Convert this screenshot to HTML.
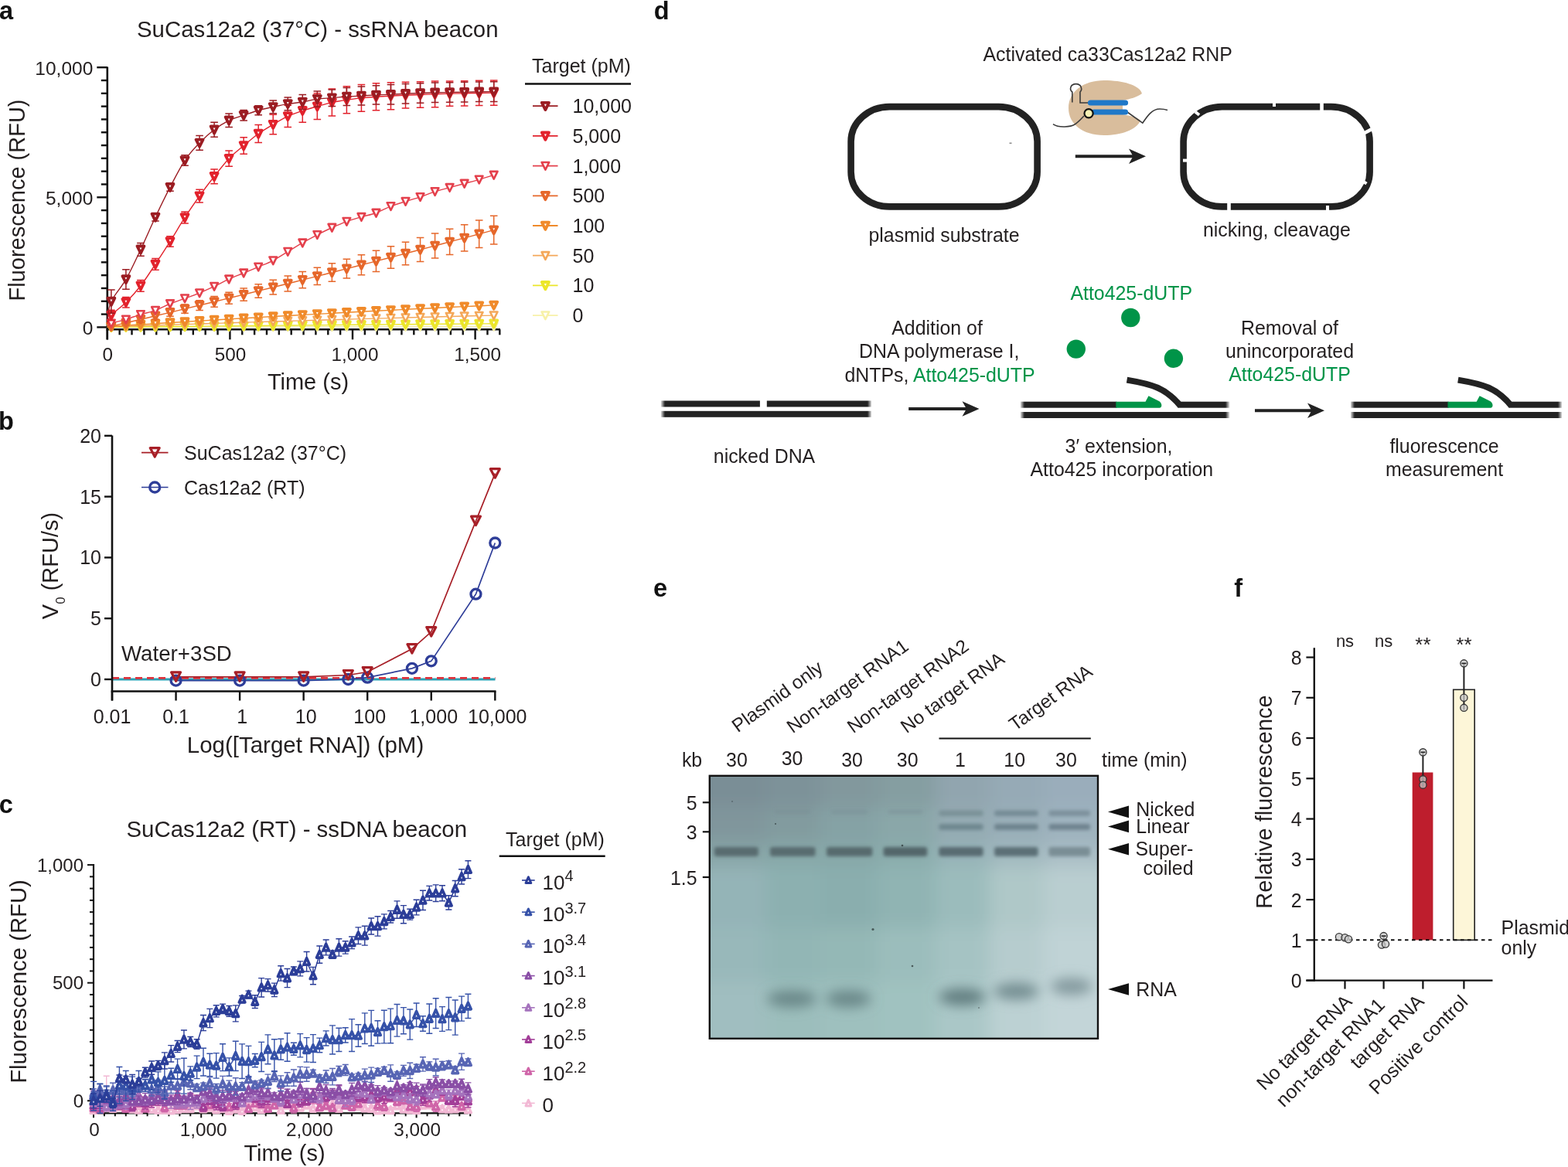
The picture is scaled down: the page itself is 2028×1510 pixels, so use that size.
<!DOCTYPE html><html><head><meta charset="utf-8"><style>html,body{margin:0;padding:0;background:#fff;}svg{display:block;}</style></head><body>
<svg width="2028" height="1510" viewBox="0 0 2028 1510" font-family='"Liberation Sans", Arial, Helvetica, sans-serif'>
<rect width="2028" height="1510" fill="#fff"/>
<text x="-1" y="24.8" font-size="32.5" font-weight="bold" fill="#111">a</text>
<text x="177" y="48.3" font-size="29.4" fill="#231f20">SuCas12a2 (37°C) - ssRNA beacon</text>
<line x1="138.8" y1="86.5" x2="138.8" y2="439.5" stroke="#111" stroke-width="2.6"/>
<line x1="137.5" y1="426.3" x2="647" y2="426.3" stroke="#111" stroke-width="2.6"/>
<line x1="125.3" y1="423.4" x2="138.8" y2="423.4" stroke="#111" stroke-width="2.4"/>
<line x1="130.8" y1="406.59" x2="138.8" y2="406.59" stroke="#111" stroke-width="2.4"/>
<line x1="130.8" y1="389.78" x2="138.8" y2="389.78" stroke="#111" stroke-width="2.4"/>
<line x1="130.8" y1="372.97" x2="138.8" y2="372.97" stroke="#111" stroke-width="2.4"/>
<line x1="130.8" y1="356.16" x2="138.8" y2="356.16" stroke="#111" stroke-width="2.4"/>
<line x1="130.8" y1="339.35" x2="138.8" y2="339.35" stroke="#111" stroke-width="2.4"/>
<line x1="130.8" y1="322.54" x2="138.8" y2="322.54" stroke="#111" stroke-width="2.4"/>
<line x1="130.8" y1="305.73" x2="138.8" y2="305.73" stroke="#111" stroke-width="2.4"/>
<line x1="130.8" y1="288.92" x2="138.8" y2="288.92" stroke="#111" stroke-width="2.4"/>
<line x1="130.8" y1="272.11" x2="138.8" y2="272.11" stroke="#111" stroke-width="2.4"/>
<line x1="125.3" y1="255.3" x2="138.8" y2="255.3" stroke="#111" stroke-width="2.4"/>
<line x1="130.8" y1="238.49" x2="138.8" y2="238.49" stroke="#111" stroke-width="2.4"/>
<line x1="130.8" y1="221.68" x2="138.8" y2="221.68" stroke="#111" stroke-width="2.4"/>
<line x1="130.8" y1="204.87" x2="138.8" y2="204.87" stroke="#111" stroke-width="2.4"/>
<line x1="130.8" y1="188.06" x2="138.8" y2="188.06" stroke="#111" stroke-width="2.4"/>
<line x1="130.8" y1="171.25" x2="138.8" y2="171.25" stroke="#111" stroke-width="2.4"/>
<line x1="130.8" y1="154.44" x2="138.8" y2="154.44" stroke="#111" stroke-width="2.4"/>
<line x1="130.8" y1="137.63" x2="138.8" y2="137.63" stroke="#111" stroke-width="2.4"/>
<line x1="130.8" y1="120.82" x2="138.8" y2="120.82" stroke="#111" stroke-width="2.4"/>
<line x1="130.8" y1="104.01" x2="138.8" y2="104.01" stroke="#111" stroke-width="2.4"/>
<line x1="125.3" y1="87.2" x2="138.8" y2="87.2" stroke="#111" stroke-width="2.4"/>
<text x="120.3" y="96.5" font-size="24.5" text-anchor="end" fill="#231f20">10,000</text>
<text x="120.3" y="264.6" font-size="24.5" text-anchor="end" fill="#231f20">5,000</text>
<text x="120.3" y="432.7" font-size="24.5" text-anchor="end" fill="#231f20">0</text>
<line x1="138.8" y1="426.3" x2="138.8" y2="439.3" stroke="#111" stroke-width="2.4"/>
<line x1="154.66" y1="426.3" x2="154.66" y2="433.3" stroke="#111" stroke-width="2.4"/>
<line x1="170.52" y1="426.3" x2="170.52" y2="433.3" stroke="#111" stroke-width="2.4"/>
<line x1="186.38" y1="426.3" x2="186.38" y2="433.3" stroke="#111" stroke-width="2.4"/>
<line x1="202.24" y1="426.3" x2="202.24" y2="433.3" stroke="#111" stroke-width="2.4"/>
<line x1="218.1" y1="426.3" x2="218.1" y2="433.3" stroke="#111" stroke-width="2.4"/>
<line x1="233.96" y1="426.3" x2="233.96" y2="433.3" stroke="#111" stroke-width="2.4"/>
<line x1="249.82" y1="426.3" x2="249.82" y2="433.3" stroke="#111" stroke-width="2.4"/>
<line x1="265.68" y1="426.3" x2="265.68" y2="433.3" stroke="#111" stroke-width="2.4"/>
<line x1="281.54" y1="426.3" x2="281.54" y2="433.3" stroke="#111" stroke-width="2.4"/>
<line x1="297.4" y1="426.3" x2="297.4" y2="439.3" stroke="#111" stroke-width="2.4"/>
<line x1="313.26" y1="426.3" x2="313.26" y2="433.3" stroke="#111" stroke-width="2.4"/>
<line x1="329.12" y1="426.3" x2="329.12" y2="433.3" stroke="#111" stroke-width="2.4"/>
<line x1="344.98" y1="426.3" x2="344.98" y2="433.3" stroke="#111" stroke-width="2.4"/>
<line x1="360.84" y1="426.3" x2="360.84" y2="433.3" stroke="#111" stroke-width="2.4"/>
<line x1="376.7" y1="426.3" x2="376.7" y2="433.3" stroke="#111" stroke-width="2.4"/>
<line x1="392.56" y1="426.3" x2="392.56" y2="433.3" stroke="#111" stroke-width="2.4"/>
<line x1="408.42" y1="426.3" x2="408.42" y2="433.3" stroke="#111" stroke-width="2.4"/>
<line x1="424.28" y1="426.3" x2="424.28" y2="433.3" stroke="#111" stroke-width="2.4"/>
<line x1="440.14" y1="426.3" x2="440.14" y2="433.3" stroke="#111" stroke-width="2.4"/>
<line x1="456" y1="426.3" x2="456" y2="439.3" stroke="#111" stroke-width="2.4"/>
<line x1="471.86" y1="426.3" x2="471.86" y2="433.3" stroke="#111" stroke-width="2.4"/>
<line x1="487.72" y1="426.3" x2="487.72" y2="433.3" stroke="#111" stroke-width="2.4"/>
<line x1="503.58" y1="426.3" x2="503.58" y2="433.3" stroke="#111" stroke-width="2.4"/>
<line x1="519.44" y1="426.3" x2="519.44" y2="433.3" stroke="#111" stroke-width="2.4"/>
<line x1="535.3" y1="426.3" x2="535.3" y2="433.3" stroke="#111" stroke-width="2.4"/>
<line x1="551.16" y1="426.3" x2="551.16" y2="433.3" stroke="#111" stroke-width="2.4"/>
<line x1="567.02" y1="426.3" x2="567.02" y2="433.3" stroke="#111" stroke-width="2.4"/>
<line x1="582.88" y1="426.3" x2="582.88" y2="433.3" stroke="#111" stroke-width="2.4"/>
<line x1="598.74" y1="426.3" x2="598.74" y2="433.3" stroke="#111" stroke-width="2.4"/>
<line x1="614.6" y1="426.3" x2="614.6" y2="439.3" stroke="#111" stroke-width="2.4"/>
<line x1="630.46" y1="426.3" x2="630.46" y2="433.3" stroke="#111" stroke-width="2.4"/>
<line x1="646.32" y1="426.3" x2="646.32" y2="433.3" stroke="#111" stroke-width="2.4"/>
<path d="M138.8 423.4 C139.65 423.4 139.86 423.4 143.88 423.39 C147.89 423.38 156.56 423.36 162.91 423.35 C169.25 423.34 175.6 423.32 181.94 423.31 C188.28 423.3 194.63 423.28 200.97 423.27 C207.32 423.25 213.66 423.24 220 423.23 C226.35 423.21 232.69 423.2 239.04 423.19 C245.38 423.17 251.72 423.16 258.07 423.15 C264.41 423.13 270.76 423.12 277.1 423.11 C283.44 423.09 289.79 423.08 296.13 423.07 C302.48 423.05 308.82 423.04 315.16 423.03 C321.51 423.01 327.85 423 334.2 422.99 C340.54 422.97 346.88 422.96 353.23 422.95 C359.57 422.93 365.92 422.92 372.26 422.91 C378.6 422.89 384.95 422.88 391.29 422.86 C397.64 422.85 403.98 422.84 410.32 422.82 C416.67 422.81 423.01 422.8 429.36 422.78 C435.7 422.77 442.04 422.76 448.39 422.74 C454.73 422.73 461.08 422.72 467.42 422.7 C473.76 422.69 480.11 422.68 486.45 422.66 C492.8 422.65 499.14 422.64 505.48 422.62 C511.83 422.61 518.17 422.6 524.52 422.58 C530.86 422.57 537.2 422.56 543.55 422.54 C549.89 422.53 556.24 422.52 562.58 422.5 C568.92 422.49 575.27 422.47 581.61 422.46 C587.96 422.45 594.3 422.43 600.64 422.42 C606.99 422.41 613.33 422.39 619.68 422.38 C626.02 422.37 635.54 422.35 638.71 422.34" fill="none" stroke="#f7f1a8" stroke-width="1.4"/>
<polygon points="139.08,418.79 148.68,418.79 143.88,428.49" fill="#fff" stroke="#f7f1a8" stroke-width="2.6" stroke-linejoin="round"/>
<polygon points="158.11,418.75 167.71,418.75 162.91,428.45" fill="#fff" stroke="#f7f1a8" stroke-width="2.6" stroke-linejoin="round"/>
<polygon points="177.14,418.71 186.74,418.71 181.94,428.41" fill="#fff" stroke="#f7f1a8" stroke-width="2.6" stroke-linejoin="round"/>
<polygon points="196.17,418.67 205.77,418.67 200.97,428.37" fill="#fff" stroke="#f7f1a8" stroke-width="2.6" stroke-linejoin="round"/>
<polygon points="215.2,418.63 224.8,418.63 220,428.33" fill="#fff" stroke="#f7f1a8" stroke-width="2.6" stroke-linejoin="round"/>
<polygon points="234.24,418.59 243.84,418.59 239.04,428.29" fill="#fff" stroke="#f7f1a8" stroke-width="2.6" stroke-linejoin="round"/>
<polygon points="253.27,418.55 262.87,418.55 258.07,428.25" fill="#fff" stroke="#f7f1a8" stroke-width="2.6" stroke-linejoin="round"/>
<polygon points="272.3,418.51 281.9,418.51 277.1,428.21" fill="#fff" stroke="#f7f1a8" stroke-width="2.6" stroke-linejoin="round"/>
<polygon points="291.33,418.47 300.93,418.47 296.13,428.17" fill="#fff" stroke="#f7f1a8" stroke-width="2.6" stroke-linejoin="round"/>
<polygon points="310.36,418.43 319.96,418.43 315.16,428.13" fill="#fff" stroke="#f7f1a8" stroke-width="2.6" stroke-linejoin="round"/>
<polygon points="329.4,418.39 339,418.39 334.2,428.09" fill="#fff" stroke="#f7f1a8" stroke-width="2.6" stroke-linejoin="round"/>
<polygon points="348.43,418.35 358.03,418.35 353.23,428.05" fill="#fff" stroke="#f7f1a8" stroke-width="2.6" stroke-linejoin="round"/>
<polygon points="367.46,418.31 377.06,418.31 372.26,428.01" fill="#fff" stroke="#f7f1a8" stroke-width="2.6" stroke-linejoin="round"/>
<polygon points="386.49,418.26 396.09,418.26 391.29,427.96" fill="#fff" stroke="#f7f1a8" stroke-width="2.6" stroke-linejoin="round"/>
<polygon points="405.52,418.22 415.12,418.22 410.32,427.92" fill="#fff" stroke="#f7f1a8" stroke-width="2.6" stroke-linejoin="round"/>
<polygon points="424.56,418.18 434.16,418.18 429.36,427.88" fill="#fff" stroke="#f7f1a8" stroke-width="2.6" stroke-linejoin="round"/>
<polygon points="443.59,418.14 453.19,418.14 448.39,427.84" fill="#fff" stroke="#f7f1a8" stroke-width="2.6" stroke-linejoin="round"/>
<polygon points="462.62,418.1 472.22,418.1 467.42,427.8" fill="#fff" stroke="#f7f1a8" stroke-width="2.6" stroke-linejoin="round"/>
<polygon points="481.65,418.06 491.25,418.06 486.45,427.76" fill="#fff" stroke="#f7f1a8" stroke-width="2.6" stroke-linejoin="round"/>
<polygon points="500.68,418.02 510.28,418.02 505.48,427.72" fill="#fff" stroke="#f7f1a8" stroke-width="2.6" stroke-linejoin="round"/>
<polygon points="519.72,417.98 529.32,417.98 524.52,427.68" fill="#fff" stroke="#f7f1a8" stroke-width="2.6" stroke-linejoin="round"/>
<polygon points="538.75,417.94 548.35,417.94 543.55,427.64" fill="#fff" stroke="#f7f1a8" stroke-width="2.6" stroke-linejoin="round"/>
<polygon points="557.78,417.9 567.38,417.9 562.58,427.6" fill="#fff" stroke="#f7f1a8" stroke-width="2.6" stroke-linejoin="round"/>
<polygon points="576.81,417.86 586.41,417.86 581.61,427.56" fill="#fff" stroke="#f7f1a8" stroke-width="2.6" stroke-linejoin="round"/>
<polygon points="595.84,417.82 605.44,417.82 600.64,427.52" fill="#fff" stroke="#f7f1a8" stroke-width="2.6" stroke-linejoin="round"/>
<polygon points="614.88,417.78 624.48,417.78 619.68,427.48" fill="#fff" stroke="#f7f1a8" stroke-width="2.6" stroke-linejoin="round"/>
<polygon points="633.91,417.74 643.51,417.74 638.71,427.44" fill="#fff" stroke="#f7f1a8" stroke-width="2.6" stroke-linejoin="round"/>
<path d="M138.8 423.38 C139.65 423.38 139.86 423.39 143.88 423.35 C147.89 423.31 156.56 423.21 162.91 423.15 C169.25 423.08 175.6 423.01 181.94 422.95 C188.28 422.88 194.63 422.82 200.97 422.75 C207.32 422.69 213.66 422.62 220 422.56 C226.35 422.49 232.69 422.43 239.04 422.36 C245.38 422.3 251.72 422.24 258.07 422.17 C264.41 422.11 270.76 422.05 277.1 421.99 C283.44 421.92 289.79 421.86 296.13 421.8 C302.48 421.74 308.82 421.68 315.16 421.61 C321.51 421.55 327.85 421.49 334.2 421.43 C340.54 421.37 346.88 421.31 353.23 421.25 C359.57 421.19 365.92 421.13 372.26 421.07 C378.6 421.01 384.95 420.95 391.29 420.89 C397.64 420.84 403.98 420.78 410.32 420.72 C416.67 420.66 423.01 420.6 429.36 420.55 C435.7 420.49 442.04 420.43 448.39 420.37 C454.73 420.32 461.08 420.26 467.42 420.21 C473.76 420.15 480.11 420.09 486.45 420.04 C492.8 419.98 499.14 419.93 505.48 419.87 C511.83 419.82 518.17 419.76 524.52 419.71 C530.86 419.66 537.2 419.6 543.55 419.55 C549.89 419.49 556.24 419.44 562.58 419.39 C568.92 419.34 575.27 419.28 581.61 419.23 C587.96 419.18 594.3 419.13 600.64 419.08 C606.99 419.02 613.33 418.97 619.68 418.92 C626.02 418.87 635.54 418.79 638.71 418.77" fill="none" stroke="#ece62a" stroke-width="1.4"/>
<polygon points="139.38,419.05 148.38,419.05 143.88,428.15" fill="#fff" stroke="#ece62a" stroke-width="3.8" stroke-linejoin="round"/>
<polygon points="158.41,418.85 167.41,418.85 162.91,427.95" fill="#fff" stroke="#ece62a" stroke-width="3.8" stroke-linejoin="round"/>
<polygon points="177.44,418.65 186.44,418.65 181.94,427.75" fill="#fff" stroke="#ece62a" stroke-width="3.8" stroke-linejoin="round"/>
<polygon points="196.47,418.45 205.47,418.45 200.97,427.55" fill="#fff" stroke="#ece62a" stroke-width="3.8" stroke-linejoin="round"/>
<polygon points="215.5,418.26 224.5,418.26 220,427.36" fill="#fff" stroke="#ece62a" stroke-width="3.8" stroke-linejoin="round"/>
<polygon points="234.54,418.06 243.54,418.06 239.04,427.16" fill="#fff" stroke="#ece62a" stroke-width="3.8" stroke-linejoin="round"/>
<polygon points="253.57,417.87 262.57,417.87 258.07,426.97" fill="#fff" stroke="#ece62a" stroke-width="3.8" stroke-linejoin="round"/>
<polygon points="272.6,417.69 281.6,417.69 277.1,426.79" fill="#fff" stroke="#ece62a" stroke-width="3.8" stroke-linejoin="round"/>
<polygon points="291.63,417.5 300.63,417.5 296.13,426.6" fill="#fff" stroke="#ece62a" stroke-width="3.8" stroke-linejoin="round"/>
<polygon points="310.66,417.31 319.66,417.31 315.16,426.41" fill="#fff" stroke="#ece62a" stroke-width="3.8" stroke-linejoin="round"/>
<polygon points="329.7,417.13 338.7,417.13 334.2,426.23" fill="#fff" stroke="#ece62a" stroke-width="3.8" stroke-linejoin="round"/>
<polygon points="348.73,416.95 357.73,416.95 353.23,426.05" fill="#fff" stroke="#ece62a" stroke-width="3.8" stroke-linejoin="round"/>
<polygon points="367.76,416.77 376.76,416.77 372.26,425.87" fill="#fff" stroke="#ece62a" stroke-width="3.8" stroke-linejoin="round"/>
<polygon points="386.79,416.59 395.79,416.59 391.29,425.69" fill="#fff" stroke="#ece62a" stroke-width="3.8" stroke-linejoin="round"/>
<polygon points="405.82,416.42 414.82,416.42 410.32,425.52" fill="#fff" stroke="#ece62a" stroke-width="3.8" stroke-linejoin="round"/>
<polygon points="424.86,416.25 433.86,416.25 429.36,425.35" fill="#fff" stroke="#ece62a" stroke-width="3.8" stroke-linejoin="round"/>
<polygon points="443.89,416.07 452.89,416.07 448.39,425.17" fill="#fff" stroke="#ece62a" stroke-width="3.8" stroke-linejoin="round"/>
<polygon points="462.92,415.91 471.92,415.91 467.42,425.01" fill="#fff" stroke="#ece62a" stroke-width="3.8" stroke-linejoin="round"/>
<polygon points="481.95,415.74 490.95,415.74 486.45,424.84" fill="#fff" stroke="#ece62a" stroke-width="3.8" stroke-linejoin="round"/>
<polygon points="500.98,415.57 509.98,415.57 505.48,424.67" fill="#fff" stroke="#ece62a" stroke-width="3.8" stroke-linejoin="round"/>
<polygon points="520.02,415.41 529.02,415.41 524.52,424.51" fill="#fff" stroke="#ece62a" stroke-width="3.8" stroke-linejoin="round"/>
<polygon points="539.05,415.25 548.05,415.25 543.55,424.35" fill="#fff" stroke="#ece62a" stroke-width="3.8" stroke-linejoin="round"/>
<polygon points="558.08,415.09 567.08,415.09 562.58,424.19" fill="#fff" stroke="#ece62a" stroke-width="3.8" stroke-linejoin="round"/>
<polygon points="577.11,414.93 586.11,414.93 581.61,424.03" fill="#fff" stroke="#ece62a" stroke-width="3.8" stroke-linejoin="round"/>
<polygon points="596.14,414.78 605.14,414.78 600.64,423.88" fill="#fff" stroke="#ece62a" stroke-width="3.8" stroke-linejoin="round"/>
<polygon points="615.18,414.62 624.18,414.62 619.68,423.72" fill="#fff" stroke="#ece62a" stroke-width="3.8" stroke-linejoin="round"/>
<polygon points="634.21,414.47 643.21,414.47 638.71,423.57" fill="#fff" stroke="#ece62a" stroke-width="3.8" stroke-linejoin="round"/>
<path d="M138.8 423.25 C139.65 423.19 139.86 423.06 143.88 422.89 C147.89 422.72 156.56 422.45 162.91 422.23 C169.25 422.01 175.6 421.79 181.94 421.57 C188.28 421.36 194.63 421.14 200.97 420.93 C207.32 420.71 213.66 420.5 220 420.29 C226.35 420.08 232.69 419.87 239.04 419.66 C245.38 419.45 251.72 419.24 258.07 419.03 C264.41 418.83 270.76 418.62 277.1 418.42 C283.44 418.21 289.79 418.01 296.13 417.81 C302.48 417.61 308.82 417.41 315.16 417.21 C321.51 417.01 327.85 416.81 334.2 416.61 C340.54 416.42 346.88 416.22 353.23 416.02 C359.57 415.83 365.92 415.64 372.26 415.44 C378.6 415.25 384.95 415.06 391.29 414.87 C397.64 414.68 403.98 414.49 410.32 414.31 C416.67 414.12 423.01 413.93 429.36 413.75 C435.7 413.56 442.04 413.38 448.39 413.2 C454.73 413.01 461.08 412.83 467.42 412.65 C473.76 412.47 480.11 412.29 486.45 412.12 C492.8 411.94 499.14 411.76 505.48 411.59 C511.83 411.41 518.17 411.24 524.52 411.06 C530.86 410.89 537.2 410.72 543.55 410.55 C549.89 410.38 556.24 410.21 562.58 410.04 C568.92 409.87 575.27 409.71 581.61 409.54 C587.96 409.38 594.3 409.21 600.64 409.05 C606.99 408.89 613.33 408.72 619.68 408.56 C626.02 408.4 635.54 408.16 638.71 408.08" fill="none" stroke="#f4a85a" stroke-width="1.4"/>
<polygon points="139.08,418.29 148.68,418.29 143.88,427.99" fill="#fff" stroke="#f4a85a" stroke-width="2.6" stroke-linejoin="round"/>
<polygon points="158.11,417.63 167.71,417.63 162.91,427.33" fill="#fff" stroke="#f4a85a" stroke-width="2.6" stroke-linejoin="round"/>
<polygon points="177.14,416.97 186.74,416.97 181.94,426.67" fill="#fff" stroke="#f4a85a" stroke-width="2.6" stroke-linejoin="round"/>
<polygon points="196.17,416.33 205.77,416.33 200.97,426.03" fill="#fff" stroke="#f4a85a" stroke-width="2.6" stroke-linejoin="round"/>
<polygon points="215.2,415.69 224.8,415.69 220,425.39" fill="#fff" stroke="#f4a85a" stroke-width="2.6" stroke-linejoin="round"/>
<polygon points="234.24,415.06 243.84,415.06 239.04,424.76" fill="#fff" stroke="#f4a85a" stroke-width="2.6" stroke-linejoin="round"/>
<polygon points="253.27,414.43 262.87,414.43 258.07,424.13" fill="#fff" stroke="#f4a85a" stroke-width="2.6" stroke-linejoin="round"/>
<polygon points="272.3,413.82 281.9,413.82 277.1,423.52" fill="#fff" stroke="#f4a85a" stroke-width="2.6" stroke-linejoin="round"/>
<polygon points="291.33,413.21 300.93,413.21 296.13,422.91" fill="#fff" stroke="#f4a85a" stroke-width="2.6" stroke-linejoin="round"/>
<polygon points="310.36,412.61 319.96,412.61 315.16,422.31" fill="#fff" stroke="#f4a85a" stroke-width="2.6" stroke-linejoin="round"/>
<polygon points="329.4,412.01 339,412.01 334.2,421.71" fill="#fff" stroke="#f4a85a" stroke-width="2.6" stroke-linejoin="round"/>
<polygon points="348.43,411.42 358.03,411.42 353.23,421.12" fill="#fff" stroke="#f4a85a" stroke-width="2.6" stroke-linejoin="round"/>
<polygon points="367.46,410.84 377.06,410.84 372.26,420.54" fill="#fff" stroke="#f4a85a" stroke-width="2.6" stroke-linejoin="round"/>
<polygon points="386.49,410.27 396.09,410.27 391.29,419.97" fill="#fff" stroke="#f4a85a" stroke-width="2.6" stroke-linejoin="round"/>
<polygon points="405.52,409.71 415.12,409.71 410.32,419.41" fill="#fff" stroke="#f4a85a" stroke-width="2.6" stroke-linejoin="round"/>
<polygon points="424.56,409.15 434.16,409.15 429.36,418.85" fill="#fff" stroke="#f4a85a" stroke-width="2.6" stroke-linejoin="round"/>
<polygon points="443.59,408.6 453.19,408.6 448.39,418.3" fill="#fff" stroke="#f4a85a" stroke-width="2.6" stroke-linejoin="round"/>
<polygon points="462.62,408.05 472.22,408.05 467.42,417.75" fill="#fff" stroke="#f4a85a" stroke-width="2.6" stroke-linejoin="round"/>
<polygon points="481.65,407.52 491.25,407.52 486.45,417.22" fill="#fff" stroke="#f4a85a" stroke-width="2.6" stroke-linejoin="round"/>
<polygon points="500.68,406.99 510.28,406.99 505.48,416.69" fill="#fff" stroke="#f4a85a" stroke-width="2.6" stroke-linejoin="round"/>
<polygon points="519.72,406.46 529.32,406.46 524.52,416.16" fill="#fff" stroke="#f4a85a" stroke-width="2.6" stroke-linejoin="round"/>
<polygon points="538.75,405.95 548.35,405.95 543.55,415.65" fill="#fff" stroke="#f4a85a" stroke-width="2.6" stroke-linejoin="round"/>
<polygon points="557.78,405.44 567.38,405.44 562.58,415.14" fill="#fff" stroke="#f4a85a" stroke-width="2.6" stroke-linejoin="round"/>
<polygon points="576.81,404.94 586.41,404.94 581.61,414.64" fill="#fff" stroke="#f4a85a" stroke-width="2.6" stroke-linejoin="round"/>
<polygon points="595.84,404.45 605.44,404.45 600.64,414.15" fill="#fff" stroke="#f4a85a" stroke-width="2.6" stroke-linejoin="round"/>
<polygon points="614.88,403.96 624.48,403.96 619.68,413.66" fill="#fff" stroke="#f4a85a" stroke-width="2.6" stroke-linejoin="round"/>
<polygon points="633.91,403.48 643.51,403.48 638.71,413.18" fill="#fff" stroke="#f4a85a" stroke-width="2.6" stroke-linejoin="round"/>
<path d="M138.8 423.1 C139.65 422.98 139.86 422.72 143.88 422.39 C147.89 422.07 156.56 421.57 162.91 421.16 C169.25 420.74 175.6 420.34 181.94 419.93 C188.28 419.52 194.63 419.12 200.97 418.72 C207.32 418.32 213.66 417.92 220 417.52 C226.35 417.13 232.69 416.73 239.04 416.34 C245.38 415.95 251.72 415.56 258.07 415.18 C264.41 414.79 270.76 414.4 277.1 414.02 C283.44 413.64 289.79 413.26 296.13 412.89 C302.48 412.51 308.82 412.13 315.16 411.76 C321.51 411.39 327.85 411.02 334.2 410.65 C340.54 410.29 346.88 409.92 353.23 409.56 C359.57 409.2 365.92 408.84 372.26 408.48 C378.6 408.12 384.95 407.77 391.29 407.41 C397.64 407.06 403.98 406.71 410.32 406.36 C416.67 406.02 423.01 405.67 429.36 405.33 C435.7 404.98 442.04 404.64 448.39 404.31 C454.73 403.97 461.08 403.63 467.42 403.3 C473.76 402.96 480.11 402.63 486.45 402.31 C492.8 401.98 499.14 401.65 505.48 401.33 C511.83 401 518.17 400.68 524.52 400.36 C530.86 400.04 537.2 399.73 543.55 399.41 C549.89 399.1 556.24 398.79 562.58 398.48 C568.92 398.17 575.27 397.86 581.61 397.56 C587.96 397.26 594.3 396.95 600.64 396.65 C606.99 396.36 613.33 396.06 619.68 395.76 C626.02 395.47 635.54 395.03 638.71 394.89" fill="none" stroke="#f08a2a" stroke-width="1.4"/>
<polygon points="139.38,418.09 148.38,418.09 143.88,427.19" fill="#fff" stroke="#f08a2a" stroke-width="3.8" stroke-linejoin="round"/>
<polygon points="158.41,416.86 167.41,416.86 162.91,425.96" fill="#fff" stroke="#f08a2a" stroke-width="3.8" stroke-linejoin="round"/>
<polygon points="177.44,415.63 186.44,415.63 181.94,424.73" fill="#fff" stroke="#f08a2a" stroke-width="3.8" stroke-linejoin="round"/>
<polygon points="196.47,414.42 205.47,414.42 200.97,423.52" fill="#fff" stroke="#f08a2a" stroke-width="3.8" stroke-linejoin="round"/>
<polygon points="215.5,413.22 224.5,413.22 220,422.32" fill="#fff" stroke="#f08a2a" stroke-width="3.8" stroke-linejoin="round"/>
<polygon points="234.54,412.04 243.54,412.04 239.04,421.14" fill="#fff" stroke="#f08a2a" stroke-width="3.8" stroke-linejoin="round"/>
<polygon points="253.57,410.88 262.57,410.88 258.07,419.98" fill="#fff" stroke="#f08a2a" stroke-width="3.8" stroke-linejoin="round"/>
<polygon points="272.6,409.72 281.6,409.72 277.1,418.82" fill="#fff" stroke="#f08a2a" stroke-width="3.8" stroke-linejoin="round"/>
<polygon points="291.63,408.59 300.63,408.59 296.13,417.69" fill="#fff" stroke="#f08a2a" stroke-width="3.8" stroke-linejoin="round"/>
<polygon points="310.66,407.46 319.66,407.46 315.16,416.56" fill="#fff" stroke="#f08a2a" stroke-width="3.8" stroke-linejoin="round"/>
<polygon points="329.7,406.35 338.7,406.35 334.2,415.45" fill="#fff" stroke="#f08a2a" stroke-width="3.8" stroke-linejoin="round"/>
<polygon points="348.73,405.26 357.73,405.26 353.23,414.36" fill="#fff" stroke="#f08a2a" stroke-width="3.8" stroke-linejoin="round"/>
<polygon points="367.76,404.18 376.76,404.18 372.26,413.28" fill="#fff" stroke="#f08a2a" stroke-width="3.8" stroke-linejoin="round"/>
<polygon points="386.79,403.11 395.79,403.11 391.29,412.21" fill="#fff" stroke="#f08a2a" stroke-width="3.8" stroke-linejoin="round"/>
<polygon points="405.82,402.06 414.82,402.06 410.32,411.16" fill="#fff" stroke="#f08a2a" stroke-width="3.8" stroke-linejoin="round"/>
<polygon points="424.86,401.03 433.86,401.03 429.36,410.13" fill="#fff" stroke="#f08a2a" stroke-width="3.8" stroke-linejoin="round"/>
<polygon points="443.89,400.01 452.89,400.01 448.39,409.11" fill="#fff" stroke="#f08a2a" stroke-width="3.8" stroke-linejoin="round"/>
<polygon points="462.92,399 471.92,399 467.42,408.1" fill="#fff" stroke="#f08a2a" stroke-width="3.8" stroke-linejoin="round"/>
<polygon points="481.95,398.01 490.95,398.01 486.45,407.11" fill="#fff" stroke="#f08a2a" stroke-width="3.8" stroke-linejoin="round"/>
<polygon points="500.98,397.03 509.98,397.03 505.48,406.13" fill="#fff" stroke="#f08a2a" stroke-width="3.8" stroke-linejoin="round"/>
<polygon points="520.02,396.06 529.02,396.06 524.52,405.16" fill="#fff" stroke="#f08a2a" stroke-width="3.8" stroke-linejoin="round"/>
<polygon points="539.05,395.11 548.05,395.11 543.55,404.21" fill="#fff" stroke="#f08a2a" stroke-width="3.8" stroke-linejoin="round"/>
<polygon points="558.08,394.18 567.08,394.18 562.58,403.28" fill="#fff" stroke="#f08a2a" stroke-width="3.8" stroke-linejoin="round"/>
<polygon points="577.11,393.26 586.11,393.26 581.61,402.36" fill="#fff" stroke="#f08a2a" stroke-width="3.8" stroke-linejoin="round"/>
<polygon points="596.14,392.35 605.14,392.35 600.64,401.45" fill="#fff" stroke="#f08a2a" stroke-width="3.8" stroke-linejoin="round"/>
<polygon points="615.18,391.46 624.18,391.46 619.68,400.56" fill="#fff" stroke="#f08a2a" stroke-width="3.8" stroke-linejoin="round"/>
<polygon points="634.21,390.59 643.21,390.59 638.71,399.69" fill="#fff" stroke="#f08a2a" stroke-width="3.8" stroke-linejoin="round"/>
<path d="M138.8 423.04 C139.65 422.91 139.86 423.1 143.88 422.22 C147.89 421.33 156.56 419.25 162.91 417.76 C169.25 416.27 175.6 414.77 181.94 413.27 C188.28 411.77 194.63 410.27 200.97 408.76 C207.32 407.25 213.66 405.74 220 404.22 C226.35 402.71 232.69 401.18 239.04 399.66 C245.38 398.13 251.72 396.6 258.07 395.07 C264.41 393.53 270.76 391.99 277.1 390.45 C283.44 388.9 289.79 387.36 296.13 385.8 C302.48 384.25 308.82 382.69 315.16 381.13 C321.51 379.57 327.85 378.01 334.2 376.43 C340.54 374.86 346.88 373.29 353.23 371.71 C359.57 370.13 365.92 368.55 372.26 366.96 C378.6 365.37 384.95 363.78 391.29 362.18 C397.64 360.58 403.98 358.98 410.32 357.38 C416.67 355.77 423.01 354.16 429.36 352.55 C435.7 350.93 442.04 349.31 448.39 347.69 C454.73 346.06 461.08 344.44 467.42 342.8 C473.76 341.17 480.11 339.53 486.45 337.89 C492.8 336.25 499.14 334.61 505.48 332.96 C511.83 331.31 518.17 329.65 524.52 327.99 C530.86 326.33 537.2 324.67 543.55 323 C549.89 321.33 556.24 319.66 562.58 317.98 C568.92 316.31 575.27 314.62 581.61 312.94 C587.96 311.25 594.3 309.56 600.64 307.87 C606.99 306.17 613.33 304.47 619.68 302.77 C626.02 301.07 635.54 298.5 638.71 297.65" fill="none" stroke="#e6672a" stroke-width="1.4"/>
<path d="M162.91 414.46V421.05M158.11 414.46H167.71M158.11 421.05H167.71" stroke="#e6672a" stroke-width="1.5" fill="none"/>
<path d="M181.94 409.37V417.17M177.14 409.37H186.74M177.14 417.17H186.74" stroke="#e6672a" stroke-width="1.5" fill="none"/>
<path d="M200.97 404.26V413.27M196.17 404.26H205.77M196.17 413.27H205.77" stroke="#e6672a" stroke-width="1.5" fill="none"/>
<path d="M220 399.11V409.33M215.2 399.11H224.8M215.2 409.33H224.8" stroke="#e6672a" stroke-width="1.5" fill="none"/>
<path d="M239.04 393.94V405.37M234.24 393.94H243.84M234.24 405.37H243.84" stroke="#e6672a" stroke-width="1.5" fill="none"/>
<path d="M258.07 388.75V401.39M253.27 388.75H262.87M253.27 401.39H262.87" stroke="#e6672a" stroke-width="1.5" fill="none"/>
<path d="M277.1 383.52V397.37M272.3 383.52H281.9M272.3 397.37H281.9" stroke="#e6672a" stroke-width="1.5" fill="none"/>
<path d="M296.13 378.27V393.33M291.33 378.27H300.93M291.33 393.33H300.93" stroke="#e6672a" stroke-width="1.5" fill="none"/>
<path d="M315.16 373V389.27M310.36 373H319.96M310.36 389.27H319.96" stroke="#e6672a" stroke-width="1.5" fill="none"/>
<path d="M334.2 367.69V385.18M329.4 367.69H339M329.4 385.18H339" stroke="#e6672a" stroke-width="1.5" fill="none"/>
<path d="M353.23 362.36V381.06M348.43 362.36H358.03M348.43 381.06H358.03" stroke="#e6672a" stroke-width="1.5" fill="none"/>
<path d="M372.26 357.01V376.91M367.46 357.01H377.06M367.46 376.91H377.06" stroke="#e6672a" stroke-width="1.5" fill="none"/>
<path d="M391.29 351.62V372.74M386.49 351.62H396.09M386.49 372.74H396.09" stroke="#e6672a" stroke-width="1.5" fill="none"/>
<path d="M410.32 346.22V368.54M405.52 346.22H415.12M405.52 368.54H415.12" stroke="#e6672a" stroke-width="1.5" fill="none"/>
<path d="M429.36 340.78V364.31M424.56 340.78H434.16M424.56 364.31H434.16" stroke="#e6672a" stroke-width="1.5" fill="none"/>
<path d="M448.39 335.32V360.06M443.59 335.32H453.19M443.59 360.06H453.19" stroke="#e6672a" stroke-width="1.5" fill="none"/>
<path d="M467.42 329.83V355.78M462.62 329.83H472.22M462.62 355.78H472.22" stroke="#e6672a" stroke-width="1.5" fill="none"/>
<path d="M486.45 324.31V351.48M481.65 324.31H491.25M481.65 351.48H491.25" stroke="#e6672a" stroke-width="1.5" fill="none"/>
<path d="M505.48 318.77V347.14M500.68 318.77H510.28M500.68 347.14H510.28" stroke="#e6672a" stroke-width="1.5" fill="none"/>
<path d="M524.52 313.2V342.78M519.72 313.2H529.32M519.72 342.78H529.32" stroke="#e6672a" stroke-width="1.5" fill="none"/>
<path d="M543.55 307.6V338.4M538.75 307.6H548.35M538.75 338.4H548.35" stroke="#e6672a" stroke-width="1.5" fill="none"/>
<path d="M562.58 301.98V333.99M557.78 301.98H567.38M557.78 333.99H567.38" stroke="#e6672a" stroke-width="1.5" fill="none"/>
<path d="M581.61 296.33V329.55M576.81 296.33H586.41M576.81 329.55H586.41" stroke="#e6672a" stroke-width="1.5" fill="none"/>
<path d="M600.64 290.66V325.08M595.84 290.66H605.44M595.84 325.08H605.44" stroke="#e6672a" stroke-width="1.5" fill="none"/>
<path d="M619.68 284.95V320.59M614.88 284.95H624.48M614.88 320.59H624.48" stroke="#e6672a" stroke-width="1.5" fill="none"/>
<path d="M638.71 279.22V316.07M633.91 279.22H643.51M633.91 316.07H643.51" stroke="#e6672a" stroke-width="1.5" fill="none"/>
<polygon points="139.38,417.92 148.38,417.92 143.88,427.02" fill="#fff" stroke="#e6672a" stroke-width="3.8" stroke-linejoin="round"/>
<polygon points="158.41,413.46 167.41,413.46 162.91,422.56" fill="#fff" stroke="#e6672a" stroke-width="3.8" stroke-linejoin="round"/>
<polygon points="177.44,408.97 186.44,408.97 181.94,418.07" fill="#fff" stroke="#e6672a" stroke-width="3.8" stroke-linejoin="round"/>
<polygon points="196.47,404.46 205.47,404.46 200.97,413.56" fill="#fff" stroke="#e6672a" stroke-width="3.8" stroke-linejoin="round"/>
<polygon points="215.5,399.92 224.5,399.92 220,409.02" fill="#fff" stroke="#e6672a" stroke-width="3.8" stroke-linejoin="round"/>
<polygon points="234.54,395.36 243.54,395.36 239.04,404.46" fill="#fff" stroke="#e6672a" stroke-width="3.8" stroke-linejoin="round"/>
<polygon points="253.57,390.77 262.57,390.77 258.07,399.87" fill="#fff" stroke="#e6672a" stroke-width="3.8" stroke-linejoin="round"/>
<polygon points="272.6,386.15 281.6,386.15 277.1,395.25" fill="#fff" stroke="#e6672a" stroke-width="3.8" stroke-linejoin="round"/>
<polygon points="291.63,381.5 300.63,381.5 296.13,390.6" fill="#fff" stroke="#e6672a" stroke-width="3.8" stroke-linejoin="round"/>
<polygon points="310.66,376.83 319.66,376.83 315.16,385.93" fill="#fff" stroke="#e6672a" stroke-width="3.8" stroke-linejoin="round"/>
<polygon points="329.7,372.13 338.7,372.13 334.2,381.23" fill="#fff" stroke="#e6672a" stroke-width="3.8" stroke-linejoin="round"/>
<polygon points="348.73,367.41 357.73,367.41 353.23,376.51" fill="#fff" stroke="#e6672a" stroke-width="3.8" stroke-linejoin="round"/>
<polygon points="367.76,362.66 376.76,362.66 372.26,371.76" fill="#fff" stroke="#e6672a" stroke-width="3.8" stroke-linejoin="round"/>
<polygon points="386.79,357.88 395.79,357.88 391.29,366.98" fill="#fff" stroke="#e6672a" stroke-width="3.8" stroke-linejoin="round"/>
<polygon points="405.82,353.08 414.82,353.08 410.32,362.18" fill="#fff" stroke="#e6672a" stroke-width="3.8" stroke-linejoin="round"/>
<polygon points="424.86,348.25 433.86,348.25 429.36,357.35" fill="#fff" stroke="#e6672a" stroke-width="3.8" stroke-linejoin="round"/>
<polygon points="443.89,343.39 452.89,343.39 448.39,352.49" fill="#fff" stroke="#e6672a" stroke-width="3.8" stroke-linejoin="round"/>
<polygon points="462.92,338.5 471.92,338.5 467.42,347.6" fill="#fff" stroke="#e6672a" stroke-width="3.8" stroke-linejoin="round"/>
<polygon points="481.95,333.59 490.95,333.59 486.45,342.69" fill="#fff" stroke="#e6672a" stroke-width="3.8" stroke-linejoin="round"/>
<polygon points="500.98,328.66 509.98,328.66 505.48,337.76" fill="#fff" stroke="#e6672a" stroke-width="3.8" stroke-linejoin="round"/>
<polygon points="520.02,323.69 529.02,323.69 524.52,332.79" fill="#fff" stroke="#e6672a" stroke-width="3.8" stroke-linejoin="round"/>
<polygon points="539.05,318.7 548.05,318.7 543.55,327.8" fill="#fff" stroke="#e6672a" stroke-width="3.8" stroke-linejoin="round"/>
<polygon points="558.08,313.68 567.08,313.68 562.58,322.78" fill="#fff" stroke="#e6672a" stroke-width="3.8" stroke-linejoin="round"/>
<polygon points="577.11,308.64 586.11,308.64 581.61,317.74" fill="#fff" stroke="#e6672a" stroke-width="3.8" stroke-linejoin="round"/>
<polygon points="596.14,303.57 605.14,303.57 600.64,312.67" fill="#fff" stroke="#e6672a" stroke-width="3.8" stroke-linejoin="round"/>
<polygon points="615.18,298.47 624.18,298.47 619.68,307.57" fill="#fff" stroke="#e6672a" stroke-width="3.8" stroke-linejoin="round"/>
<polygon points="634.21,293.35 643.21,293.35 638.71,302.45" fill="#fff" stroke="#e6672a" stroke-width="3.8" stroke-linejoin="round"/>
<path d="M138.8 421.89 C139.65 421.3 139.86 419.79 143.88 418.36 C147.89 416.93 156.56 415.24 162.91 413.31 C169.25 411.39 175.6 408.77 181.94 406.83 C188.28 404.88 194.63 403.95 200.97 401.65 C207.32 399.34 213.66 395.6 220 393.01 C226.35 390.41 232.69 388.39 239.04 386.08 C245.38 383.77 251.72 381.74 258.07 379.16 C264.41 376.57 270.76 373.54 277.1 370.55 C283.44 367.56 289.79 364.08 296.13 361.2 C302.48 358.32 308.82 355.92 315.16 353.27 C321.51 350.62 327.85 348.01 334.2 345.3 C340.54 342.59 346.88 340.31 353.23 337.03 C359.57 333.75 365.92 329.44 372.26 325.63 C378.6 321.83 384.95 317.83 391.29 314.2 C397.64 310.57 403.98 307.13 410.32 303.85 C416.67 300.56 423.01 297.38 429.36 294.5 C435.7 291.62 442.04 288.87 448.39 286.57 C454.73 284.26 461.08 282.53 467.42 280.68 C473.76 278.84 480.11 277.81 486.45 275.51 C492.8 273.2 499.14 269.34 505.48 266.87 C511.83 264.39 518.17 262.66 524.52 260.65 C530.86 258.63 537.2 256.92 543.55 254.8 C549.89 252.67 556.24 249.89 562.58 247.87 C568.92 245.85 575.27 244.42 581.61 242.69 C587.96 240.97 594.3 239.24 600.64 237.52 C606.99 235.79 613.33 234.18 619.68 232.34 C626.02 230.49 635.54 227.43 638.71 226.45" fill="none" stroke="#e4404c" stroke-width="1.4"/>
<polygon points="139.08,413.76 148.68,413.76 143.88,423.46" fill="#fff" stroke="#e4404c" stroke-width="2.6" stroke-linejoin="round"/>
<polygon points="158.11,408.71 167.71,408.71 162.91,418.41" fill="#fff" stroke="#e4404c" stroke-width="2.6" stroke-linejoin="round"/>
<polygon points="177.14,402.23 186.74,402.23 181.94,411.93" fill="#fff" stroke="#e4404c" stroke-width="2.6" stroke-linejoin="round"/>
<polygon points="196.17,397.05 205.77,397.05 200.97,406.75" fill="#fff" stroke="#e4404c" stroke-width="2.6" stroke-linejoin="round"/>
<polygon points="215.2,388.41 224.8,388.41 220,398.11" fill="#fff" stroke="#e4404c" stroke-width="2.6" stroke-linejoin="round"/>
<polygon points="234.24,381.48 243.84,381.48 239.04,391.18" fill="#fff" stroke="#e4404c" stroke-width="2.6" stroke-linejoin="round"/>
<polygon points="253.27,374.56 262.87,374.56 258.07,384.26" fill="#fff" stroke="#e4404c" stroke-width="2.6" stroke-linejoin="round"/>
<polygon points="272.3,365.95 281.9,365.95 277.1,375.65" fill="#fff" stroke="#e4404c" stroke-width="2.6" stroke-linejoin="round"/>
<polygon points="291.33,356.6 300.93,356.6 296.13,366.3" fill="#fff" stroke="#e4404c" stroke-width="2.6" stroke-linejoin="round"/>
<polygon points="310.36,348.67 319.96,348.67 315.16,358.37" fill="#fff" stroke="#e4404c" stroke-width="2.6" stroke-linejoin="round"/>
<polygon points="329.4,340.7 339,340.7 334.2,350.4" fill="#fff" stroke="#e4404c" stroke-width="2.6" stroke-linejoin="round"/>
<polygon points="348.43,332.43 358.03,332.43 353.23,342.13" fill="#fff" stroke="#e4404c" stroke-width="2.6" stroke-linejoin="round"/>
<polygon points="367.46,321.03 377.06,321.03 372.26,330.73" fill="#fff" stroke="#e4404c" stroke-width="2.6" stroke-linejoin="round"/>
<polygon points="386.49,309.6 396.09,309.6 391.29,319.3" fill="#fff" stroke="#e4404c" stroke-width="2.6" stroke-linejoin="round"/>
<polygon points="405.52,299.25 415.12,299.25 410.32,308.95" fill="#fff" stroke="#e4404c" stroke-width="2.6" stroke-linejoin="round"/>
<polygon points="424.56,289.9 434.16,289.9 429.36,299.6" fill="#fff" stroke="#e4404c" stroke-width="2.6" stroke-linejoin="round"/>
<polygon points="443.59,281.97 453.19,281.97 448.39,291.67" fill="#fff" stroke="#e4404c" stroke-width="2.6" stroke-linejoin="round"/>
<polygon points="462.62,276.08 472.22,276.08 467.42,285.78" fill="#fff" stroke="#e4404c" stroke-width="2.6" stroke-linejoin="round"/>
<polygon points="481.65,270.91 491.25,270.91 486.45,280.61" fill="#fff" stroke="#e4404c" stroke-width="2.6" stroke-linejoin="round"/>
<polygon points="500.68,262.27 510.28,262.27 505.48,271.97" fill="#fff" stroke="#e4404c" stroke-width="2.6" stroke-linejoin="round"/>
<polygon points="519.72,256.05 529.32,256.05 524.52,265.75" fill="#fff" stroke="#e4404c" stroke-width="2.6" stroke-linejoin="round"/>
<polygon points="538.75,250.2 548.35,250.2 543.55,259.9" fill="#fff" stroke="#e4404c" stroke-width="2.6" stroke-linejoin="round"/>
<polygon points="557.78,243.27 567.38,243.27 562.58,252.97" fill="#fff" stroke="#e4404c" stroke-width="2.6" stroke-linejoin="round"/>
<polygon points="576.81,238.09 586.41,238.09 581.61,247.79" fill="#fff" stroke="#e4404c" stroke-width="2.6" stroke-linejoin="round"/>
<polygon points="595.84,232.92 605.44,232.92 600.64,242.62" fill="#fff" stroke="#e4404c" stroke-width="2.6" stroke-linejoin="round"/>
<polygon points="614.88,227.74 624.48,227.74 619.68,237.44" fill="#fff" stroke="#e4404c" stroke-width="2.6" stroke-linejoin="round"/>
<polygon points="633.91,221.85 643.51,221.85 638.71,231.55" fill="#fff" stroke="#e4404c" stroke-width="2.6" stroke-linejoin="round"/>
<path d="M138.8 418.75 C139.65 416.94 139.86 412.49 143.88 407.9 C147.89 403.31 156.56 397.55 162.91 391.19 C169.25 384.84 175.6 377.99 181.94 369.78 C188.28 361.56 194.63 351.45 200.97 341.91 C207.32 332.36 213.66 322.56 220 312.49 C226.35 302.42 232.69 291.31 239.04 281.49 C245.38 271.67 251.72 262.45 258.07 253.59 C264.41 244.72 270.76 236.37 277.1 228.3 C283.44 220.24 289.79 211.84 296.13 205.21 C302.48 198.57 308.82 193.87 315.16 188.5 C321.51 183.13 327.85 177.56 334.2 173 C340.54 168.43 346.88 164.86 353.23 161.1 C359.57 157.33 365.92 153.39 372.26 150.41 C378.6 147.42 384.95 145.34 391.29 143.21 C397.64 141.08 403.98 139.4 410.32 137.63 C416.67 135.86 423.01 133.99 429.36 132.59 C435.7 131.19 442.04 130.18 448.39 129.23 C454.73 128.27 461.08 127.54 467.42 126.87 C473.76 126.2 480.11 125.64 486.45 125.19 C492.8 124.74 499.14 124.52 505.48 124.18 C511.83 123.85 518.17 123.45 524.52 123.17 C530.86 122.89 537.2 122.73 543.55 122.5 C549.89 122.28 556.24 122.05 562.58 121.83 C568.92 121.6 575.27 121.32 581.61 121.16 C587.96 120.99 594.3 120.93 600.64 120.82 C606.99 120.71 613.33 120.6 619.68 120.48 C626.02 120.37 635.54 120.2 638.71 120.15" fill="none" stroke="#e2222c" stroke-width="1.4"/>
<path d="M143.88 401.18V414.63M139.08 401.18H148.68M139.08 414.63H148.68" stroke="#e2222c" stroke-width="1.5" fill="none"/>
<path d="M162.91 384.47V397.92M158.11 384.47H167.71M158.11 397.92H167.71" stroke="#e2222c" stroke-width="1.5" fill="none"/>
<path d="M181.94 362.38V377.17M177.14 362.38H186.74M177.14 377.17H186.74" stroke="#e2222c" stroke-width="1.5" fill="none"/>
<path d="M200.97 334.51V349.3M196.17 334.51H205.77M196.17 349.3H205.77" stroke="#e2222c" stroke-width="1.5" fill="none"/>
<path d="M220 305.76V319.21M215.2 305.76H224.8M215.2 319.21H224.8" stroke="#e2222c" stroke-width="1.5" fill="none"/>
<path d="M239.04 274.09V288.89M234.24 274.09H243.84M234.24 288.89H243.84" stroke="#e2222c" stroke-width="1.5" fill="none"/>
<path d="M258.07 245.18V261.99M253.27 245.18H262.87M253.27 261.99H262.87" stroke="#e2222c" stroke-width="1.5" fill="none"/>
<path d="M277.1 218.89V237.72M272.3 218.89H281.9M272.3 237.72H281.9" stroke="#e2222c" stroke-width="1.5" fill="none"/>
<path d="M296.13 195.12V215.29M291.33 195.12H300.93M291.33 215.29H300.93" stroke="#e2222c" stroke-width="1.5" fill="none"/>
<path d="M315.16 177.74V199.26M310.36 177.74H319.96M310.36 199.26H319.96" stroke="#e2222c" stroke-width="1.5" fill="none"/>
<path d="M334.2 161.57V184.43M329.4 161.57H339M329.4 184.43H339" stroke="#e2222c" stroke-width="1.5" fill="none"/>
<path d="M353.23 148.32V173.87M348.43 148.32H358.03M348.43 173.87H358.03" stroke="#e2222c" stroke-width="1.5" fill="none"/>
<path d="M372.26 136.29V164.53M367.46 136.29H377.06M367.46 164.53H377.06" stroke="#e2222c" stroke-width="1.5" fill="none"/>
<path d="M391.29 128.08V158.34M386.49 128.08H396.09M386.49 158.34H396.09" stroke="#e2222c" stroke-width="1.5" fill="none"/>
<path d="M410.32 120.82V154.44M405.52 120.82H415.12M405.52 154.44H415.12" stroke="#e2222c" stroke-width="1.5" fill="none"/>
<path d="M429.36 115.1V150.07M424.56 115.1H434.16M424.56 150.07H434.16" stroke="#e2222c" stroke-width="1.5" fill="none"/>
<path d="M448.39 111.74V146.71M443.59 111.74H453.19M443.59 146.71H453.19" stroke="#e2222c" stroke-width="1.5" fill="none"/>
<path d="M467.42 109.39V144.35M462.62 109.39H472.22M462.62 144.35H472.22" stroke="#e2222c" stroke-width="1.5" fill="none"/>
<path d="M486.45 107.71V142.67M481.65 107.71H491.25M481.65 142.67H491.25" stroke="#e2222c" stroke-width="1.5" fill="none"/>
<path d="M505.48 106.7V141.66M500.68 106.7H510.28M500.68 141.66H510.28" stroke="#e2222c" stroke-width="1.5" fill="none"/>
<path d="M524.52 106.36V139.98M519.72 106.36H529.32M519.72 139.98H529.32" stroke="#e2222c" stroke-width="1.5" fill="none"/>
<path d="M543.55 105.69V139.31M538.75 105.69H548.35M538.75 139.31H548.35" stroke="#e2222c" stroke-width="1.5" fill="none"/>
<path d="M562.58 105.02V138.64M557.78 105.02H567.38M557.78 138.64H567.38" stroke="#e2222c" stroke-width="1.5" fill="none"/>
<path d="M581.61 105.02V137.29M576.81 105.02H586.41M576.81 137.29H586.41" stroke="#e2222c" stroke-width="1.5" fill="none"/>
<path d="M600.64 104.68V136.96M595.84 104.68H605.44M595.84 136.96H605.44" stroke="#e2222c" stroke-width="1.5" fill="none"/>
<path d="M619.68 104.35V136.62M614.88 104.35H624.48M614.88 136.62H624.48" stroke="#e2222c" stroke-width="1.5" fill="none"/>
<path d="M638.71 104.01V136.29M633.91 104.01H643.51M633.91 136.29H643.51" stroke="#e2222c" stroke-width="1.5" fill="none"/>
<polygon points="139.38,403.6 148.38,403.6 143.88,412.7" fill="#fff" stroke="#e2222c" stroke-width="3.8" stroke-linejoin="round"/>
<polygon points="158.41,386.89 167.41,386.89 162.91,395.99" fill="#fff" stroke="#e2222c" stroke-width="3.8" stroke-linejoin="round"/>
<polygon points="177.44,365.48 186.44,365.48 181.94,374.58" fill="#fff" stroke="#e2222c" stroke-width="3.8" stroke-linejoin="round"/>
<polygon points="196.47,337.61 205.47,337.61 200.97,346.71" fill="#fff" stroke="#e2222c" stroke-width="3.8" stroke-linejoin="round"/>
<polygon points="215.5,308.19 224.5,308.19 220,317.29" fill="#fff" stroke="#e2222c" stroke-width="3.8" stroke-linejoin="round"/>
<polygon points="234.54,277.19 243.54,277.19 239.04,286.29" fill="#fff" stroke="#e2222c" stroke-width="3.8" stroke-linejoin="round"/>
<polygon points="253.57,249.29 262.57,249.29 258.07,258.39" fill="#fff" stroke="#e2222c" stroke-width="3.8" stroke-linejoin="round"/>
<polygon points="272.6,224 281.6,224 277.1,233.1" fill="#fff" stroke="#e2222c" stroke-width="3.8" stroke-linejoin="round"/>
<polygon points="291.63,200.91 300.63,200.91 296.13,210.01" fill="#fff" stroke="#e2222c" stroke-width="3.8" stroke-linejoin="round"/>
<polygon points="310.66,184.2 319.66,184.2 315.16,193.3" fill="#fff" stroke="#e2222c" stroke-width="3.8" stroke-linejoin="round"/>
<polygon points="329.7,168.7 338.7,168.7 334.2,177.8" fill="#fff" stroke="#e2222c" stroke-width="3.8" stroke-linejoin="round"/>
<polygon points="348.73,156.8 357.73,156.8 353.23,165.9" fill="#fff" stroke="#e2222c" stroke-width="3.8" stroke-linejoin="round"/>
<polygon points="367.76,146.11 376.76,146.11 372.26,155.21" fill="#fff" stroke="#e2222c" stroke-width="3.8" stroke-linejoin="round"/>
<polygon points="386.79,138.91 395.79,138.91 391.29,148.01" fill="#fff" stroke="#e2222c" stroke-width="3.8" stroke-linejoin="round"/>
<polygon points="405.82,133.33 414.82,133.33 410.32,142.43" fill="#fff" stroke="#e2222c" stroke-width="3.8" stroke-linejoin="round"/>
<polygon points="424.86,128.29 433.86,128.29 429.36,137.39" fill="#fff" stroke="#e2222c" stroke-width="3.8" stroke-linejoin="round"/>
<polygon points="443.89,124.93 452.89,124.93 448.39,134.03" fill="#fff" stroke="#e2222c" stroke-width="3.8" stroke-linejoin="round"/>
<polygon points="462.92,122.57 471.92,122.57 467.42,131.67" fill="#fff" stroke="#e2222c" stroke-width="3.8" stroke-linejoin="round"/>
<polygon points="481.95,120.89 490.95,120.89 486.45,129.99" fill="#fff" stroke="#e2222c" stroke-width="3.8" stroke-linejoin="round"/>
<polygon points="500.98,119.88 509.98,119.88 505.48,128.98" fill="#fff" stroke="#e2222c" stroke-width="3.8" stroke-linejoin="round"/>
<polygon points="520.02,118.87 529.02,118.87 524.52,127.97" fill="#fff" stroke="#e2222c" stroke-width="3.8" stroke-linejoin="round"/>
<polygon points="539.05,118.2 548.05,118.2 543.55,127.3" fill="#fff" stroke="#e2222c" stroke-width="3.8" stroke-linejoin="round"/>
<polygon points="558.08,117.53 567.08,117.53 562.58,126.63" fill="#fff" stroke="#e2222c" stroke-width="3.8" stroke-linejoin="round"/>
<polygon points="577.11,116.86 586.11,116.86 581.61,125.96" fill="#fff" stroke="#e2222c" stroke-width="3.8" stroke-linejoin="round"/>
<polygon points="596.14,116.52 605.14,116.52 600.64,125.62" fill="#fff" stroke="#e2222c" stroke-width="3.8" stroke-linejoin="round"/>
<polygon points="615.18,116.18 624.18,116.18 619.68,125.28" fill="#fff" stroke="#e2222c" stroke-width="3.8" stroke-linejoin="round"/>
<polygon points="634.21,115.85 643.21,115.85 638.71,124.95" fill="#fff" stroke="#e2222c" stroke-width="3.8" stroke-linejoin="round"/>
<path d="M138.8 413.38 C139.65 409.49 139.86 398.68 143.88 390.02 C147.89 381.35 156.56 372.61 162.91 361.4 C169.25 350.2 175.6 336.21 181.94 322.81 C188.28 309.41 194.63 294.42 200.97 280.99 C207.32 267.55 213.66 254.42 220 242.19 C226.35 229.96 232.69 217.14 239.04 207.59 C245.38 198.05 251.72 191.53 258.07 184.9 C264.41 178.27 270.76 172.64 277.1 167.79 C283.44 162.93 289.79 158.88 296.13 155.78 C302.48 152.69 308.82 151.37 315.16 149.2 C321.51 147.02 327.85 144.51 334.2 142.71 C340.54 140.91 346.88 139.79 353.23 138.4 C359.57 137.02 365.92 135.47 372.26 134.4 C378.6 133.34 384.95 133.07 391.29 132.02 C397.64 130.96 403.98 128.97 410.32 128.08 C416.67 127.2 423.01 127.22 429.36 126.7 C435.7 126.19 442.04 125.44 448.39 124.99 C454.73 124.54 461.08 124.33 467.42 123.98 C473.76 123.63 480.11 123.2 486.45 122.9 C492.8 122.61 499.14 122.48 505.48 122.2 C511.83 121.92 518.17 121.5 524.52 121.22 C530.86 120.94 537.2 120.75 543.55 120.52 C549.89 120.28 556.24 119.98 562.58 119.81 C568.92 119.64 575.27 119.63 581.61 119.51 C587.96 119.39 594.3 119.22 600.64 119.11 C606.99 118.99 613.33 118.88 619.68 118.8 C626.02 118.72 635.54 118.66 638.71 118.63" fill="none" stroke="#9b1c22" stroke-width="1.4"/>
<path d="M143.88 374.89V405.14M139.08 374.89H148.68M139.08 405.14H148.68" stroke="#9b1c22" stroke-width="1.5" fill="none"/>
<path d="M162.91 348.63V374.18M158.11 348.63H167.71M158.11 374.18H167.71" stroke="#9b1c22" stroke-width="1.5" fill="none"/>
<path d="M181.94 314.4V331.21M177.14 314.4H186.74M177.14 331.21H186.74" stroke="#9b1c22" stroke-width="1.5" fill="none"/>
<path d="M200.97 275.94V286.03M196.17 275.94H205.77M196.17 286.03H205.77" stroke="#9b1c22" stroke-width="1.5" fill="none"/>
<path d="M220 237.15V247.23M215.2 237.15H224.8M215.2 247.23H224.8" stroke="#9b1c22" stroke-width="1.5" fill="none"/>
<path d="M239.04 200.87V214.32M234.24 200.87H243.84M234.24 214.32H243.84" stroke="#9b1c22" stroke-width="1.5" fill="none"/>
<path d="M258.07 175.49V194.31M253.27 175.49H262.87M253.27 194.31H262.87" stroke="#9b1c22" stroke-width="1.5" fill="none"/>
<path d="M277.1 158.37V177.2M272.3 158.37H281.9M272.3 177.2H281.9" stroke="#9b1c22" stroke-width="1.5" fill="none"/>
<path d="M296.13 147.04V164.53M291.33 147.04H300.93M291.33 164.53H300.93" stroke="#9b1c22" stroke-width="1.5" fill="none"/>
<path d="M315.16 142.47V155.92M310.36 142.47H319.96M310.36 155.92H319.96" stroke="#9b1c22" stroke-width="1.5" fill="none"/>
<path d="M334.2 136.66V148.76M329.4 136.66H339M329.4 148.76H339" stroke="#9b1c22" stroke-width="1.5" fill="none"/>
<path d="M353.23 130V146.81M348.43 130H358.03M348.43 146.81H358.03" stroke="#9b1c22" stroke-width="1.5" fill="none"/>
<path d="M372.26 126V142.81M367.46 126H377.06M367.46 142.81H377.06" stroke="#9b1c22" stroke-width="1.5" fill="none"/>
<path d="M391.29 122.6V141.43M386.49 122.6H396.09M386.49 141.43H396.09" stroke="#9b1c22" stroke-width="1.5" fill="none"/>
<path d="M410.32 118V138.17M405.52 118H415.12M405.52 138.17H415.12" stroke="#9b1c22" stroke-width="1.5" fill="none"/>
<path d="M429.36 115.95V137.46M424.56 115.95H434.16M424.56 137.46H434.16" stroke="#9b1c22" stroke-width="1.5" fill="none"/>
<path d="M448.39 113.56V136.42M443.59 113.56H453.19M443.59 136.42H453.19" stroke="#9b1c22" stroke-width="1.5" fill="none"/>
<path d="M467.42 111.88V136.08M462.62 111.88H472.22M462.62 136.08H472.22" stroke="#9b1c22" stroke-width="1.5" fill="none"/>
<path d="M486.45 110.8V135.01M481.65 110.8H491.25M481.65 135.01H491.25" stroke="#9b1c22" stroke-width="1.5" fill="none"/>
<path d="M505.48 109.42V134.97M500.68 109.42H510.28M500.68 134.97H510.28" stroke="#9b1c22" stroke-width="1.5" fill="none"/>
<path d="M524.52 108.45V134M519.72 108.45H529.32M519.72 134H529.32" stroke="#9b1c22" stroke-width="1.5" fill="none"/>
<path d="M543.55 107.74V133.29M538.75 107.74H548.35M538.75 133.29H548.35" stroke="#9b1c22" stroke-width="1.5" fill="none"/>
<path d="M562.58 107.04V132.59M557.78 107.04H567.38M557.78 132.59H567.38" stroke="#9b1c22" stroke-width="1.5" fill="none"/>
<path d="M581.61 106.73V132.28M576.81 106.73H586.41M576.81 132.28H586.41" stroke="#9b1c22" stroke-width="1.5" fill="none"/>
<path d="M600.64 106.33V131.88M595.84 106.33H605.44M595.84 131.88H605.44" stroke="#9b1c22" stroke-width="1.5" fill="none"/>
<path d="M619.68 106.03V131.58M614.88 106.03H624.48M614.88 131.58H624.48" stroke="#9b1c22" stroke-width="1.5" fill="none"/>
<path d="M638.71 105.86V131.41M633.91 105.86H643.51M633.91 131.41H643.51" stroke="#9b1c22" stroke-width="1.5" fill="none"/>
<polygon points="139.38,385.72 148.38,385.72 143.88,394.82" fill="#fff" stroke="#9b1c22" stroke-width="3.8" stroke-linejoin="round"/>
<polygon points="158.41,357.1 167.41,357.1 162.91,366.2" fill="#fff" stroke="#9b1c22" stroke-width="3.8" stroke-linejoin="round"/>
<polygon points="177.44,318.51 186.44,318.51 181.94,327.61" fill="#fff" stroke="#9b1c22" stroke-width="3.8" stroke-linejoin="round"/>
<polygon points="196.47,276.69 205.47,276.69 200.97,285.79" fill="#fff" stroke="#9b1c22" stroke-width="3.8" stroke-linejoin="round"/>
<polygon points="215.5,237.89 224.5,237.89 220,246.99" fill="#fff" stroke="#9b1c22" stroke-width="3.8" stroke-linejoin="round"/>
<polygon points="234.54,203.29 243.54,203.29 239.04,212.39" fill="#fff" stroke="#9b1c22" stroke-width="3.8" stroke-linejoin="round"/>
<polygon points="253.57,180.6 262.57,180.6 258.07,189.7" fill="#fff" stroke="#9b1c22" stroke-width="3.8" stroke-linejoin="round"/>
<polygon points="272.6,163.49 281.6,163.49 277.1,172.59" fill="#fff" stroke="#9b1c22" stroke-width="3.8" stroke-linejoin="round"/>
<polygon points="291.63,151.48 300.63,151.48 296.13,160.58" fill="#fff" stroke="#9b1c22" stroke-width="3.8" stroke-linejoin="round"/>
<polygon points="310.66,144.9 319.66,144.9 315.16,154" fill="#fff" stroke="#9b1c22" stroke-width="3.8" stroke-linejoin="round"/>
<polygon points="329.7,138.41 338.7,138.41 334.2,147.51" fill="#fff" stroke="#9b1c22" stroke-width="3.8" stroke-linejoin="round"/>
<polygon points="348.73,134.1 357.73,134.1 353.23,143.2" fill="#fff" stroke="#9b1c22" stroke-width="3.8" stroke-linejoin="round"/>
<polygon points="367.76,130.1 376.76,130.1 372.26,139.2" fill="#fff" stroke="#9b1c22" stroke-width="3.8" stroke-linejoin="round"/>
<polygon points="386.79,127.72 395.79,127.72 391.29,136.82" fill="#fff" stroke="#9b1c22" stroke-width="3.8" stroke-linejoin="round"/>
<polygon points="405.82,123.78 414.82,123.78 410.32,132.88" fill="#fff" stroke="#9b1c22" stroke-width="3.8" stroke-linejoin="round"/>
<polygon points="424.86,122.4 433.86,122.4 429.36,131.5" fill="#fff" stroke="#9b1c22" stroke-width="3.8" stroke-linejoin="round"/>
<polygon points="443.89,120.69 452.89,120.69 448.39,129.79" fill="#fff" stroke="#9b1c22" stroke-width="3.8" stroke-linejoin="round"/>
<polygon points="462.92,119.68 471.92,119.68 467.42,128.78" fill="#fff" stroke="#9b1c22" stroke-width="3.8" stroke-linejoin="round"/>
<polygon points="481.95,118.6 490.95,118.6 486.45,127.7" fill="#fff" stroke="#9b1c22" stroke-width="3.8" stroke-linejoin="round"/>
<polygon points="500.98,117.9 509.98,117.9 505.48,127" fill="#fff" stroke="#9b1c22" stroke-width="3.8" stroke-linejoin="round"/>
<polygon points="520.02,116.92 529.02,116.92 524.52,126.02" fill="#fff" stroke="#9b1c22" stroke-width="3.8" stroke-linejoin="round"/>
<polygon points="539.05,116.22 548.05,116.22 543.55,125.32" fill="#fff" stroke="#9b1c22" stroke-width="3.8" stroke-linejoin="round"/>
<polygon points="558.08,115.51 567.08,115.51 562.58,124.61" fill="#fff" stroke="#9b1c22" stroke-width="3.8" stroke-linejoin="round"/>
<polygon points="577.11,115.21 586.11,115.21 581.61,124.31" fill="#fff" stroke="#9b1c22" stroke-width="3.8" stroke-linejoin="round"/>
<polygon points="596.14,114.81 605.14,114.81 600.64,123.91" fill="#fff" stroke="#9b1c22" stroke-width="3.8" stroke-linejoin="round"/>
<polygon points="615.18,114.5 624.18,114.5 619.68,123.6" fill="#fff" stroke="#9b1c22" stroke-width="3.8" stroke-linejoin="round"/>
<polygon points="634.21,114.33 643.21,114.33 638.71,123.43" fill="#fff" stroke="#9b1c22" stroke-width="3.8" stroke-linejoin="round"/>
<text x="139.3" y="467.3" font-size="24.3" text-anchor="middle" fill="#231f20">0</text>
<text x="297.9" y="467.3" font-size="24.3" text-anchor="middle" fill="#231f20">500</text>
<text x="459" y="467.3" font-size="24.3" text-anchor="middle" fill="#231f20">1,000</text>
<text x="617.6" y="467.3" font-size="24.3" text-anchor="middle" fill="#231f20">1,500</text>
<text x="398.5" y="503.5" font-size="29" text-anchor="middle" fill="#231f20">Time (s)</text>
<text x="32" y="259" font-size="29" text-anchor="middle" fill="#231f20" transform="rotate(-90 32 259)">Fluorescence (RFU)</text>
<text x="688" y="93.8" font-size="25" fill="#231f20">Target (pM)</text>
<line x1="679" y1="108.5" x2="816" y2="108.5" stroke="#111" stroke-width="2.4"/>
<line x1="689" y1="137.2" x2="721.5" y2="137.2" stroke="#9b1c22" stroke-width="1.8"/>
<polygon points="700.8,132.8 710,132.8 705.4,142.1" fill="#fff" stroke="#9b1c22" stroke-width="3.8" stroke-linejoin="round"/>
<text x="740.5" y="146.2" font-size="25" fill="#231f20">10,000</text>
<line x1="689" y1="175.9" x2="721.5" y2="175.9" stroke="#e2222c" stroke-width="1.8"/>
<polygon points="700.8,171.5 710,171.5 705.4,180.8" fill="#fff" stroke="#e2222c" stroke-width="3.8" stroke-linejoin="round"/>
<text x="740.5" y="184.9" font-size="25" fill="#231f20">5,000</text>
<line x1="689" y1="214.6" x2="721.5" y2="214.6" stroke="#e4404c" stroke-width="1.8"/>
<polygon points="700.6,210 710.2,210 705.4,219.7" fill="#fff" stroke="#e4404c" stroke-width="2.6" stroke-linejoin="round"/>
<text x="740.5" y="223.6" font-size="25" fill="#231f20">1,000</text>
<line x1="689" y1="253.3" x2="721.5" y2="253.3" stroke="#e6672a" stroke-width="1.8"/>
<polygon points="700.8,248.9 710,248.9 705.4,258.2" fill="#fff" stroke="#e6672a" stroke-width="3.8" stroke-linejoin="round"/>
<text x="740.5" y="262.3" font-size="25" fill="#231f20">500</text>
<line x1="689" y1="292" x2="721.5" y2="292" stroke="#f08a2a" stroke-width="1.8"/>
<polygon points="700.8,287.6 710,287.6 705.4,296.9" fill="#fff" stroke="#f08a2a" stroke-width="3.8" stroke-linejoin="round"/>
<text x="740.5" y="301" font-size="25" fill="#231f20">100</text>
<line x1="689" y1="330.7" x2="721.5" y2="330.7" stroke="#f4a85a" stroke-width="1.8"/>
<polygon points="700.6,326.1 710.2,326.1 705.4,335.8" fill="#fff" stroke="#f4a85a" stroke-width="2.6" stroke-linejoin="round"/>
<text x="740.5" y="339.7" font-size="25" fill="#231f20">50</text>
<line x1="689" y1="369.4" x2="721.5" y2="369.4" stroke="#ece62a" stroke-width="1.8"/>
<polygon points="700.8,365 710,365 705.4,374.3" fill="#fff" stroke="#ece62a" stroke-width="3.8" stroke-linejoin="round"/>
<text x="740.5" y="378.4" font-size="25" fill="#231f20">10</text>
<line x1="689" y1="408.1" x2="721.5" y2="408.1" stroke="#f7f1a8" stroke-width="1.8"/>
<polygon points="700.6,403.5 710.2,403.5 705.4,413.2" fill="#fff" stroke="#f7f1a8" stroke-width="2.6" stroke-linejoin="round"/>
<text x="740.5" y="417.1" font-size="25" fill="#231f20">0</text>
<text x="-2" y="555.6" font-size="32.5" font-weight="bold" fill="#111">b</text>
<line x1="145" y1="879" x2="640.5" y2="879" stroke="#2aa0b4" stroke-width="3"/>
<line x1="145" y1="877.4" x2="640.5" y2="877.4" stroke="#e0323c" stroke-width="2.6" stroke-dasharray="9,6"/>
<polyline fill="none" stroke="#2e3d98" stroke-width="1.7" points="227.55,880.58 310.1,880.58 392.65,880.58 450.35,879 475.2,876.64 532.9,864.82 557.75,855.36 615.45,768.68 640.3,702.49"/>
<polyline fill="none" stroke="#a71f27" stroke-width="1.7" points="227.55,875.85 310.1,875.85 392.65,875.85 450.35,873.48 475.2,869.54 532.9,839.6 557.75,817.54 615.45,674.12 640.3,612.66"/>
<circle cx="227.55" cy="880.58" r="6.5" fill="none" stroke="#2e3d98" stroke-width="3.3"/>
<circle cx="310.1" cy="880.58" r="6.5" fill="none" stroke="#2e3d98" stroke-width="3.3"/>
<circle cx="392.65" cy="880.58" r="6.5" fill="none" stroke="#2e3d98" stroke-width="3.3"/>
<circle cx="450.35" cy="879" r="6.5" fill="none" stroke="#2e3d98" stroke-width="3.3"/>
<circle cx="475.2" cy="876.64" r="6.5" fill="none" stroke="#2e3d98" stroke-width="3.3"/>
<circle cx="532.9" cy="864.82" r="6.5" fill="none" stroke="#2e3d98" stroke-width="3.3"/>
<circle cx="557.75" cy="855.36" r="6.5" fill="none" stroke="#2e3d98" stroke-width="3.3"/>
<circle cx="615.45" cy="768.68" r="6.5" fill="none" stroke="#2e3d98" stroke-width="3.3"/>
<circle cx="640.3" cy="702.49" r="6.5" fill="none" stroke="#2e3d98" stroke-width="3.3"/>
<polygon points="221.55,869.85 233.55,869.85 227.55,881.35" fill="none" stroke="#a71f27" stroke-width="3.2" stroke-linejoin="round"/>
<polygon points="304.1,869.85 316.1,869.85 310.1,881.35" fill="none" stroke="#a71f27" stroke-width="3.2" stroke-linejoin="round"/>
<polygon points="386.65,869.85 398.65,869.85 392.65,881.35" fill="none" stroke="#a71f27" stroke-width="3.2" stroke-linejoin="round"/>
<polygon points="444.35,867.48 456.35,867.48 450.35,878.98" fill="none" stroke="#a71f27" stroke-width="3.2" stroke-linejoin="round"/>
<polygon points="469.2,863.54 481.2,863.54 475.2,875.04" fill="none" stroke="#a71f27" stroke-width="3.2" stroke-linejoin="round"/>
<polygon points="526.9,833.6 538.9,833.6 532.9,845.1" fill="none" stroke="#a71f27" stroke-width="3.2" stroke-linejoin="round"/>
<polygon points="551.75,811.54 563.75,811.54 557.75,823.04" fill="none" stroke="#a71f27" stroke-width="3.2" stroke-linejoin="round"/>
<polygon points="609.45,668.12 621.45,668.12 615.45,679.62" fill="none" stroke="#a71f27" stroke-width="3.2" stroke-linejoin="round"/>
<polygon points="634.3,606.66 646.3,606.66 640.3,618.16" fill="none" stroke="#a71f27" stroke-width="3.2" stroke-linejoin="round"/>
<line x1="145" y1="563.5" x2="145" y2="906.5" stroke="#111" stroke-width="2.6"/>
<line x1="143.7" y1="894.5" x2="641.5" y2="894.5" stroke="#111" stroke-width="2.6"/>
<line x1="135" y1="879" x2="145" y2="879" stroke="#111" stroke-width="2.4"/>
<text x="131" y="888" font-size="25" text-anchor="end" fill="#231f20">0</text>
<line x1="135" y1="800.2" x2="145" y2="800.2" stroke="#111" stroke-width="2.4"/>
<text x="131" y="809.2" font-size="25" text-anchor="end" fill="#231f20">5</text>
<line x1="135" y1="721.4" x2="145" y2="721.4" stroke="#111" stroke-width="2.4"/>
<text x="131" y="730.4" font-size="25" text-anchor="end" fill="#231f20">10</text>
<line x1="135" y1="642.6" x2="145" y2="642.6" stroke="#111" stroke-width="2.4"/>
<text x="131" y="651.6" font-size="25" text-anchor="end" fill="#231f20">15</text>
<line x1="135" y1="563.8" x2="145" y2="563.8" stroke="#111" stroke-width="2.4"/>
<text x="131" y="572.8" font-size="25" text-anchor="end" fill="#231f20">20</text>
<line x1="145" y1="894.5" x2="145" y2="906.5" stroke="#111" stroke-width="2.4"/>
<text x="145" y="936" font-size="25" text-anchor="middle" fill="#231f20">0.01</text>
<line x1="227.55" y1="894.5" x2="227.55" y2="906.5" stroke="#111" stroke-width="2.4"/>
<text x="227.55" y="936" font-size="25" text-anchor="middle" fill="#231f20">0.1</text>
<line x1="310.1" y1="894.5" x2="310.1" y2="906.5" stroke="#111" stroke-width="2.4"/>
<text x="313.1" y="936" font-size="25" text-anchor="middle" fill="#231f20">1</text>
<line x1="392.65" y1="894.5" x2="392.65" y2="906.5" stroke="#111" stroke-width="2.4"/>
<text x="395.65" y="936" font-size="25" text-anchor="middle" fill="#231f20">10</text>
<line x1="475.2" y1="894.5" x2="475.2" y2="906.5" stroke="#111" stroke-width="2.4"/>
<text x="478.2" y="936" font-size="25" text-anchor="middle" fill="#231f20">100</text>
<line x1="557.75" y1="894.5" x2="557.75" y2="906.5" stroke="#111" stroke-width="2.4"/>
<text x="560.75" y="936" font-size="25" text-anchor="middle" fill="#231f20">1,000</text>
<line x1="640.3" y1="894.5" x2="640.3" y2="906.5" stroke="#111" stroke-width="2.4"/>
<text x="643.3" y="936" font-size="25" text-anchor="middle" fill="#231f20">10,000</text>
<text x="395" y="974" font-size="29.5" text-anchor="middle" fill="#231f20">Log([Target RNA]) (pM)</text>
<text x="74.5" y="732" font-size="29" fill="#231f20" text-anchor="middle" transform="rotate(-90 74.5 732)">V<tspan font-size="17" dy="9">0</tspan><tspan dy="-9"> (RFU/s)</tspan></text>
<line x1="183" y1="585.6" x2="217.5" y2="585.6" stroke="#a71f27" stroke-width="1.7"/>
<polygon points="194.2,579.6 206.2,579.6 200.2,591.1" fill="none" stroke="#a71f27" stroke-width="3.2" stroke-linejoin="round"/>
<text x="238" y="595" font-size="25" fill="#231f20">SuCas12a2 (37°C)</text>
<line x1="183" y1="630.5" x2="217.5" y2="630.5" stroke="#2e3d98" stroke-width="1.7"/>
<circle cx="200.2" cy="630.5" r="6.5" fill="none" stroke="#2e3d98" stroke-width="3.3"/>
<text x="238" y="639.5" font-size="25" fill="#231f20">Cas12a2 (RT)</text>
<text x="157" y="855" font-size="27.7" fill="#231f20">Water+3SD</text>
<text x="-1.3" y="1051.5" font-size="32.5" font-weight="bold" fill="#111">c</text>
<text x="163.5" y="1083" font-size="29.4" fill="#231f20">SuCas12a2 (RT) - ssDNA beacon</text>
<line x1="121" y1="1118" x2="121" y2="1441.5" stroke="#111" stroke-width="2.2"/>
<line x1="119.9" y1="1440.3" x2="605.5" y2="1440.3" stroke="#111" stroke-width="2.2"/>
<line x1="113" y1="1424.3" x2="121" y2="1424.3" stroke="#111" stroke-width="2"/>
<line x1="116" y1="1409.04" x2="121" y2="1409.04" stroke="#111" stroke-width="2"/>
<line x1="116" y1="1393.78" x2="121" y2="1393.78" stroke="#111" stroke-width="2"/>
<line x1="116" y1="1378.52" x2="121" y2="1378.52" stroke="#111" stroke-width="2"/>
<line x1="116" y1="1363.26" x2="121" y2="1363.26" stroke="#111" stroke-width="2"/>
<line x1="116" y1="1348" x2="121" y2="1348" stroke="#111" stroke-width="2"/>
<line x1="116" y1="1332.74" x2="121" y2="1332.74" stroke="#111" stroke-width="2"/>
<line x1="116" y1="1317.48" x2="121" y2="1317.48" stroke="#111" stroke-width="2"/>
<line x1="116" y1="1302.22" x2="121" y2="1302.22" stroke="#111" stroke-width="2"/>
<line x1="116" y1="1286.96" x2="121" y2="1286.96" stroke="#111" stroke-width="2"/>
<line x1="113" y1="1271.7" x2="121" y2="1271.7" stroke="#111" stroke-width="2"/>
<line x1="116" y1="1256.44" x2="121" y2="1256.44" stroke="#111" stroke-width="2"/>
<line x1="116" y1="1241.18" x2="121" y2="1241.18" stroke="#111" stroke-width="2"/>
<line x1="116" y1="1225.92" x2="121" y2="1225.92" stroke="#111" stroke-width="2"/>
<line x1="116" y1="1210.66" x2="121" y2="1210.66" stroke="#111" stroke-width="2"/>
<line x1="116" y1="1195.4" x2="121" y2="1195.4" stroke="#111" stroke-width="2"/>
<line x1="116" y1="1180.14" x2="121" y2="1180.14" stroke="#111" stroke-width="2"/>
<line x1="116" y1="1164.88" x2="121" y2="1164.88" stroke="#111" stroke-width="2"/>
<line x1="116" y1="1149.62" x2="121" y2="1149.62" stroke="#111" stroke-width="2"/>
<line x1="116" y1="1134.36" x2="121" y2="1134.36" stroke="#111" stroke-width="2"/>
<line x1="113" y1="1119.1" x2="121" y2="1119.1" stroke="#111" stroke-width="2"/>
<line x1="121" y1="1440.3" x2="121" y2="1446.3" stroke="#111" stroke-width="2"/>
<line x1="134.92" y1="1440.3" x2="134.92" y2="1444.3" stroke="#111" stroke-width="2"/>
<line x1="148.84" y1="1440.3" x2="148.84" y2="1444.3" stroke="#111" stroke-width="2"/>
<line x1="162.76" y1="1440.3" x2="162.76" y2="1444.3" stroke="#111" stroke-width="2"/>
<line x1="176.68" y1="1440.3" x2="176.68" y2="1444.3" stroke="#111" stroke-width="2"/>
<line x1="190.6" y1="1440.3" x2="190.6" y2="1444.3" stroke="#111" stroke-width="2"/>
<line x1="204.52" y1="1440.3" x2="204.52" y2="1444.3" stroke="#111" stroke-width="2"/>
<line x1="218.44" y1="1440.3" x2="218.44" y2="1444.3" stroke="#111" stroke-width="2"/>
<line x1="232.36" y1="1440.3" x2="232.36" y2="1444.3" stroke="#111" stroke-width="2"/>
<line x1="246.28" y1="1440.3" x2="246.28" y2="1444.3" stroke="#111" stroke-width="2"/>
<line x1="260.2" y1="1440.3" x2="260.2" y2="1446.3" stroke="#111" stroke-width="2"/>
<line x1="274.12" y1="1440.3" x2="274.12" y2="1444.3" stroke="#111" stroke-width="2"/>
<line x1="288.04" y1="1440.3" x2="288.04" y2="1444.3" stroke="#111" stroke-width="2"/>
<line x1="301.96" y1="1440.3" x2="301.96" y2="1444.3" stroke="#111" stroke-width="2"/>
<line x1="315.88" y1="1440.3" x2="315.88" y2="1444.3" stroke="#111" stroke-width="2"/>
<line x1="329.8" y1="1440.3" x2="329.8" y2="1444.3" stroke="#111" stroke-width="2"/>
<line x1="343.72" y1="1440.3" x2="343.72" y2="1444.3" stroke="#111" stroke-width="2"/>
<line x1="357.64" y1="1440.3" x2="357.64" y2="1444.3" stroke="#111" stroke-width="2"/>
<line x1="371.56" y1="1440.3" x2="371.56" y2="1444.3" stroke="#111" stroke-width="2"/>
<line x1="385.48" y1="1440.3" x2="385.48" y2="1444.3" stroke="#111" stroke-width="2"/>
<line x1="399.4" y1="1440.3" x2="399.4" y2="1446.3" stroke="#111" stroke-width="2"/>
<line x1="413.32" y1="1440.3" x2="413.32" y2="1444.3" stroke="#111" stroke-width="2"/>
<line x1="427.24" y1="1440.3" x2="427.24" y2="1444.3" stroke="#111" stroke-width="2"/>
<line x1="441.16" y1="1440.3" x2="441.16" y2="1444.3" stroke="#111" stroke-width="2"/>
<line x1="455.08" y1="1440.3" x2="455.08" y2="1444.3" stroke="#111" stroke-width="2"/>
<line x1="469" y1="1440.3" x2="469" y2="1444.3" stroke="#111" stroke-width="2"/>
<line x1="482.92" y1="1440.3" x2="482.92" y2="1444.3" stroke="#111" stroke-width="2"/>
<line x1="496.84" y1="1440.3" x2="496.84" y2="1444.3" stroke="#111" stroke-width="2"/>
<line x1="510.76" y1="1440.3" x2="510.76" y2="1444.3" stroke="#111" stroke-width="2"/>
<line x1="524.68" y1="1440.3" x2="524.68" y2="1444.3" stroke="#111" stroke-width="2"/>
<line x1="538.6" y1="1440.3" x2="538.6" y2="1446.3" stroke="#111" stroke-width="2"/>
<line x1="552.52" y1="1440.3" x2="552.52" y2="1444.3" stroke="#111" stroke-width="2"/>
<line x1="566.44" y1="1440.3" x2="566.44" y2="1444.3" stroke="#111" stroke-width="2"/>
<line x1="580.36" y1="1440.3" x2="580.36" y2="1444.3" stroke="#111" stroke-width="2"/>
<line x1="594.28" y1="1440.3" x2="594.28" y2="1444.3" stroke="#111" stroke-width="2"/>
<line x1="608.2" y1="1440.3" x2="608.2" y2="1444.3" stroke="#111" stroke-width="2"/>
<polyline fill="none" stroke="#f2b8d4" stroke-width="1.5" points="121,1436.55 129.35,1429.75 137.7,1433.24 146.06,1434.22 154.41,1432.39 162.76,1429.2 171.11,1434.83 179.46,1436.01 187.82,1432.62 196.17,1435.08 204.52,1436.18 212.87,1435.74 221.22,1436.69 229.58,1435.39 237.93,1434.45 246.28,1434.51 254.63,1430.63 262.98,1434.64 271.34,1432.84 279.69,1435.6 288.04,1434.15 296.39,1436.96 304.74,1434.98 313.1,1436.99 321.45,1430.85 329.8,1432.41 338.15,1435.5 346.5,1433.06 354.86,1429.13 363.21,1436.21 371.56,1430.12 379.91,1433.43 388.26,1432.89 396.62,1429.99 404.97,1433.76 413.32,1432.79 421.67,1431.24 430.02,1428.72 438.38,1434.19 446.73,1430.01 455.08,1431.08 463.43,1431.68 471.78,1433.66 480.14,1434.15 488.49,1436.65 496.84,1436.01 505.19,1436.51 513.54,1430.79 521.9,1434.93 530.25,1435.72 538.6,1436.4 546.95,1429.93 555.3,1429.68 563.66,1431.39 572.01,1434.71 580.36,1435.05 588.71,1434.61 597.06,1433.19 605.42,1435.77"/>
<path d="M121 1432.68V1440.42M117 1432.68H125M117 1440.42H125" stroke="#f2b8d4" stroke-width="1.4" fill="none"/>
<path d="M129.35 1425.55V1433.94M125.35 1425.55H133.35M125.35 1433.94H133.35" stroke="#f2b8d4" stroke-width="1.4" fill="none"/>
<path d="M137.7 1429.66V1436.82M133.7 1429.66H141.7M133.7 1436.82H141.7" stroke="#f2b8d4" stroke-width="1.4" fill="none"/>
<path d="M146.06 1431.75V1436.69M142.06 1431.75H150.06M142.06 1436.69H150.06" stroke="#f2b8d4" stroke-width="1.4" fill="none"/>
<path d="M154.41 1430.56V1434.22M150.41 1430.56H158.41M150.41 1434.22H158.41" stroke="#f2b8d4" stroke-width="1.4" fill="none"/>
<path d="M162.76 1423.8V1434.6M158.76 1423.8H166.76M158.76 1434.6H166.76" stroke="#f2b8d4" stroke-width="1.4" fill="none"/>
<path d="M171.11 1430.91V1438.75M167.11 1430.91H175.11M167.11 1438.75H175.11" stroke="#f2b8d4" stroke-width="1.4" fill="none"/>
<path d="M179.46 1433.94V1438.09M175.46 1433.94H183.46M175.46 1438.09H183.46" stroke="#f2b8d4" stroke-width="1.4" fill="none"/>
<path d="M187.82 1429.32V1435.91M183.82 1429.32H191.82M183.82 1435.91H191.82" stroke="#f2b8d4" stroke-width="1.4" fill="none"/>
<path d="M196.17 1433.09V1437.07M192.17 1433.09H200.17M192.17 1437.07H200.17" stroke="#f2b8d4" stroke-width="1.4" fill="none"/>
<path d="M204.52 1431.54V1440.82M200.52 1431.54H208.52M200.52 1440.82H208.52" stroke="#f2b8d4" stroke-width="1.4" fill="none"/>
<path d="M212.87 1430.31V1441.17M208.87 1430.31H216.87M208.87 1441.17H216.87" stroke="#f2b8d4" stroke-width="1.4" fill="none"/>
<path d="M221.22 1434.49V1438.88M217.22 1434.49H225.22M217.22 1438.88H225.22" stroke="#f2b8d4" stroke-width="1.4" fill="none"/>
<path d="M229.58 1433.38V1437.41M225.58 1433.38H233.58M225.58 1437.41H233.58" stroke="#f2b8d4" stroke-width="1.4" fill="none"/>
<path d="M237.93 1432.52V1436.39M233.93 1432.52H241.93M233.93 1436.39H241.93" stroke="#f2b8d4" stroke-width="1.4" fill="none"/>
<path d="M246.28 1430.81V1438.21M242.28 1430.81H250.28M242.28 1438.21H250.28" stroke="#f2b8d4" stroke-width="1.4" fill="none"/>
<path d="M254.63 1425.94V1435.31M250.63 1425.94H258.63M250.63 1435.31H258.63" stroke="#f2b8d4" stroke-width="1.4" fill="none"/>
<path d="M262.98 1432.1V1437.18M258.98 1432.1H266.98M258.98 1437.18H266.98" stroke="#f2b8d4" stroke-width="1.4" fill="none"/>
<path d="M271.34 1430.32V1435.37M267.34 1430.32H275.34M267.34 1435.37H275.34" stroke="#f2b8d4" stroke-width="1.4" fill="none"/>
<path d="M279.69 1431.17V1440.02M275.69 1431.17H283.69M275.69 1440.02H283.69" stroke="#f2b8d4" stroke-width="1.4" fill="none"/>
<path d="M288.04 1428.73V1439.58M284.04 1428.73H292.04M284.04 1439.58H292.04" stroke="#f2b8d4" stroke-width="1.4" fill="none"/>
<path d="M296.39 1431.69V1442.24M292.39 1431.69H300.39M292.39 1442.24H300.39" stroke="#f2b8d4" stroke-width="1.4" fill="none"/>
<path d="M304.74 1430.81V1439.15M300.74 1430.81H308.74M300.74 1439.15H308.74" stroke="#f2b8d4" stroke-width="1.4" fill="none"/>
<path d="M313.1 1431.78V1442.19M309.1 1431.78H317.1M309.1 1442.19H317.1" stroke="#f2b8d4" stroke-width="1.4" fill="none"/>
<path d="M321.45 1427.72V1433.98M317.45 1427.72H325.45M317.45 1433.98H325.45" stroke="#f2b8d4" stroke-width="1.4" fill="none"/>
<path d="M329.8 1427.24V1437.58M325.8 1427.24H333.8M325.8 1437.58H333.8" stroke="#f2b8d4" stroke-width="1.4" fill="none"/>
<path d="M338.15 1431.49V1439.51M334.15 1431.49H342.15M334.15 1439.51H342.15" stroke="#f2b8d4" stroke-width="1.4" fill="none"/>
<path d="M346.5 1429.23V1436.89M342.5 1429.23H350.5M342.5 1436.89H350.5" stroke="#f2b8d4" stroke-width="1.4" fill="none"/>
<path d="M354.86 1426.54V1431.72M350.86 1426.54H358.86M350.86 1431.72H358.86" stroke="#f2b8d4" stroke-width="1.4" fill="none"/>
<path d="M363.21 1433.49V1438.93M359.21 1433.49H367.21M359.21 1438.93H367.21" stroke="#f2b8d4" stroke-width="1.4" fill="none"/>
<path d="M371.56 1428.17V1432.07M367.56 1428.17H375.56M367.56 1432.07H375.56" stroke="#f2b8d4" stroke-width="1.4" fill="none"/>
<path d="M379.91 1428.72V1438.13M375.91 1428.72H383.91M375.91 1438.13H383.91" stroke="#f2b8d4" stroke-width="1.4" fill="none"/>
<path d="M388.26 1429.03V1436.74M384.26 1429.03H392.26M384.26 1436.74H392.26" stroke="#f2b8d4" stroke-width="1.4" fill="none"/>
<path d="M396.62 1426.81V1433.16M392.62 1426.81H400.62M392.62 1433.16H400.62" stroke="#f2b8d4" stroke-width="1.4" fill="none"/>
<path d="M404.97 1428.31V1439.21M400.97 1428.31H408.97M400.97 1439.21H408.97" stroke="#f2b8d4" stroke-width="1.4" fill="none"/>
<path d="M413.32 1429.27V1436.31M409.32 1429.27H417.32M409.32 1436.31H417.32" stroke="#f2b8d4" stroke-width="1.4" fill="none"/>
<path d="M421.67 1428.39V1434.09M417.67 1428.39H425.67M417.67 1434.09H425.67" stroke="#f2b8d4" stroke-width="1.4" fill="none"/>
<path d="M430.02 1423.92V1433.53M426.02 1423.92H434.02M426.02 1433.53H434.02" stroke="#f2b8d4" stroke-width="1.4" fill="none"/>
<path d="M438.38 1430.24V1438.14M434.38 1430.24H442.38M434.38 1438.14H442.38" stroke="#f2b8d4" stroke-width="1.4" fill="none"/>
<path d="M446.73 1425.16V1434.85M442.73 1425.16H450.73M442.73 1434.85H450.73" stroke="#f2b8d4" stroke-width="1.4" fill="none"/>
<path d="M455.08 1428.06V1434.1M451.08 1428.06H459.08M451.08 1434.1H459.08" stroke="#f2b8d4" stroke-width="1.4" fill="none"/>
<path d="M463.43 1428.22V1435.15M459.43 1428.22H467.43M459.43 1435.15H467.43" stroke="#f2b8d4" stroke-width="1.4" fill="none"/>
<path d="M471.78 1428.9V1438.42M467.78 1428.9H475.78M467.78 1438.42H475.78" stroke="#f2b8d4" stroke-width="1.4" fill="none"/>
<path d="M480.14 1430.65V1437.65M476.14 1430.65H484.14M476.14 1437.65H484.14" stroke="#f2b8d4" stroke-width="1.4" fill="none"/>
<path d="M488.49 1432.29V1441.01M484.49 1432.29H492.49M484.49 1441.01H492.49" stroke="#f2b8d4" stroke-width="1.4" fill="none"/>
<path d="M496.84 1431.41V1440.61M492.84 1431.41H500.84M492.84 1440.61H500.84" stroke="#f2b8d4" stroke-width="1.4" fill="none"/>
<path d="M505.19 1432.62V1440.41M501.19 1432.62H509.19M501.19 1440.41H509.19" stroke="#f2b8d4" stroke-width="1.4" fill="none"/>
<path d="M513.54 1426.56V1435.02M509.54 1426.56H517.54M509.54 1435.02H517.54" stroke="#f2b8d4" stroke-width="1.4" fill="none"/>
<path d="M521.9 1430.95V1438.92M517.9 1430.95H525.9M517.9 1438.92H525.9" stroke="#f2b8d4" stroke-width="1.4" fill="none"/>
<path d="M530.25 1431.12V1440.33M526.25 1431.12H534.25M526.25 1440.33H534.25" stroke="#f2b8d4" stroke-width="1.4" fill="none"/>
<path d="M538.6 1431.43V1441.36M534.6 1431.43H542.6M534.6 1441.36H542.6" stroke="#f2b8d4" stroke-width="1.4" fill="none"/>
<path d="M546.95 1425.02V1434.84M542.95 1425.02H550.95M542.95 1434.84H550.95" stroke="#f2b8d4" stroke-width="1.4" fill="none"/>
<path d="M555.3 1426.59V1432.77M551.3 1426.59H559.3M551.3 1432.77H559.3" stroke="#f2b8d4" stroke-width="1.4" fill="none"/>
<path d="M563.66 1427.56V1435.21M559.66 1427.56H567.66M559.66 1435.21H567.66" stroke="#f2b8d4" stroke-width="1.4" fill="none"/>
<path d="M572.01 1430.68V1438.74M568.01 1430.68H576.01M568.01 1438.74H576.01" stroke="#f2b8d4" stroke-width="1.4" fill="none"/>
<path d="M580.36 1432.63V1437.47M576.36 1432.63H584.36M576.36 1437.47H584.36" stroke="#f2b8d4" stroke-width="1.4" fill="none"/>
<path d="M588.71 1431.76V1437.47M584.71 1431.76H592.71M584.71 1437.47H592.71" stroke="#f2b8d4" stroke-width="1.4" fill="none"/>
<path d="M597.06 1430.15V1436.24M593.06 1430.15H601.06M593.06 1436.24H601.06" stroke="#f2b8d4" stroke-width="1.4" fill="none"/>
<path d="M605.42 1432.62V1438.93M601.42 1432.62H609.42M601.42 1438.93H609.42" stroke="#f2b8d4" stroke-width="1.4" fill="none"/>
<path d="M137.7 1430.4V1392.25M133.7 1430.4H141.7M133.7 1392.25H141.7" stroke="#f2b8d4" stroke-width="1.4" fill="none"/>
<polygon points="117.2,1440.55 124.8,1440.55 121,1431.95" fill="#fff" stroke="#f2b8d4" stroke-width="3.6" stroke-linejoin="round"/>
<polygon points="125.55,1433.75 133.15,1433.75 129.35,1425.15" fill="#fff" stroke="#f2b8d4" stroke-width="3.6" stroke-linejoin="round"/>
<polygon points="133.9,1437.24 141.5,1437.24 137.7,1428.64" fill="#fff" stroke="#f2b8d4" stroke-width="3.6" stroke-linejoin="round"/>
<polygon points="142.26,1438.22 149.86,1438.22 146.06,1429.62" fill="#fff" stroke="#f2b8d4" stroke-width="3.6" stroke-linejoin="round"/>
<polygon points="150.61,1436.39 158.21,1436.39 154.41,1427.79" fill="#fff" stroke="#f2b8d4" stroke-width="3.6" stroke-linejoin="round"/>
<polygon points="158.96,1433.2 166.56,1433.2 162.76,1424.6" fill="#fff" stroke="#f2b8d4" stroke-width="3.6" stroke-linejoin="round"/>
<polygon points="167.31,1438.83 174.91,1438.83 171.11,1430.23" fill="#fff" stroke="#f2b8d4" stroke-width="3.6" stroke-linejoin="round"/>
<polygon points="175.66,1440.01 183.26,1440.01 179.46,1431.41" fill="#fff" stroke="#f2b8d4" stroke-width="3.6" stroke-linejoin="round"/>
<polygon points="184.02,1436.62 191.62,1436.62 187.82,1428.02" fill="#fff" stroke="#f2b8d4" stroke-width="3.6" stroke-linejoin="round"/>
<polygon points="192.37,1439.08 199.97,1439.08 196.17,1430.48" fill="#fff" stroke="#f2b8d4" stroke-width="3.6" stroke-linejoin="round"/>
<polygon points="200.72,1440.18 208.32,1440.18 204.52,1431.58" fill="#fff" stroke="#f2b8d4" stroke-width="3.6" stroke-linejoin="round"/>
<polygon points="209.07,1439.74 216.67,1439.74 212.87,1431.14" fill="#fff" stroke="#f2b8d4" stroke-width="3.6" stroke-linejoin="round"/>
<polygon points="217.42,1440.69 225.02,1440.69 221.22,1432.09" fill="#fff" stroke="#f2b8d4" stroke-width="3.6" stroke-linejoin="round"/>
<polygon points="225.78,1439.39 233.38,1439.39 229.58,1430.79" fill="#fff" stroke="#f2b8d4" stroke-width="3.6" stroke-linejoin="round"/>
<polygon points="234.13,1438.45 241.73,1438.45 237.93,1429.85" fill="#fff" stroke="#f2b8d4" stroke-width="3.6" stroke-linejoin="round"/>
<polygon points="242.48,1438.51 250.08,1438.51 246.28,1429.91" fill="#fff" stroke="#f2b8d4" stroke-width="3.6" stroke-linejoin="round"/>
<polygon points="250.83,1434.63 258.43,1434.63 254.63,1426.03" fill="#fff" stroke="#f2b8d4" stroke-width="3.6" stroke-linejoin="round"/>
<polygon points="259.18,1438.64 266.78,1438.64 262.98,1430.04" fill="#fff" stroke="#f2b8d4" stroke-width="3.6" stroke-linejoin="round"/>
<polygon points="267.54,1436.84 275.14,1436.84 271.34,1428.24" fill="#fff" stroke="#f2b8d4" stroke-width="3.6" stroke-linejoin="round"/>
<polygon points="275.89,1439.6 283.49,1439.6 279.69,1431" fill="#fff" stroke="#f2b8d4" stroke-width="3.6" stroke-linejoin="round"/>
<polygon points="284.24,1438.15 291.84,1438.15 288.04,1429.55" fill="#fff" stroke="#f2b8d4" stroke-width="3.6" stroke-linejoin="round"/>
<polygon points="292.59,1440.96 300.19,1440.96 296.39,1432.36" fill="#fff" stroke="#f2b8d4" stroke-width="3.6" stroke-linejoin="round"/>
<polygon points="300.94,1438.98 308.54,1438.98 304.74,1430.38" fill="#fff" stroke="#f2b8d4" stroke-width="3.6" stroke-linejoin="round"/>
<polygon points="309.3,1440.99 316.9,1440.99 313.1,1432.39" fill="#fff" stroke="#f2b8d4" stroke-width="3.6" stroke-linejoin="round"/>
<polygon points="317.65,1434.85 325.25,1434.85 321.45,1426.25" fill="#fff" stroke="#f2b8d4" stroke-width="3.6" stroke-linejoin="round"/>
<polygon points="326,1436.41 333.6,1436.41 329.8,1427.81" fill="#fff" stroke="#f2b8d4" stroke-width="3.6" stroke-linejoin="round"/>
<polygon points="334.35,1439.5 341.95,1439.5 338.15,1430.9" fill="#fff" stroke="#f2b8d4" stroke-width="3.6" stroke-linejoin="round"/>
<polygon points="342.7,1437.06 350.3,1437.06 346.5,1428.46" fill="#fff" stroke="#f2b8d4" stroke-width="3.6" stroke-linejoin="round"/>
<polygon points="351.06,1433.13 358.66,1433.13 354.86,1424.53" fill="#fff" stroke="#f2b8d4" stroke-width="3.6" stroke-linejoin="round"/>
<polygon points="359.41,1440.21 367.01,1440.21 363.21,1431.61" fill="#fff" stroke="#f2b8d4" stroke-width="3.6" stroke-linejoin="round"/>
<polygon points="367.76,1434.12 375.36,1434.12 371.56,1425.52" fill="#fff" stroke="#f2b8d4" stroke-width="3.6" stroke-linejoin="round"/>
<polygon points="376.11,1437.43 383.71,1437.43 379.91,1428.83" fill="#fff" stroke="#f2b8d4" stroke-width="3.6" stroke-linejoin="round"/>
<polygon points="384.46,1436.89 392.06,1436.89 388.26,1428.29" fill="#fff" stroke="#f2b8d4" stroke-width="3.6" stroke-linejoin="round"/>
<polygon points="392.82,1433.99 400.42,1433.99 396.62,1425.39" fill="#fff" stroke="#f2b8d4" stroke-width="3.6" stroke-linejoin="round"/>
<polygon points="401.17,1437.76 408.77,1437.76 404.97,1429.16" fill="#fff" stroke="#f2b8d4" stroke-width="3.6" stroke-linejoin="round"/>
<polygon points="409.52,1436.79 417.12,1436.79 413.32,1428.19" fill="#fff" stroke="#f2b8d4" stroke-width="3.6" stroke-linejoin="round"/>
<polygon points="417.87,1435.24 425.47,1435.24 421.67,1426.64" fill="#fff" stroke="#f2b8d4" stroke-width="3.6" stroke-linejoin="round"/>
<polygon points="426.22,1432.72 433.82,1432.72 430.02,1424.12" fill="#fff" stroke="#f2b8d4" stroke-width="3.6" stroke-linejoin="round"/>
<polygon points="434.58,1438.19 442.18,1438.19 438.38,1429.59" fill="#fff" stroke="#f2b8d4" stroke-width="3.6" stroke-linejoin="round"/>
<polygon points="442.93,1434.01 450.53,1434.01 446.73,1425.41" fill="#fff" stroke="#f2b8d4" stroke-width="3.6" stroke-linejoin="round"/>
<polygon points="451.28,1435.08 458.88,1435.08 455.08,1426.48" fill="#fff" stroke="#f2b8d4" stroke-width="3.6" stroke-linejoin="round"/>
<polygon points="459.63,1435.68 467.23,1435.68 463.43,1427.08" fill="#fff" stroke="#f2b8d4" stroke-width="3.6" stroke-linejoin="round"/>
<polygon points="467.98,1437.66 475.58,1437.66 471.78,1429.06" fill="#fff" stroke="#f2b8d4" stroke-width="3.6" stroke-linejoin="round"/>
<polygon points="476.34,1438.15 483.94,1438.15 480.14,1429.55" fill="#fff" stroke="#f2b8d4" stroke-width="3.6" stroke-linejoin="round"/>
<polygon points="484.69,1440.65 492.29,1440.65 488.49,1432.05" fill="#fff" stroke="#f2b8d4" stroke-width="3.6" stroke-linejoin="round"/>
<polygon points="493.04,1440.01 500.64,1440.01 496.84,1431.41" fill="#fff" stroke="#f2b8d4" stroke-width="3.6" stroke-linejoin="round"/>
<polygon points="501.39,1440.51 508.99,1440.51 505.19,1431.91" fill="#fff" stroke="#f2b8d4" stroke-width="3.6" stroke-linejoin="round"/>
<polygon points="509.74,1434.79 517.34,1434.79 513.54,1426.19" fill="#fff" stroke="#f2b8d4" stroke-width="3.6" stroke-linejoin="round"/>
<polygon points="518.1,1438.93 525.7,1438.93 521.9,1430.33" fill="#fff" stroke="#f2b8d4" stroke-width="3.6" stroke-linejoin="round"/>
<polygon points="526.45,1439.72 534.05,1439.72 530.25,1431.12" fill="#fff" stroke="#f2b8d4" stroke-width="3.6" stroke-linejoin="round"/>
<polygon points="534.8,1440.4 542.4,1440.4 538.6,1431.8" fill="#fff" stroke="#f2b8d4" stroke-width="3.6" stroke-linejoin="round"/>
<polygon points="543.15,1433.93 550.75,1433.93 546.95,1425.33" fill="#fff" stroke="#f2b8d4" stroke-width="3.6" stroke-linejoin="round"/>
<polygon points="551.5,1433.68 559.1,1433.68 555.3,1425.08" fill="#fff" stroke="#f2b8d4" stroke-width="3.6" stroke-linejoin="round"/>
<polygon points="559.86,1435.39 567.46,1435.39 563.66,1426.79" fill="#fff" stroke="#f2b8d4" stroke-width="3.6" stroke-linejoin="round"/>
<polygon points="568.21,1438.71 575.81,1438.71 572.01,1430.11" fill="#fff" stroke="#f2b8d4" stroke-width="3.6" stroke-linejoin="round"/>
<polygon points="576.56,1439.05 584.16,1439.05 580.36,1430.45" fill="#fff" stroke="#f2b8d4" stroke-width="3.6" stroke-linejoin="round"/>
<polygon points="584.91,1438.61 592.51,1438.61 588.71,1430.01" fill="#fff" stroke="#f2b8d4" stroke-width="3.6" stroke-linejoin="round"/>
<polygon points="593.26,1437.19 600.86,1437.19 597.06,1428.59" fill="#fff" stroke="#f2b8d4" stroke-width="3.6" stroke-linejoin="round"/>
<polygon points="601.62,1439.77 609.22,1439.77 605.42,1431.17" fill="#fff" stroke="#f2b8d4" stroke-width="3.6" stroke-linejoin="round"/>
<polyline fill="none" stroke="#cf64a8" stroke-width="1.5" points="121,1433.28 129.35,1435.45 137.7,1427.37 146.06,1425.76 154.41,1424.17 162.76,1434.07 171.11,1426.45 179.46,1427.13 187.82,1434 196.17,1423.99 204.52,1422.78 212.87,1432.75 221.22,1422.84 229.58,1430.21 237.93,1428.94 246.28,1422.12 254.63,1424.16 262.98,1433.09 271.34,1429.39 279.69,1428.19 288.04,1430.49 296.39,1432.34 304.74,1430.62 313.1,1425.13 321.45,1434.49 329.8,1427.24 338.15,1428.69 346.5,1434.29 354.86,1430.01 363.21,1426.01 371.56,1427.43 379.91,1433.37 388.26,1420.94 396.62,1423.5 404.97,1420.97 413.32,1432.54 421.67,1430.3 430.02,1433.27 438.38,1423.26 446.73,1430.02 455.08,1431.84 463.43,1427.83 471.78,1421.19 480.14,1422.36 488.49,1429.81 496.84,1431.21 505.19,1420.8 513.54,1425.4 521.9,1423.59 530.25,1431.72 538.6,1432.07 546.95,1423.53 555.3,1426.99 563.66,1431.65 572.01,1419.95 580.36,1423.96 588.71,1421.64 597.06,1431.21 605.42,1420.76"/>
<path d="M121 1428.06V1438.49M117 1428.06H125M117 1438.49H125" stroke="#cf64a8" stroke-width="1.4" fill="none"/>
<path d="M129.35 1431.78V1439.12M125.35 1431.78H133.35M125.35 1439.12H133.35" stroke="#cf64a8" stroke-width="1.4" fill="none"/>
<path d="M137.7 1422.81V1431.93M133.7 1422.81H141.7M133.7 1431.93H141.7" stroke="#cf64a8" stroke-width="1.4" fill="none"/>
<path d="M146.06 1418.86V1432.66M142.06 1418.86H150.06M142.06 1432.66H150.06" stroke="#cf64a8" stroke-width="1.4" fill="none"/>
<path d="M154.41 1418.28V1430.06M150.41 1418.28H158.41M150.41 1430.06H158.41" stroke="#cf64a8" stroke-width="1.4" fill="none"/>
<path d="M162.76 1429.11V1439.03M158.76 1429.11H166.76M158.76 1439.03H166.76" stroke="#cf64a8" stroke-width="1.4" fill="none"/>
<path d="M171.11 1420.48V1432.43M167.11 1420.48H175.11M167.11 1432.43H175.11" stroke="#cf64a8" stroke-width="1.4" fill="none"/>
<path d="M179.46 1423.42V1430.84M175.46 1423.42H183.46M175.46 1430.84H183.46" stroke="#cf64a8" stroke-width="1.4" fill="none"/>
<path d="M187.82 1430.06V1437.94M183.82 1430.06H191.82M183.82 1437.94H191.82" stroke="#cf64a8" stroke-width="1.4" fill="none"/>
<path d="M196.17 1420.96V1427.03M192.17 1420.96H200.17M192.17 1427.03H200.17" stroke="#cf64a8" stroke-width="1.4" fill="none"/>
<path d="M204.52 1417.05V1428.52M200.52 1417.05H208.52M200.52 1428.52H208.52" stroke="#cf64a8" stroke-width="1.4" fill="none"/>
<path d="M212.87 1426.69V1438.81M208.87 1426.69H216.87M208.87 1438.81H216.87" stroke="#cf64a8" stroke-width="1.4" fill="none"/>
<path d="M221.22 1416.9V1428.77M217.22 1416.9H225.22M217.22 1428.77H225.22" stroke="#cf64a8" stroke-width="1.4" fill="none"/>
<path d="M229.58 1427.13V1433.28M225.58 1427.13H233.58M225.58 1433.28H233.58" stroke="#cf64a8" stroke-width="1.4" fill="none"/>
<path d="M237.93 1422.7V1435.18M233.93 1422.7H241.93M233.93 1435.18H241.93" stroke="#cf64a8" stroke-width="1.4" fill="none"/>
<path d="M246.28 1415.43V1428.81M242.28 1415.43H250.28M242.28 1428.81H250.28" stroke="#cf64a8" stroke-width="1.4" fill="none"/>
<path d="M254.63 1417.25V1431.07M250.63 1417.25H258.63M250.63 1431.07H258.63" stroke="#cf64a8" stroke-width="1.4" fill="none"/>
<path d="M262.98 1429.29V1436.89M258.98 1429.29H266.98M258.98 1436.89H266.98" stroke="#cf64a8" stroke-width="1.4" fill="none"/>
<path d="M271.34 1426.27V1432.52M267.34 1426.27H275.34M267.34 1432.52H275.34" stroke="#cf64a8" stroke-width="1.4" fill="none"/>
<path d="M279.69 1424.07V1432.31M275.69 1424.07H283.69M275.69 1432.31H283.69" stroke="#cf64a8" stroke-width="1.4" fill="none"/>
<path d="M288.04 1427.92V1433.06M284.04 1427.92H292.04M284.04 1433.06H292.04" stroke="#cf64a8" stroke-width="1.4" fill="none"/>
<path d="M296.39 1427.96V1436.72M292.39 1427.96H300.39M292.39 1436.72H300.39" stroke="#cf64a8" stroke-width="1.4" fill="none"/>
<path d="M304.74 1426.11V1435.13M300.74 1426.11H308.74M300.74 1435.13H308.74" stroke="#cf64a8" stroke-width="1.4" fill="none"/>
<path d="M313.1 1422.2V1428.05M309.1 1422.2H317.1M309.1 1428.05H317.1" stroke="#cf64a8" stroke-width="1.4" fill="none"/>
<path d="M321.45 1431.61V1437.37M317.45 1431.61H325.45M317.45 1437.37H325.45" stroke="#cf64a8" stroke-width="1.4" fill="none"/>
<path d="M329.8 1424.6V1429.88M325.8 1424.6H333.8M325.8 1429.88H333.8" stroke="#cf64a8" stroke-width="1.4" fill="none"/>
<path d="M338.15 1425.15V1432.22M334.15 1425.15H342.15M334.15 1432.22H342.15" stroke="#cf64a8" stroke-width="1.4" fill="none"/>
<path d="M346.5 1430.11V1438.47M342.5 1430.11H350.5M342.5 1438.47H350.5" stroke="#cf64a8" stroke-width="1.4" fill="none"/>
<path d="M354.86 1426.5V1433.51M350.86 1426.5H358.86M350.86 1433.51H358.86" stroke="#cf64a8" stroke-width="1.4" fill="none"/>
<path d="M363.21 1420.53V1431.48M359.21 1420.53H367.21M359.21 1431.48H367.21" stroke="#cf64a8" stroke-width="1.4" fill="none"/>
<path d="M371.56 1423.5V1431.36M367.56 1423.5H375.56M367.56 1431.36H375.56" stroke="#cf64a8" stroke-width="1.4" fill="none"/>
<path d="M379.91 1426.59V1440.16M375.91 1426.59H383.91M375.91 1440.16H383.91" stroke="#cf64a8" stroke-width="1.4" fill="none"/>
<path d="M388.26 1415.06V1426.81M384.26 1415.06H392.26M384.26 1426.81H392.26" stroke="#cf64a8" stroke-width="1.4" fill="none"/>
<path d="M396.62 1419.25V1427.75M392.62 1419.25H400.62M392.62 1427.75H400.62" stroke="#cf64a8" stroke-width="1.4" fill="none"/>
<path d="M404.97 1414.02V1427.92M400.97 1414.02H408.97M400.97 1427.92H408.97" stroke="#cf64a8" stroke-width="1.4" fill="none"/>
<path d="M413.32 1429.13V1435.94M409.32 1429.13H417.32M409.32 1435.94H417.32" stroke="#cf64a8" stroke-width="1.4" fill="none"/>
<path d="M421.67 1426.79V1433.82M417.67 1426.79H425.67M417.67 1433.82H425.67" stroke="#cf64a8" stroke-width="1.4" fill="none"/>
<path d="M430.02 1430.79V1435.74M426.02 1430.79H434.02M426.02 1435.74H434.02" stroke="#cf64a8" stroke-width="1.4" fill="none"/>
<path d="M438.38 1419.9V1426.62M434.38 1419.9H442.38M434.38 1426.62H442.38" stroke="#cf64a8" stroke-width="1.4" fill="none"/>
<path d="M446.73 1426.54V1433.5M442.73 1426.54H450.73M442.73 1433.5H450.73" stroke="#cf64a8" stroke-width="1.4" fill="none"/>
<path d="M455.08 1426.48V1437.2M451.08 1426.48H459.08M451.08 1437.2H459.08" stroke="#cf64a8" stroke-width="1.4" fill="none"/>
<path d="M463.43 1424.13V1431.54M459.43 1424.13H467.43M459.43 1431.54H467.43" stroke="#cf64a8" stroke-width="1.4" fill="none"/>
<path d="M471.78 1415.27V1427.11M467.78 1415.27H475.78M467.78 1427.11H475.78" stroke="#cf64a8" stroke-width="1.4" fill="none"/>
<path d="M480.14 1419.07V1425.65M476.14 1419.07H484.14M476.14 1425.65H484.14" stroke="#cf64a8" stroke-width="1.4" fill="none"/>
<path d="M488.49 1423.3V1436.33M484.49 1423.3H492.49M484.49 1436.33H492.49" stroke="#cf64a8" stroke-width="1.4" fill="none"/>
<path d="M496.84 1425.01V1437.4M492.84 1425.01H500.84M492.84 1437.4H500.84" stroke="#cf64a8" stroke-width="1.4" fill="none"/>
<path d="M505.19 1417.65V1423.94M501.19 1417.65H509.19M501.19 1423.94H509.19" stroke="#cf64a8" stroke-width="1.4" fill="none"/>
<path d="M513.54 1421.16V1429.65M509.54 1421.16H517.54M509.54 1429.65H517.54" stroke="#cf64a8" stroke-width="1.4" fill="none"/>
<path d="M521.9 1420.56V1426.61M517.9 1420.56H525.9M517.9 1426.61H525.9" stroke="#cf64a8" stroke-width="1.4" fill="none"/>
<path d="M530.25 1429.22V1434.21M526.25 1429.22H534.25M526.25 1434.21H534.25" stroke="#cf64a8" stroke-width="1.4" fill="none"/>
<path d="M538.6 1425.92V1438.23M534.6 1425.92H542.6M534.6 1438.23H542.6" stroke="#cf64a8" stroke-width="1.4" fill="none"/>
<path d="M546.95 1419.71V1427.36M542.95 1419.71H550.95M542.95 1427.36H550.95" stroke="#cf64a8" stroke-width="1.4" fill="none"/>
<path d="M555.3 1422.14V1431.84M551.3 1422.14H559.3M551.3 1431.84H559.3" stroke="#cf64a8" stroke-width="1.4" fill="none"/>
<path d="M563.66 1424.9V1438.4M559.66 1424.9H567.66M559.66 1438.4H567.66" stroke="#cf64a8" stroke-width="1.4" fill="none"/>
<path d="M572.01 1417.26V1422.65M568.01 1417.26H576.01M568.01 1422.65H576.01" stroke="#cf64a8" stroke-width="1.4" fill="none"/>
<path d="M580.36 1420.74V1427.18M576.36 1420.74H584.36M576.36 1427.18H584.36" stroke="#cf64a8" stroke-width="1.4" fill="none"/>
<path d="M588.71 1417.42V1425.86M584.71 1417.42H592.71M584.71 1425.86H592.71" stroke="#cf64a8" stroke-width="1.4" fill="none"/>
<path d="M597.06 1427.93V1434.49M593.06 1427.93H601.06M593.06 1434.49H601.06" stroke="#cf64a8" stroke-width="1.4" fill="none"/>
<path d="M605.42 1413.81V1427.72M601.42 1413.81H609.42M601.42 1427.72H609.42" stroke="#cf64a8" stroke-width="1.4" fill="none"/>
<polygon points="117.2,1437.28 124.8,1437.28 121,1428.68" fill="#fff" stroke="#cf64a8" stroke-width="3.6" stroke-linejoin="round"/>
<polygon points="125.55,1439.45 133.15,1439.45 129.35,1430.85" fill="#fff" stroke="#cf64a8" stroke-width="3.6" stroke-linejoin="round"/>
<polygon points="133.9,1431.37 141.5,1431.37 137.7,1422.77" fill="#fff" stroke="#cf64a8" stroke-width="3.6" stroke-linejoin="round"/>
<polygon points="142.26,1429.76 149.86,1429.76 146.06,1421.16" fill="#fff" stroke="#cf64a8" stroke-width="3.6" stroke-linejoin="round"/>
<polygon points="150.61,1428.17 158.21,1428.17 154.41,1419.57" fill="#fff" stroke="#cf64a8" stroke-width="3.6" stroke-linejoin="round"/>
<polygon points="158.96,1438.07 166.56,1438.07 162.76,1429.47" fill="#fff" stroke="#cf64a8" stroke-width="3.6" stroke-linejoin="round"/>
<polygon points="167.31,1430.45 174.91,1430.45 171.11,1421.85" fill="#fff" stroke="#cf64a8" stroke-width="3.6" stroke-linejoin="round"/>
<polygon points="175.66,1431.13 183.26,1431.13 179.46,1422.53" fill="#fff" stroke="#cf64a8" stroke-width="3.6" stroke-linejoin="round"/>
<polygon points="184.02,1438 191.62,1438 187.82,1429.4" fill="#fff" stroke="#cf64a8" stroke-width="3.6" stroke-linejoin="round"/>
<polygon points="192.37,1427.99 199.97,1427.99 196.17,1419.39" fill="#fff" stroke="#cf64a8" stroke-width="3.6" stroke-linejoin="round"/>
<polygon points="200.72,1426.78 208.32,1426.78 204.52,1418.18" fill="#fff" stroke="#cf64a8" stroke-width="3.6" stroke-linejoin="round"/>
<polygon points="209.07,1436.75 216.67,1436.75 212.87,1428.15" fill="#fff" stroke="#cf64a8" stroke-width="3.6" stroke-linejoin="round"/>
<polygon points="217.42,1426.84 225.02,1426.84 221.22,1418.24" fill="#fff" stroke="#cf64a8" stroke-width="3.6" stroke-linejoin="round"/>
<polygon points="225.78,1434.21 233.38,1434.21 229.58,1425.61" fill="#fff" stroke="#cf64a8" stroke-width="3.6" stroke-linejoin="round"/>
<polygon points="234.13,1432.94 241.73,1432.94 237.93,1424.34" fill="#fff" stroke="#cf64a8" stroke-width="3.6" stroke-linejoin="round"/>
<polygon points="242.48,1426.12 250.08,1426.12 246.28,1417.52" fill="#fff" stroke="#cf64a8" stroke-width="3.6" stroke-linejoin="round"/>
<polygon points="250.83,1428.16 258.43,1428.16 254.63,1419.56" fill="#fff" stroke="#cf64a8" stroke-width="3.6" stroke-linejoin="round"/>
<polygon points="259.18,1437.09 266.78,1437.09 262.98,1428.49" fill="#fff" stroke="#cf64a8" stroke-width="3.6" stroke-linejoin="round"/>
<polygon points="267.54,1433.39 275.14,1433.39 271.34,1424.79" fill="#fff" stroke="#cf64a8" stroke-width="3.6" stroke-linejoin="round"/>
<polygon points="275.89,1432.19 283.49,1432.19 279.69,1423.59" fill="#fff" stroke="#cf64a8" stroke-width="3.6" stroke-linejoin="round"/>
<polygon points="284.24,1434.49 291.84,1434.49 288.04,1425.89" fill="#fff" stroke="#cf64a8" stroke-width="3.6" stroke-linejoin="round"/>
<polygon points="292.59,1436.34 300.19,1436.34 296.39,1427.74" fill="#fff" stroke="#cf64a8" stroke-width="3.6" stroke-linejoin="round"/>
<polygon points="300.94,1434.62 308.54,1434.62 304.74,1426.02" fill="#fff" stroke="#cf64a8" stroke-width="3.6" stroke-linejoin="round"/>
<polygon points="309.3,1429.13 316.9,1429.13 313.1,1420.53" fill="#fff" stroke="#cf64a8" stroke-width="3.6" stroke-linejoin="round"/>
<polygon points="317.65,1438.49 325.25,1438.49 321.45,1429.89" fill="#fff" stroke="#cf64a8" stroke-width="3.6" stroke-linejoin="round"/>
<polygon points="326,1431.24 333.6,1431.24 329.8,1422.64" fill="#fff" stroke="#cf64a8" stroke-width="3.6" stroke-linejoin="round"/>
<polygon points="334.35,1432.69 341.95,1432.69 338.15,1424.09" fill="#fff" stroke="#cf64a8" stroke-width="3.6" stroke-linejoin="round"/>
<polygon points="342.7,1438.29 350.3,1438.29 346.5,1429.69" fill="#fff" stroke="#cf64a8" stroke-width="3.6" stroke-linejoin="round"/>
<polygon points="351.06,1434.01 358.66,1434.01 354.86,1425.41" fill="#fff" stroke="#cf64a8" stroke-width="3.6" stroke-linejoin="round"/>
<polygon points="359.41,1430.01 367.01,1430.01 363.21,1421.41" fill="#fff" stroke="#cf64a8" stroke-width="3.6" stroke-linejoin="round"/>
<polygon points="367.76,1431.43 375.36,1431.43 371.56,1422.83" fill="#fff" stroke="#cf64a8" stroke-width="3.6" stroke-linejoin="round"/>
<polygon points="376.11,1437.37 383.71,1437.37 379.91,1428.77" fill="#fff" stroke="#cf64a8" stroke-width="3.6" stroke-linejoin="round"/>
<polygon points="384.46,1424.94 392.06,1424.94 388.26,1416.34" fill="#fff" stroke="#cf64a8" stroke-width="3.6" stroke-linejoin="round"/>
<polygon points="392.82,1427.5 400.42,1427.5 396.62,1418.9" fill="#fff" stroke="#cf64a8" stroke-width="3.6" stroke-linejoin="round"/>
<polygon points="401.17,1424.97 408.77,1424.97 404.97,1416.37" fill="#fff" stroke="#cf64a8" stroke-width="3.6" stroke-linejoin="round"/>
<polygon points="409.52,1436.54 417.12,1436.54 413.32,1427.94" fill="#fff" stroke="#cf64a8" stroke-width="3.6" stroke-linejoin="round"/>
<polygon points="417.87,1434.3 425.47,1434.3 421.67,1425.7" fill="#fff" stroke="#cf64a8" stroke-width="3.6" stroke-linejoin="round"/>
<polygon points="426.22,1437.27 433.82,1437.27 430.02,1428.67" fill="#fff" stroke="#cf64a8" stroke-width="3.6" stroke-linejoin="round"/>
<polygon points="434.58,1427.26 442.18,1427.26 438.38,1418.66" fill="#fff" stroke="#cf64a8" stroke-width="3.6" stroke-linejoin="round"/>
<polygon points="442.93,1434.02 450.53,1434.02 446.73,1425.42" fill="#fff" stroke="#cf64a8" stroke-width="3.6" stroke-linejoin="round"/>
<polygon points="451.28,1435.84 458.88,1435.84 455.08,1427.24" fill="#fff" stroke="#cf64a8" stroke-width="3.6" stroke-linejoin="round"/>
<polygon points="459.63,1431.83 467.23,1431.83 463.43,1423.23" fill="#fff" stroke="#cf64a8" stroke-width="3.6" stroke-linejoin="round"/>
<polygon points="467.98,1425.19 475.58,1425.19 471.78,1416.59" fill="#fff" stroke="#cf64a8" stroke-width="3.6" stroke-linejoin="round"/>
<polygon points="476.34,1426.36 483.94,1426.36 480.14,1417.76" fill="#fff" stroke="#cf64a8" stroke-width="3.6" stroke-linejoin="round"/>
<polygon points="484.69,1433.81 492.29,1433.81 488.49,1425.21" fill="#fff" stroke="#cf64a8" stroke-width="3.6" stroke-linejoin="round"/>
<polygon points="493.04,1435.21 500.64,1435.21 496.84,1426.61" fill="#fff" stroke="#cf64a8" stroke-width="3.6" stroke-linejoin="round"/>
<polygon points="501.39,1424.8 508.99,1424.8 505.19,1416.2" fill="#fff" stroke="#cf64a8" stroke-width="3.6" stroke-linejoin="round"/>
<polygon points="509.74,1429.4 517.34,1429.4 513.54,1420.8" fill="#fff" stroke="#cf64a8" stroke-width="3.6" stroke-linejoin="round"/>
<polygon points="518.1,1427.59 525.7,1427.59 521.9,1418.99" fill="#fff" stroke="#cf64a8" stroke-width="3.6" stroke-linejoin="round"/>
<polygon points="526.45,1435.72 534.05,1435.72 530.25,1427.12" fill="#fff" stroke="#cf64a8" stroke-width="3.6" stroke-linejoin="round"/>
<polygon points="534.8,1436.07 542.4,1436.07 538.6,1427.47" fill="#fff" stroke="#cf64a8" stroke-width="3.6" stroke-linejoin="round"/>
<polygon points="543.15,1427.53 550.75,1427.53 546.95,1418.93" fill="#fff" stroke="#cf64a8" stroke-width="3.6" stroke-linejoin="round"/>
<polygon points="551.5,1430.99 559.1,1430.99 555.3,1422.39" fill="#fff" stroke="#cf64a8" stroke-width="3.6" stroke-linejoin="round"/>
<polygon points="559.86,1435.65 567.46,1435.65 563.66,1427.05" fill="#fff" stroke="#cf64a8" stroke-width="3.6" stroke-linejoin="round"/>
<polygon points="568.21,1423.95 575.81,1423.95 572.01,1415.35" fill="#fff" stroke="#cf64a8" stroke-width="3.6" stroke-linejoin="round"/>
<polygon points="576.56,1427.96 584.16,1427.96 580.36,1419.36" fill="#fff" stroke="#cf64a8" stroke-width="3.6" stroke-linejoin="round"/>
<polygon points="584.91,1425.64 592.51,1425.64 588.71,1417.04" fill="#fff" stroke="#cf64a8" stroke-width="3.6" stroke-linejoin="round"/>
<polygon points="593.26,1435.21 600.86,1435.21 597.06,1426.61" fill="#fff" stroke="#cf64a8" stroke-width="3.6" stroke-linejoin="round"/>
<polygon points="601.62,1424.76 609.22,1424.76 605.42,1416.16" fill="#fff" stroke="#cf64a8" stroke-width="3.6" stroke-linejoin="round"/>
<polyline fill="none" stroke="#a23d98" stroke-width="1.5" points="121,1430.07 129.35,1429.22 137.7,1429.97 146.06,1423.91 154.41,1429.35 162.76,1426.48 171.11,1431.25 179.46,1417.79 187.82,1427.15 196.17,1425.22 204.52,1422.94 212.87,1417.3 221.22,1425.42 229.58,1416.78 237.93,1423.75 246.28,1423.08 254.63,1423.08 262.98,1431.56 271.34,1424.21 279.69,1428.46 288.04,1431.37 296.39,1417.64 304.74,1428.2 313.1,1422.91 321.45,1418.46 329.8,1421.2 338.15,1424.99 346.5,1421.56 354.86,1420.78 363.21,1416.72 371.56,1428.16 379.91,1420.25 388.26,1425.44 396.62,1424.8 404.97,1416.19 413.32,1420.57 421.67,1419.5 430.02,1415.96 438.38,1413.21 446.73,1421.08 455.08,1418.04 463.43,1419.72 471.78,1419.47 480.14,1416.23 488.49,1420.19 496.84,1418.66 505.19,1419.46 513.54,1411.39 521.9,1415.39 530.25,1412.21 538.6,1410.94 546.95,1422.46 555.3,1417.19 563.66,1410.49 572.01,1412.1 580.36,1423.97 588.71,1424.09 597.06,1418.46 605.42,1424.63"/>
<path d="M121 1423.72V1436.41M117 1423.72H125M117 1436.41H125" stroke="#a23d98" stroke-width="1.4" fill="none"/>
<path d="M129.35 1420.91V1437.53M125.35 1420.91H133.35M125.35 1437.53H133.35" stroke="#a23d98" stroke-width="1.4" fill="none"/>
<path d="M137.7 1424.03V1435.9M133.7 1424.03H141.7M133.7 1435.9H141.7" stroke="#a23d98" stroke-width="1.4" fill="none"/>
<path d="M146.06 1418.75V1429.07M142.06 1418.75H150.06M142.06 1429.07H150.06" stroke="#a23d98" stroke-width="1.4" fill="none"/>
<path d="M154.41 1423.26V1435.44M150.41 1423.26H158.41M150.41 1435.44H158.41" stroke="#a23d98" stroke-width="1.4" fill="none"/>
<path d="M162.76 1417.89V1435.06M158.76 1417.89H166.76M158.76 1435.06H166.76" stroke="#a23d98" stroke-width="1.4" fill="none"/>
<path d="M171.11 1424.83V1437.68M167.11 1424.83H175.11M167.11 1437.68H175.11" stroke="#a23d98" stroke-width="1.4" fill="none"/>
<path d="M179.46 1411.03V1424.56M175.46 1411.03H183.46M175.46 1424.56H183.46" stroke="#a23d98" stroke-width="1.4" fill="none"/>
<path d="M187.82 1419.23V1435.08M183.82 1419.23H191.82M183.82 1435.08H191.82" stroke="#a23d98" stroke-width="1.4" fill="none"/>
<path d="M196.17 1417.75V1432.7M192.17 1417.75H200.17M192.17 1432.7H200.17" stroke="#a23d98" stroke-width="1.4" fill="none"/>
<path d="M204.52 1415.56V1430.32M200.52 1415.56H208.52M200.52 1430.32H208.52" stroke="#a23d98" stroke-width="1.4" fill="none"/>
<path d="M212.87 1411.94V1422.67M208.87 1411.94H216.87M208.87 1422.67H216.87" stroke="#a23d98" stroke-width="1.4" fill="none"/>
<path d="M221.22 1420.53V1430.32M217.22 1420.53H225.22M217.22 1430.32H225.22" stroke="#a23d98" stroke-width="1.4" fill="none"/>
<path d="M229.58 1411.01V1422.56M225.58 1411.01H233.58M225.58 1422.56H233.58" stroke="#a23d98" stroke-width="1.4" fill="none"/>
<path d="M237.93 1419.53V1427.96M233.93 1419.53H241.93M233.93 1427.96H241.93" stroke="#a23d98" stroke-width="1.4" fill="none"/>
<path d="M246.28 1416.85V1429.32M242.28 1416.85H250.28M242.28 1429.32H250.28" stroke="#a23d98" stroke-width="1.4" fill="none"/>
<path d="M254.63 1417.1V1429.06M250.63 1417.1H258.63M250.63 1429.06H258.63" stroke="#a23d98" stroke-width="1.4" fill="none"/>
<path d="M262.98 1425.08V1438.05M258.98 1425.08H266.98M258.98 1438.05H266.98" stroke="#a23d98" stroke-width="1.4" fill="none"/>
<path d="M271.34 1421.05V1427.38M267.34 1421.05H275.34M267.34 1427.38H275.34" stroke="#a23d98" stroke-width="1.4" fill="none"/>
<path d="M279.69 1420.98V1435.94M275.69 1420.98H283.69M275.69 1435.94H283.69" stroke="#a23d98" stroke-width="1.4" fill="none"/>
<path d="M288.04 1425.1V1437.64M284.04 1425.1H292.04M284.04 1437.64H292.04" stroke="#a23d98" stroke-width="1.4" fill="none"/>
<path d="M296.39 1412.22V1423.06M292.39 1412.22H300.39M292.39 1423.06H300.39" stroke="#a23d98" stroke-width="1.4" fill="none"/>
<path d="M304.74 1421.05V1435.35M300.74 1421.05H308.74M300.74 1435.35H308.74" stroke="#a23d98" stroke-width="1.4" fill="none"/>
<path d="M313.1 1415.75V1430.07M309.1 1415.75H317.1M309.1 1430.07H317.1" stroke="#a23d98" stroke-width="1.4" fill="none"/>
<path d="M321.45 1414.92V1422M317.45 1414.92H325.45M317.45 1422H325.45" stroke="#a23d98" stroke-width="1.4" fill="none"/>
<path d="M329.8 1416.09V1426.31M325.8 1416.09H333.8M325.8 1426.31H333.8" stroke="#a23d98" stroke-width="1.4" fill="none"/>
<path d="M338.15 1417.35V1432.63M334.15 1417.35H342.15M334.15 1432.63H342.15" stroke="#a23d98" stroke-width="1.4" fill="none"/>
<path d="M346.5 1414.42V1428.7M342.5 1414.42H350.5M342.5 1428.7H350.5" stroke="#a23d98" stroke-width="1.4" fill="none"/>
<path d="M354.86 1417.43V1424.12M350.86 1417.43H358.86M350.86 1424.12H358.86" stroke="#a23d98" stroke-width="1.4" fill="none"/>
<path d="M363.21 1408.07V1425.36M359.21 1408.07H367.21M359.21 1425.36H367.21" stroke="#a23d98" stroke-width="1.4" fill="none"/>
<path d="M371.56 1423.61V1432.72M367.56 1423.61H375.56M367.56 1432.72H375.56" stroke="#a23d98" stroke-width="1.4" fill="none"/>
<path d="M379.91 1413.34V1427.17M375.91 1413.34H383.91M375.91 1427.17H383.91" stroke="#a23d98" stroke-width="1.4" fill="none"/>
<path d="M388.26 1418.67V1432.21M384.26 1418.67H392.26M384.26 1432.21H392.26" stroke="#a23d98" stroke-width="1.4" fill="none"/>
<path d="M396.62 1419.84V1429.77M392.62 1419.84H400.62M392.62 1429.77H400.62" stroke="#a23d98" stroke-width="1.4" fill="none"/>
<path d="M404.97 1408.42V1423.96M400.97 1408.42H408.97M400.97 1423.96H408.97" stroke="#a23d98" stroke-width="1.4" fill="none"/>
<path d="M413.32 1416.1V1425.04M409.32 1416.1H417.32M409.32 1425.04H417.32" stroke="#a23d98" stroke-width="1.4" fill="none"/>
<path d="M421.67 1413.99V1425M417.67 1413.99H425.67M417.67 1425H425.67" stroke="#a23d98" stroke-width="1.4" fill="none"/>
<path d="M430.02 1410.27V1421.65M426.02 1410.27H434.02M426.02 1421.65H434.02" stroke="#a23d98" stroke-width="1.4" fill="none"/>
<path d="M438.38 1404.85V1421.57M434.38 1404.85H442.38M434.38 1421.57H442.38" stroke="#a23d98" stroke-width="1.4" fill="none"/>
<path d="M446.73 1414.95V1427.21M442.73 1414.95H450.73M442.73 1427.21H450.73" stroke="#a23d98" stroke-width="1.4" fill="none"/>
<path d="M455.08 1409.83V1426.26M451.08 1409.83H459.08M451.08 1426.26H459.08" stroke="#a23d98" stroke-width="1.4" fill="none"/>
<path d="M463.43 1414.23V1425.22M459.43 1414.23H467.43M459.43 1425.22H467.43" stroke="#a23d98" stroke-width="1.4" fill="none"/>
<path d="M471.78 1412.37V1426.56M467.78 1412.37H475.78M467.78 1426.56H475.78" stroke="#a23d98" stroke-width="1.4" fill="none"/>
<path d="M480.14 1409.23V1423.23M476.14 1409.23H484.14M476.14 1423.23H484.14" stroke="#a23d98" stroke-width="1.4" fill="none"/>
<path d="M488.49 1414.39V1426M484.49 1414.39H492.49M484.49 1426H492.49" stroke="#a23d98" stroke-width="1.4" fill="none"/>
<path d="M496.84 1409.71V1427.62M492.84 1409.71H500.84M492.84 1427.62H500.84" stroke="#a23d98" stroke-width="1.4" fill="none"/>
<path d="M505.19 1416.32V1422.6M501.19 1416.32H509.19M501.19 1422.6H509.19" stroke="#a23d98" stroke-width="1.4" fill="none"/>
<path d="M513.54 1406.69V1416.1M509.54 1406.69H517.54M509.54 1416.1H517.54" stroke="#a23d98" stroke-width="1.4" fill="none"/>
<path d="M521.9 1410.41V1420.37M517.9 1410.41H525.9M517.9 1420.37H525.9" stroke="#a23d98" stroke-width="1.4" fill="none"/>
<path d="M530.25 1405.51V1418.91M526.25 1405.51H534.25M526.25 1418.91H534.25" stroke="#a23d98" stroke-width="1.4" fill="none"/>
<path d="M538.6 1405.68V1416.21M534.6 1405.68H542.6M534.6 1416.21H542.6" stroke="#a23d98" stroke-width="1.4" fill="none"/>
<path d="M546.95 1414.5V1430.42M542.95 1414.5H550.95M542.95 1430.42H550.95" stroke="#a23d98" stroke-width="1.4" fill="none"/>
<path d="M555.3 1409.51V1424.87M551.3 1409.51H559.3M551.3 1424.87H559.3" stroke="#a23d98" stroke-width="1.4" fill="none"/>
<path d="M563.66 1403.97V1417M559.66 1403.97H567.66M559.66 1417H567.66" stroke="#a23d98" stroke-width="1.4" fill="none"/>
<path d="M572.01 1407.25V1416.96M568.01 1407.25H576.01M568.01 1416.96H576.01" stroke="#a23d98" stroke-width="1.4" fill="none"/>
<path d="M580.36 1420.88V1427.06M576.36 1420.88H584.36M576.36 1427.06H584.36" stroke="#a23d98" stroke-width="1.4" fill="none"/>
<path d="M588.71 1416.21V1431.97M584.71 1416.21H592.71M584.71 1431.97H592.71" stroke="#a23d98" stroke-width="1.4" fill="none"/>
<path d="M597.06 1414.58V1422.35M593.06 1414.58H601.06M593.06 1422.35H601.06" stroke="#a23d98" stroke-width="1.4" fill="none"/>
<path d="M605.42 1416.38V1432.89M601.42 1416.38H609.42M601.42 1432.89H609.42" stroke="#a23d98" stroke-width="1.4" fill="none"/>
<polygon points="117.2,1434.07 124.8,1434.07 121,1425.47" fill="#fff" stroke="#a23d98" stroke-width="3.6" stroke-linejoin="round"/>
<polygon points="125.55,1433.22 133.15,1433.22 129.35,1424.62" fill="#fff" stroke="#a23d98" stroke-width="3.6" stroke-linejoin="round"/>
<polygon points="133.9,1433.97 141.5,1433.97 137.7,1425.37" fill="#fff" stroke="#a23d98" stroke-width="3.6" stroke-linejoin="round"/>
<polygon points="142.26,1427.91 149.86,1427.91 146.06,1419.31" fill="#fff" stroke="#a23d98" stroke-width="3.6" stroke-linejoin="round"/>
<polygon points="150.61,1433.35 158.21,1433.35 154.41,1424.75" fill="#fff" stroke="#a23d98" stroke-width="3.6" stroke-linejoin="round"/>
<polygon points="158.96,1430.48 166.56,1430.48 162.76,1421.88" fill="#fff" stroke="#a23d98" stroke-width="3.6" stroke-linejoin="round"/>
<polygon points="167.31,1435.25 174.91,1435.25 171.11,1426.65" fill="#fff" stroke="#a23d98" stroke-width="3.6" stroke-linejoin="round"/>
<polygon points="175.66,1421.79 183.26,1421.79 179.46,1413.19" fill="#fff" stroke="#a23d98" stroke-width="3.6" stroke-linejoin="round"/>
<polygon points="184.02,1431.15 191.62,1431.15 187.82,1422.55" fill="#fff" stroke="#a23d98" stroke-width="3.6" stroke-linejoin="round"/>
<polygon points="192.37,1429.22 199.97,1429.22 196.17,1420.62" fill="#fff" stroke="#a23d98" stroke-width="3.6" stroke-linejoin="round"/>
<polygon points="200.72,1426.94 208.32,1426.94 204.52,1418.34" fill="#fff" stroke="#a23d98" stroke-width="3.6" stroke-linejoin="round"/>
<polygon points="209.07,1421.3 216.67,1421.3 212.87,1412.7" fill="#fff" stroke="#a23d98" stroke-width="3.6" stroke-linejoin="round"/>
<polygon points="217.42,1429.42 225.02,1429.42 221.22,1420.82" fill="#fff" stroke="#a23d98" stroke-width="3.6" stroke-linejoin="round"/>
<polygon points="225.78,1420.78 233.38,1420.78 229.58,1412.18" fill="#fff" stroke="#a23d98" stroke-width="3.6" stroke-linejoin="round"/>
<polygon points="234.13,1427.75 241.73,1427.75 237.93,1419.15" fill="#fff" stroke="#a23d98" stroke-width="3.6" stroke-linejoin="round"/>
<polygon points="242.48,1427.08 250.08,1427.08 246.28,1418.48" fill="#fff" stroke="#a23d98" stroke-width="3.6" stroke-linejoin="round"/>
<polygon points="250.83,1427.08 258.43,1427.08 254.63,1418.48" fill="#fff" stroke="#a23d98" stroke-width="3.6" stroke-linejoin="round"/>
<polygon points="259.18,1435.56 266.78,1435.56 262.98,1426.96" fill="#fff" stroke="#a23d98" stroke-width="3.6" stroke-linejoin="round"/>
<polygon points="267.54,1428.21 275.14,1428.21 271.34,1419.61" fill="#fff" stroke="#a23d98" stroke-width="3.6" stroke-linejoin="round"/>
<polygon points="275.89,1432.46 283.49,1432.46 279.69,1423.86" fill="#fff" stroke="#a23d98" stroke-width="3.6" stroke-linejoin="round"/>
<polygon points="284.24,1435.37 291.84,1435.37 288.04,1426.77" fill="#fff" stroke="#a23d98" stroke-width="3.6" stroke-linejoin="round"/>
<polygon points="292.59,1421.64 300.19,1421.64 296.39,1413.04" fill="#fff" stroke="#a23d98" stroke-width="3.6" stroke-linejoin="round"/>
<polygon points="300.94,1432.2 308.54,1432.2 304.74,1423.6" fill="#fff" stroke="#a23d98" stroke-width="3.6" stroke-linejoin="round"/>
<polygon points="309.3,1426.91 316.9,1426.91 313.1,1418.31" fill="#fff" stroke="#a23d98" stroke-width="3.6" stroke-linejoin="round"/>
<polygon points="317.65,1422.46 325.25,1422.46 321.45,1413.86" fill="#fff" stroke="#a23d98" stroke-width="3.6" stroke-linejoin="round"/>
<polygon points="326,1425.2 333.6,1425.2 329.8,1416.6" fill="#fff" stroke="#a23d98" stroke-width="3.6" stroke-linejoin="round"/>
<polygon points="334.35,1428.99 341.95,1428.99 338.15,1420.39" fill="#fff" stroke="#a23d98" stroke-width="3.6" stroke-linejoin="round"/>
<polygon points="342.7,1425.56 350.3,1425.56 346.5,1416.96" fill="#fff" stroke="#a23d98" stroke-width="3.6" stroke-linejoin="round"/>
<polygon points="351.06,1424.78 358.66,1424.78 354.86,1416.18" fill="#fff" stroke="#a23d98" stroke-width="3.6" stroke-linejoin="round"/>
<polygon points="359.41,1420.72 367.01,1420.72 363.21,1412.12" fill="#fff" stroke="#a23d98" stroke-width="3.6" stroke-linejoin="round"/>
<polygon points="367.76,1432.16 375.36,1432.16 371.56,1423.56" fill="#fff" stroke="#a23d98" stroke-width="3.6" stroke-linejoin="round"/>
<polygon points="376.11,1424.25 383.71,1424.25 379.91,1415.65" fill="#fff" stroke="#a23d98" stroke-width="3.6" stroke-linejoin="round"/>
<polygon points="384.46,1429.44 392.06,1429.44 388.26,1420.84" fill="#fff" stroke="#a23d98" stroke-width="3.6" stroke-linejoin="round"/>
<polygon points="392.82,1428.8 400.42,1428.8 396.62,1420.2" fill="#fff" stroke="#a23d98" stroke-width="3.6" stroke-linejoin="round"/>
<polygon points="401.17,1420.19 408.77,1420.19 404.97,1411.59" fill="#fff" stroke="#a23d98" stroke-width="3.6" stroke-linejoin="round"/>
<polygon points="409.52,1424.57 417.12,1424.57 413.32,1415.97" fill="#fff" stroke="#a23d98" stroke-width="3.6" stroke-linejoin="round"/>
<polygon points="417.87,1423.5 425.47,1423.5 421.67,1414.9" fill="#fff" stroke="#a23d98" stroke-width="3.6" stroke-linejoin="round"/>
<polygon points="426.22,1419.96 433.82,1419.96 430.02,1411.36" fill="#fff" stroke="#a23d98" stroke-width="3.6" stroke-linejoin="round"/>
<polygon points="434.58,1417.21 442.18,1417.21 438.38,1408.61" fill="#fff" stroke="#a23d98" stroke-width="3.6" stroke-linejoin="round"/>
<polygon points="442.93,1425.08 450.53,1425.08 446.73,1416.48" fill="#fff" stroke="#a23d98" stroke-width="3.6" stroke-linejoin="round"/>
<polygon points="451.28,1422.04 458.88,1422.04 455.08,1413.44" fill="#fff" stroke="#a23d98" stroke-width="3.6" stroke-linejoin="round"/>
<polygon points="459.63,1423.72 467.23,1423.72 463.43,1415.12" fill="#fff" stroke="#a23d98" stroke-width="3.6" stroke-linejoin="round"/>
<polygon points="467.98,1423.47 475.58,1423.47 471.78,1414.87" fill="#fff" stroke="#a23d98" stroke-width="3.6" stroke-linejoin="round"/>
<polygon points="476.34,1420.23 483.94,1420.23 480.14,1411.63" fill="#fff" stroke="#a23d98" stroke-width="3.6" stroke-linejoin="round"/>
<polygon points="484.69,1424.19 492.29,1424.19 488.49,1415.59" fill="#fff" stroke="#a23d98" stroke-width="3.6" stroke-linejoin="round"/>
<polygon points="493.04,1422.66 500.64,1422.66 496.84,1414.06" fill="#fff" stroke="#a23d98" stroke-width="3.6" stroke-linejoin="round"/>
<polygon points="501.39,1423.46 508.99,1423.46 505.19,1414.86" fill="#fff" stroke="#a23d98" stroke-width="3.6" stroke-linejoin="round"/>
<polygon points="509.74,1415.39 517.34,1415.39 513.54,1406.79" fill="#fff" stroke="#a23d98" stroke-width="3.6" stroke-linejoin="round"/>
<polygon points="518.1,1419.39 525.7,1419.39 521.9,1410.79" fill="#fff" stroke="#a23d98" stroke-width="3.6" stroke-linejoin="round"/>
<polygon points="526.45,1416.21 534.05,1416.21 530.25,1407.61" fill="#fff" stroke="#a23d98" stroke-width="3.6" stroke-linejoin="round"/>
<polygon points="534.8,1414.94 542.4,1414.94 538.6,1406.34" fill="#fff" stroke="#a23d98" stroke-width="3.6" stroke-linejoin="round"/>
<polygon points="543.15,1426.46 550.75,1426.46 546.95,1417.86" fill="#fff" stroke="#a23d98" stroke-width="3.6" stroke-linejoin="round"/>
<polygon points="551.5,1421.19 559.1,1421.19 555.3,1412.59" fill="#fff" stroke="#a23d98" stroke-width="3.6" stroke-linejoin="round"/>
<polygon points="559.86,1414.49 567.46,1414.49 563.66,1405.89" fill="#fff" stroke="#a23d98" stroke-width="3.6" stroke-linejoin="round"/>
<polygon points="568.21,1416.1 575.81,1416.1 572.01,1407.5" fill="#fff" stroke="#a23d98" stroke-width="3.6" stroke-linejoin="round"/>
<polygon points="576.56,1427.97 584.16,1427.97 580.36,1419.37" fill="#fff" stroke="#a23d98" stroke-width="3.6" stroke-linejoin="round"/>
<polygon points="584.91,1428.09 592.51,1428.09 588.71,1419.49" fill="#fff" stroke="#a23d98" stroke-width="3.6" stroke-linejoin="round"/>
<polygon points="593.26,1422.46 600.86,1422.46 597.06,1413.86" fill="#fff" stroke="#a23d98" stroke-width="3.6" stroke-linejoin="round"/>
<polygon points="601.62,1428.63 609.22,1428.63 605.42,1420.03" fill="#fff" stroke="#a23d98" stroke-width="3.6" stroke-linejoin="round"/>
<polyline fill="none" stroke="#a573bd" stroke-width="1.5" points="121,1425.61 129.35,1427.41 137.7,1431.21 146.06,1431.04 154.41,1427.79 162.76,1427.85 171.11,1422.38 179.46,1418.97 187.82,1425.01 196.17,1418.84 204.52,1418.04 212.87,1418.26 221.22,1425.28 229.58,1426.86 237.93,1426.6 246.28,1426.78 254.63,1426.51 262.98,1421.2 271.34,1417.64 279.69,1418.19 288.04,1422.41 296.39,1420.11 304.74,1418.14 313.1,1426.68 321.45,1419.47 329.8,1416.25 338.15,1417.62 346.5,1417.83 354.86,1420.97 363.21,1424.44 371.56,1416.8 379.91,1422.19 388.26,1416.29 396.62,1414.03 404.97,1420.87 413.32,1420.62 421.67,1413.78 430.02,1416.31 438.38,1422.9 446.73,1423.24 455.08,1422.76 463.43,1413.38 471.78,1414.39 480.14,1422.27 488.49,1413.78 496.84,1411.72 505.19,1415.48 513.54,1419.05 521.9,1416.44 530.25,1421.36 538.6,1422.6 546.95,1410.74 555.3,1414.48 563.66,1415.8 572.01,1410.64 580.36,1416.56 588.71,1411.03 597.06,1411.41 605.42,1418.73"/>
<path d="M121 1418.91V1432.31M117 1418.91H125M117 1432.31H125" stroke="#a573bd" stroke-width="1.4" fill="none"/>
<path d="M129.35 1419.18V1435.64M125.35 1419.18H133.35M125.35 1435.64H133.35" stroke="#a573bd" stroke-width="1.4" fill="none"/>
<path d="M137.7 1424.57V1437.85M133.7 1424.57H141.7M133.7 1437.85H141.7" stroke="#a573bd" stroke-width="1.4" fill="none"/>
<path d="M146.06 1424.17V1437.91M142.06 1424.17H150.06M142.06 1437.91H150.06" stroke="#a573bd" stroke-width="1.4" fill="none"/>
<path d="M154.41 1421.16V1434.41M150.41 1421.16H158.41M150.41 1434.41H158.41" stroke="#a573bd" stroke-width="1.4" fill="none"/>
<path d="M162.76 1420.31V1435.39M158.76 1420.31H166.76M158.76 1435.39H166.76" stroke="#a573bd" stroke-width="1.4" fill="none"/>
<path d="M171.11 1413.7V1431.05M167.11 1413.7H175.11M167.11 1431.05H175.11" stroke="#a573bd" stroke-width="1.4" fill="none"/>
<path d="M179.46 1413.33V1424.61M175.46 1413.33H183.46M175.46 1424.61H183.46" stroke="#a573bd" stroke-width="1.4" fill="none"/>
<path d="M187.82 1421V1429.01M183.82 1421H191.82M183.82 1429.01H191.82" stroke="#a573bd" stroke-width="1.4" fill="none"/>
<path d="M196.17 1413.81V1423.88M192.17 1413.81H200.17M192.17 1423.88H200.17" stroke="#a573bd" stroke-width="1.4" fill="none"/>
<path d="M204.52 1411.24V1424.83M200.52 1411.24H208.52M200.52 1424.83H208.52" stroke="#a573bd" stroke-width="1.4" fill="none"/>
<path d="M212.87 1409.96V1426.56M208.87 1409.96H216.87M208.87 1426.56H216.87" stroke="#a573bd" stroke-width="1.4" fill="none"/>
<path d="M221.22 1416.52V1434.04M217.22 1416.52H225.22M217.22 1434.04H225.22" stroke="#a573bd" stroke-width="1.4" fill="none"/>
<path d="M229.58 1419.69V1434.03M225.58 1419.69H233.58M225.58 1434.03H233.58" stroke="#a573bd" stroke-width="1.4" fill="none"/>
<path d="M237.93 1419.44V1433.75M233.93 1419.44H241.93M233.93 1433.75H241.93" stroke="#a573bd" stroke-width="1.4" fill="none"/>
<path d="M246.28 1418.1V1435.46M242.28 1418.1H250.28M242.28 1435.46H250.28" stroke="#a573bd" stroke-width="1.4" fill="none"/>
<path d="M254.63 1419.29V1433.72M250.63 1419.29H258.63M250.63 1433.72H258.63" stroke="#a573bd" stroke-width="1.4" fill="none"/>
<path d="M262.98 1415.93V1426.47M258.98 1415.93H266.98M258.98 1426.47H266.98" stroke="#a573bd" stroke-width="1.4" fill="none"/>
<path d="M271.34 1409.72V1425.57M267.34 1409.72H275.34M267.34 1425.57H275.34" stroke="#a573bd" stroke-width="1.4" fill="none"/>
<path d="M279.69 1411.17V1425.21M275.69 1411.17H283.69M275.69 1425.21H283.69" stroke="#a573bd" stroke-width="1.4" fill="none"/>
<path d="M288.04 1413.31V1431.52M284.04 1413.31H292.04M284.04 1431.52H292.04" stroke="#a573bd" stroke-width="1.4" fill="none"/>
<path d="M296.39 1415.82V1424.4M292.39 1415.82H300.39M292.39 1424.4H300.39" stroke="#a573bd" stroke-width="1.4" fill="none"/>
<path d="M304.74 1410.76V1425.52M300.74 1410.76H308.74M300.74 1425.52H308.74" stroke="#a573bd" stroke-width="1.4" fill="none"/>
<path d="M313.1 1421.63V1431.74M309.1 1421.63H317.1M309.1 1431.74H317.1" stroke="#a573bd" stroke-width="1.4" fill="none"/>
<path d="M321.45 1413.17V1425.77M317.45 1413.17H325.45M317.45 1425.77H325.45" stroke="#a573bd" stroke-width="1.4" fill="none"/>
<path d="M329.8 1409.13V1423.36M325.8 1409.13H333.8M325.8 1423.36H333.8" stroke="#a573bd" stroke-width="1.4" fill="none"/>
<path d="M338.15 1408.95V1426.29M334.15 1408.95H342.15M334.15 1426.29H342.15" stroke="#a573bd" stroke-width="1.4" fill="none"/>
<path d="M346.5 1414.28V1421.38M342.5 1414.28H350.5M342.5 1421.38H350.5" stroke="#a573bd" stroke-width="1.4" fill="none"/>
<path d="M354.86 1416.58V1425.35M350.86 1416.58H358.86M350.86 1425.35H358.86" stroke="#a573bd" stroke-width="1.4" fill="none"/>
<path d="M363.21 1417.6V1431.28M359.21 1417.6H367.21M359.21 1431.28H367.21" stroke="#a573bd" stroke-width="1.4" fill="none"/>
<path d="M371.56 1412.73V1420.87M367.56 1412.73H375.56M367.56 1420.87H375.56" stroke="#a573bd" stroke-width="1.4" fill="none"/>
<path d="M379.91 1418.55V1425.84M375.91 1418.55H383.91M375.91 1425.84H383.91" stroke="#a573bd" stroke-width="1.4" fill="none"/>
<path d="M388.26 1407.84V1424.75M384.26 1407.84H392.26M384.26 1424.75H392.26" stroke="#a573bd" stroke-width="1.4" fill="none"/>
<path d="M396.62 1408.28V1419.77M392.62 1408.28H400.62M392.62 1419.77H400.62" stroke="#a573bd" stroke-width="1.4" fill="none"/>
<path d="M404.97 1415.64V1426.1M400.97 1415.64H408.97M400.97 1426.1H408.97" stroke="#a573bd" stroke-width="1.4" fill="none"/>
<path d="M413.32 1414V1427.25M409.32 1414H417.32M409.32 1427.25H417.32" stroke="#a573bd" stroke-width="1.4" fill="none"/>
<path d="M421.67 1409.94V1417.61M417.67 1409.94H425.67M417.67 1417.61H425.67" stroke="#a573bd" stroke-width="1.4" fill="none"/>
<path d="M430.02 1412.06V1420.56M426.02 1412.06H434.02M426.02 1420.56H434.02" stroke="#a573bd" stroke-width="1.4" fill="none"/>
<path d="M438.38 1418.81V1426.98M434.38 1418.81H442.38M434.38 1426.98H442.38" stroke="#a573bd" stroke-width="1.4" fill="none"/>
<path d="M446.73 1414.58V1431.89M442.73 1414.58H450.73M442.73 1431.89H450.73" stroke="#a573bd" stroke-width="1.4" fill="none"/>
<path d="M455.08 1416.24V1429.28M451.08 1416.24H459.08M451.08 1429.28H459.08" stroke="#a573bd" stroke-width="1.4" fill="none"/>
<path d="M463.43 1405.71V1421.04M459.43 1405.71H467.43M459.43 1421.04H467.43" stroke="#a573bd" stroke-width="1.4" fill="none"/>
<path d="M471.78 1411.32V1417.47M467.78 1411.32H475.78M467.78 1417.47H475.78" stroke="#a573bd" stroke-width="1.4" fill="none"/>
<path d="M480.14 1417.37V1427.17M476.14 1417.37H484.14M476.14 1427.17H484.14" stroke="#a573bd" stroke-width="1.4" fill="none"/>
<path d="M488.49 1408.56V1419.01M484.49 1408.56H492.49M484.49 1419.01H492.49" stroke="#a573bd" stroke-width="1.4" fill="none"/>
<path d="M496.84 1407.7V1415.74M492.84 1407.7H500.84M492.84 1415.74H500.84" stroke="#a573bd" stroke-width="1.4" fill="none"/>
<path d="M505.19 1410.16V1420.81M501.19 1410.16H509.19M501.19 1420.81H509.19" stroke="#a573bd" stroke-width="1.4" fill="none"/>
<path d="M513.54 1414.26V1423.83M509.54 1414.26H517.54M509.54 1423.83H517.54" stroke="#a573bd" stroke-width="1.4" fill="none"/>
<path d="M521.9 1407.78V1425.1M517.9 1407.78H525.9M517.9 1425.1H525.9" stroke="#a573bd" stroke-width="1.4" fill="none"/>
<path d="M530.25 1415.22V1427.49M526.25 1415.22H534.25M526.25 1427.49H534.25" stroke="#a573bd" stroke-width="1.4" fill="none"/>
<path d="M538.6 1415.44V1429.76M534.6 1415.44H542.6M534.6 1429.76H542.6" stroke="#a573bd" stroke-width="1.4" fill="none"/>
<path d="M546.95 1404.39V1417.08M542.95 1404.39H550.95M542.95 1417.08H550.95" stroke="#a573bd" stroke-width="1.4" fill="none"/>
<path d="M555.3 1407.03V1421.93M551.3 1407.03H559.3M551.3 1421.93H559.3" stroke="#a573bd" stroke-width="1.4" fill="none"/>
<path d="M563.66 1411.86V1419.73M559.66 1411.86H567.66M559.66 1419.73H567.66" stroke="#a573bd" stroke-width="1.4" fill="none"/>
<path d="M572.01 1407.03V1414.26M568.01 1407.03H576.01M568.01 1414.26H576.01" stroke="#a573bd" stroke-width="1.4" fill="none"/>
<path d="M580.36 1410.09V1423.04M576.36 1410.09H584.36M576.36 1423.04H584.36" stroke="#a573bd" stroke-width="1.4" fill="none"/>
<path d="M588.71 1406.99V1415.08M584.71 1406.99H592.71M584.71 1415.08H592.71" stroke="#a573bd" stroke-width="1.4" fill="none"/>
<path d="M597.06 1404.85V1417.96M593.06 1404.85H601.06M593.06 1417.96H601.06" stroke="#a573bd" stroke-width="1.4" fill="none"/>
<path d="M605.42 1411.75V1425.72M601.42 1411.75H609.42M601.42 1425.72H609.42" stroke="#a573bd" stroke-width="1.4" fill="none"/>
<polygon points="117.2,1429.61 124.8,1429.61 121,1421.01" fill="#fff" stroke="#a573bd" stroke-width="3.6" stroke-linejoin="round"/>
<polygon points="125.55,1431.41 133.15,1431.41 129.35,1422.81" fill="#fff" stroke="#a573bd" stroke-width="3.6" stroke-linejoin="round"/>
<polygon points="133.9,1435.21 141.5,1435.21 137.7,1426.61" fill="#fff" stroke="#a573bd" stroke-width="3.6" stroke-linejoin="round"/>
<polygon points="142.26,1435.04 149.86,1435.04 146.06,1426.44" fill="#fff" stroke="#a573bd" stroke-width="3.6" stroke-linejoin="round"/>
<polygon points="150.61,1431.79 158.21,1431.79 154.41,1423.19" fill="#fff" stroke="#a573bd" stroke-width="3.6" stroke-linejoin="round"/>
<polygon points="158.96,1431.85 166.56,1431.85 162.76,1423.25" fill="#fff" stroke="#a573bd" stroke-width="3.6" stroke-linejoin="round"/>
<polygon points="167.31,1426.38 174.91,1426.38 171.11,1417.78" fill="#fff" stroke="#a573bd" stroke-width="3.6" stroke-linejoin="round"/>
<polygon points="175.66,1422.97 183.26,1422.97 179.46,1414.37" fill="#fff" stroke="#a573bd" stroke-width="3.6" stroke-linejoin="round"/>
<polygon points="184.02,1429.01 191.62,1429.01 187.82,1420.41" fill="#fff" stroke="#a573bd" stroke-width="3.6" stroke-linejoin="round"/>
<polygon points="192.37,1422.84 199.97,1422.84 196.17,1414.24" fill="#fff" stroke="#a573bd" stroke-width="3.6" stroke-linejoin="round"/>
<polygon points="200.72,1422.04 208.32,1422.04 204.52,1413.44" fill="#fff" stroke="#a573bd" stroke-width="3.6" stroke-linejoin="round"/>
<polygon points="209.07,1422.26 216.67,1422.26 212.87,1413.66" fill="#fff" stroke="#a573bd" stroke-width="3.6" stroke-linejoin="round"/>
<polygon points="217.42,1429.28 225.02,1429.28 221.22,1420.68" fill="#fff" stroke="#a573bd" stroke-width="3.6" stroke-linejoin="round"/>
<polygon points="225.78,1430.86 233.38,1430.86 229.58,1422.26" fill="#fff" stroke="#a573bd" stroke-width="3.6" stroke-linejoin="round"/>
<polygon points="234.13,1430.6 241.73,1430.6 237.93,1422" fill="#fff" stroke="#a573bd" stroke-width="3.6" stroke-linejoin="round"/>
<polygon points="242.48,1430.78 250.08,1430.78 246.28,1422.18" fill="#fff" stroke="#a573bd" stroke-width="3.6" stroke-linejoin="round"/>
<polygon points="250.83,1430.51 258.43,1430.51 254.63,1421.91" fill="#fff" stroke="#a573bd" stroke-width="3.6" stroke-linejoin="round"/>
<polygon points="259.18,1425.2 266.78,1425.2 262.98,1416.6" fill="#fff" stroke="#a573bd" stroke-width="3.6" stroke-linejoin="round"/>
<polygon points="267.54,1421.64 275.14,1421.64 271.34,1413.04" fill="#fff" stroke="#a573bd" stroke-width="3.6" stroke-linejoin="round"/>
<polygon points="275.89,1422.19 283.49,1422.19 279.69,1413.59" fill="#fff" stroke="#a573bd" stroke-width="3.6" stroke-linejoin="round"/>
<polygon points="284.24,1426.41 291.84,1426.41 288.04,1417.81" fill="#fff" stroke="#a573bd" stroke-width="3.6" stroke-linejoin="round"/>
<polygon points="292.59,1424.11 300.19,1424.11 296.39,1415.51" fill="#fff" stroke="#a573bd" stroke-width="3.6" stroke-linejoin="round"/>
<polygon points="300.94,1422.14 308.54,1422.14 304.74,1413.54" fill="#fff" stroke="#a573bd" stroke-width="3.6" stroke-linejoin="round"/>
<polygon points="309.3,1430.68 316.9,1430.68 313.1,1422.08" fill="#fff" stroke="#a573bd" stroke-width="3.6" stroke-linejoin="round"/>
<polygon points="317.65,1423.47 325.25,1423.47 321.45,1414.87" fill="#fff" stroke="#a573bd" stroke-width="3.6" stroke-linejoin="round"/>
<polygon points="326,1420.25 333.6,1420.25 329.8,1411.65" fill="#fff" stroke="#a573bd" stroke-width="3.6" stroke-linejoin="round"/>
<polygon points="334.35,1421.62 341.95,1421.62 338.15,1413.02" fill="#fff" stroke="#a573bd" stroke-width="3.6" stroke-linejoin="round"/>
<polygon points="342.7,1421.83 350.3,1421.83 346.5,1413.23" fill="#fff" stroke="#a573bd" stroke-width="3.6" stroke-linejoin="round"/>
<polygon points="351.06,1424.97 358.66,1424.97 354.86,1416.37" fill="#fff" stroke="#a573bd" stroke-width="3.6" stroke-linejoin="round"/>
<polygon points="359.41,1428.44 367.01,1428.44 363.21,1419.84" fill="#fff" stroke="#a573bd" stroke-width="3.6" stroke-linejoin="round"/>
<polygon points="367.76,1420.8 375.36,1420.8 371.56,1412.2" fill="#fff" stroke="#a573bd" stroke-width="3.6" stroke-linejoin="round"/>
<polygon points="376.11,1426.19 383.71,1426.19 379.91,1417.59" fill="#fff" stroke="#a573bd" stroke-width="3.6" stroke-linejoin="round"/>
<polygon points="384.46,1420.29 392.06,1420.29 388.26,1411.69" fill="#fff" stroke="#a573bd" stroke-width="3.6" stroke-linejoin="round"/>
<polygon points="392.82,1418.03 400.42,1418.03 396.62,1409.43" fill="#fff" stroke="#a573bd" stroke-width="3.6" stroke-linejoin="round"/>
<polygon points="401.17,1424.87 408.77,1424.87 404.97,1416.27" fill="#fff" stroke="#a573bd" stroke-width="3.6" stroke-linejoin="round"/>
<polygon points="409.52,1424.62 417.12,1424.62 413.32,1416.02" fill="#fff" stroke="#a573bd" stroke-width="3.6" stroke-linejoin="round"/>
<polygon points="417.87,1417.78 425.47,1417.78 421.67,1409.18" fill="#fff" stroke="#a573bd" stroke-width="3.6" stroke-linejoin="round"/>
<polygon points="426.22,1420.31 433.82,1420.31 430.02,1411.71" fill="#fff" stroke="#a573bd" stroke-width="3.6" stroke-linejoin="round"/>
<polygon points="434.58,1426.9 442.18,1426.9 438.38,1418.3" fill="#fff" stroke="#a573bd" stroke-width="3.6" stroke-linejoin="round"/>
<polygon points="442.93,1427.24 450.53,1427.24 446.73,1418.64" fill="#fff" stroke="#a573bd" stroke-width="3.6" stroke-linejoin="round"/>
<polygon points="451.28,1426.76 458.88,1426.76 455.08,1418.16" fill="#fff" stroke="#a573bd" stroke-width="3.6" stroke-linejoin="round"/>
<polygon points="459.63,1417.38 467.23,1417.38 463.43,1408.78" fill="#fff" stroke="#a573bd" stroke-width="3.6" stroke-linejoin="round"/>
<polygon points="467.98,1418.39 475.58,1418.39 471.78,1409.79" fill="#fff" stroke="#a573bd" stroke-width="3.6" stroke-linejoin="round"/>
<polygon points="476.34,1426.27 483.94,1426.27 480.14,1417.67" fill="#fff" stroke="#a573bd" stroke-width="3.6" stroke-linejoin="round"/>
<polygon points="484.69,1417.78 492.29,1417.78 488.49,1409.18" fill="#fff" stroke="#a573bd" stroke-width="3.6" stroke-linejoin="round"/>
<polygon points="493.04,1415.72 500.64,1415.72 496.84,1407.12" fill="#fff" stroke="#a573bd" stroke-width="3.6" stroke-linejoin="round"/>
<polygon points="501.39,1419.48 508.99,1419.48 505.19,1410.88" fill="#fff" stroke="#a573bd" stroke-width="3.6" stroke-linejoin="round"/>
<polygon points="509.74,1423.05 517.34,1423.05 513.54,1414.45" fill="#fff" stroke="#a573bd" stroke-width="3.6" stroke-linejoin="round"/>
<polygon points="518.1,1420.44 525.7,1420.44 521.9,1411.84" fill="#fff" stroke="#a573bd" stroke-width="3.6" stroke-linejoin="round"/>
<polygon points="526.45,1425.36 534.05,1425.36 530.25,1416.76" fill="#fff" stroke="#a573bd" stroke-width="3.6" stroke-linejoin="round"/>
<polygon points="534.8,1426.6 542.4,1426.6 538.6,1418" fill="#fff" stroke="#a573bd" stroke-width="3.6" stroke-linejoin="round"/>
<polygon points="543.15,1414.74 550.75,1414.74 546.95,1406.14" fill="#fff" stroke="#a573bd" stroke-width="3.6" stroke-linejoin="round"/>
<polygon points="551.5,1418.48 559.1,1418.48 555.3,1409.88" fill="#fff" stroke="#a573bd" stroke-width="3.6" stroke-linejoin="round"/>
<polygon points="559.86,1419.8 567.46,1419.8 563.66,1411.2" fill="#fff" stroke="#a573bd" stroke-width="3.6" stroke-linejoin="round"/>
<polygon points="568.21,1414.64 575.81,1414.64 572.01,1406.04" fill="#fff" stroke="#a573bd" stroke-width="3.6" stroke-linejoin="round"/>
<polygon points="576.56,1420.56 584.16,1420.56 580.36,1411.96" fill="#fff" stroke="#a573bd" stroke-width="3.6" stroke-linejoin="round"/>
<polygon points="584.91,1415.03 592.51,1415.03 588.71,1406.43" fill="#fff" stroke="#a573bd" stroke-width="3.6" stroke-linejoin="round"/>
<polygon points="593.26,1415.41 600.86,1415.41 597.06,1406.81" fill="#fff" stroke="#a573bd" stroke-width="3.6" stroke-linejoin="round"/>
<polygon points="601.62,1422.73 609.22,1422.73 605.42,1414.13" fill="#fff" stroke="#a573bd" stroke-width="3.6" stroke-linejoin="round"/>
<polyline fill="none" stroke="#8a4ea6" stroke-width="1.5" points="121,1416.68 129.35,1417.34 137.7,1422.01 146.06,1421.66 154.41,1424.99 162.76,1418.24 171.11,1424.94 179.46,1424.61 187.82,1422.61 196.17,1422.9 204.52,1420.45 212.87,1423.69 221.22,1424.05 229.58,1421.93 237.93,1422.27 246.28,1418.79 254.63,1422.65 262.98,1412.01 271.34,1414.91 279.69,1420.32 288.04,1418.78 296.39,1417.34 304.74,1416.86 313.1,1419.53 321.45,1410.4 329.8,1408.36 338.15,1414.52 346.5,1414.03 354.86,1418.61 363.21,1418.14 371.56,1414.93 379.91,1415.6 388.26,1408.44 396.62,1416.32 404.97,1417.73 413.32,1406.13 421.67,1411.01 430.02,1415.4 438.38,1410.28 446.73,1416.31 455.08,1409.92 463.43,1404.14 471.78,1405.28 480.14,1407.04 488.49,1412.08 496.84,1410.51 505.19,1412.68 513.54,1405.02 521.9,1407.67 530.25,1404.38 538.6,1409.59 546.95,1410.62 555.3,1403.16 563.66,1400.77 572.01,1402.11 580.36,1402.4 588.71,1401.98 597.06,1402.66 605.42,1408.65"/>
<path d="M121 1411.5V1421.85M117 1411.5H125M117 1421.85H125" stroke="#8a4ea6" stroke-width="1.4" fill="none"/>
<path d="M129.35 1412V1422.67M125.35 1412H133.35M125.35 1422.67H133.35" stroke="#8a4ea6" stroke-width="1.4" fill="none"/>
<path d="M137.7 1416.18V1427.85M133.7 1416.18H141.7M133.7 1427.85H141.7" stroke="#8a4ea6" stroke-width="1.4" fill="none"/>
<path d="M146.06 1414.84V1428.48M142.06 1414.84H150.06M142.06 1428.48H150.06" stroke="#8a4ea6" stroke-width="1.4" fill="none"/>
<path d="M154.41 1419.11V1430.87M150.41 1419.11H158.41M150.41 1430.87H158.41" stroke="#8a4ea6" stroke-width="1.4" fill="none"/>
<path d="M162.76 1412.34V1424.13M158.76 1412.34H166.76M158.76 1424.13H166.76" stroke="#8a4ea6" stroke-width="1.4" fill="none"/>
<path d="M171.11 1421.85V1428.04M167.11 1421.85H175.11M167.11 1428.04H175.11" stroke="#8a4ea6" stroke-width="1.4" fill="none"/>
<path d="M179.46 1418.05V1431.16M175.46 1418.05H183.46M175.46 1431.16H183.46" stroke="#8a4ea6" stroke-width="1.4" fill="none"/>
<path d="M187.82 1414.65V1430.56M183.82 1414.65H191.82M183.82 1430.56H191.82" stroke="#8a4ea6" stroke-width="1.4" fill="none"/>
<path d="M196.17 1416.59V1429.21M192.17 1416.59H200.17M192.17 1429.21H200.17" stroke="#8a4ea6" stroke-width="1.4" fill="none"/>
<path d="M204.52 1412.79V1428.12M200.52 1412.79H208.52M200.52 1428.12H208.52" stroke="#8a4ea6" stroke-width="1.4" fill="none"/>
<path d="M212.87 1416.65V1430.73M208.87 1416.65H216.87M208.87 1430.73H216.87" stroke="#8a4ea6" stroke-width="1.4" fill="none"/>
<path d="M221.22 1420.82V1427.29M217.22 1420.82H225.22M217.22 1427.29H225.22" stroke="#8a4ea6" stroke-width="1.4" fill="none"/>
<path d="M229.58 1414.46V1429.41M225.58 1414.46H233.58M225.58 1429.41H233.58" stroke="#8a4ea6" stroke-width="1.4" fill="none"/>
<path d="M237.93 1418.13V1426.4M233.93 1418.13H241.93M233.93 1426.4H241.93" stroke="#8a4ea6" stroke-width="1.4" fill="none"/>
<path d="M246.28 1414.24V1423.34M242.28 1414.24H250.28M242.28 1423.34H250.28" stroke="#8a4ea6" stroke-width="1.4" fill="none"/>
<path d="M254.63 1419.34V1425.95M250.63 1419.34H258.63M250.63 1425.95H258.63" stroke="#8a4ea6" stroke-width="1.4" fill="none"/>
<path d="M262.98 1406.93V1417.09M258.98 1406.93H266.98M258.98 1417.09H266.98" stroke="#8a4ea6" stroke-width="1.4" fill="none"/>
<path d="M271.34 1408.07V1421.75M267.34 1408.07H275.34M267.34 1421.75H275.34" stroke="#8a4ea6" stroke-width="1.4" fill="none"/>
<path d="M279.69 1412.97V1427.67M275.69 1412.97H283.69M275.69 1427.67H283.69" stroke="#8a4ea6" stroke-width="1.4" fill="none"/>
<path d="M288.04 1410.79V1426.77M284.04 1410.79H292.04M284.04 1426.77H292.04" stroke="#8a4ea6" stroke-width="1.4" fill="none"/>
<path d="M296.39 1411.22V1423.46M292.39 1411.22H300.39M292.39 1423.46H300.39" stroke="#8a4ea6" stroke-width="1.4" fill="none"/>
<path d="M304.74 1412.28V1421.45M300.74 1412.28H308.74M300.74 1421.45H308.74" stroke="#8a4ea6" stroke-width="1.4" fill="none"/>
<path d="M313.1 1415.41V1423.66M309.1 1415.41H317.1M309.1 1423.66H317.1" stroke="#8a4ea6" stroke-width="1.4" fill="none"/>
<path d="M321.45 1401.25V1419.55M317.45 1401.25H325.45M317.45 1419.55H325.45" stroke="#8a4ea6" stroke-width="1.4" fill="none"/>
<path d="M329.8 1400.72V1416M325.8 1400.72H333.8M325.8 1416H333.8" stroke="#8a4ea6" stroke-width="1.4" fill="none"/>
<path d="M338.15 1407.43V1421.61M334.15 1407.43H342.15M334.15 1421.61H342.15" stroke="#8a4ea6" stroke-width="1.4" fill="none"/>
<path d="M346.5 1408.87V1419.19M342.5 1408.87H350.5M342.5 1419.19H350.5" stroke="#8a4ea6" stroke-width="1.4" fill="none"/>
<path d="M354.86 1413.88V1423.34M350.86 1413.88H358.86M350.86 1423.34H358.86" stroke="#8a4ea6" stroke-width="1.4" fill="none"/>
<path d="M363.21 1411.93V1424.35M359.21 1411.93H367.21M359.21 1424.35H367.21" stroke="#8a4ea6" stroke-width="1.4" fill="none"/>
<path d="M371.56 1409.25V1420.61M367.56 1409.25H375.56M367.56 1420.61H375.56" stroke="#8a4ea6" stroke-width="1.4" fill="none"/>
<path d="M379.91 1411.72V1419.49M375.91 1411.72H383.91M375.91 1419.49H383.91" stroke="#8a4ea6" stroke-width="1.4" fill="none"/>
<path d="M388.26 1400.34V1416.54M384.26 1400.34H392.26M384.26 1416.54H392.26" stroke="#8a4ea6" stroke-width="1.4" fill="none"/>
<path d="M396.62 1408.64V1424M392.62 1408.64H400.62M392.62 1424H400.62" stroke="#8a4ea6" stroke-width="1.4" fill="none"/>
<path d="M404.97 1409.47V1425.99M400.97 1409.47H408.97M400.97 1425.99H408.97" stroke="#8a4ea6" stroke-width="1.4" fill="none"/>
<path d="M413.32 1398.24V1414.01M409.32 1398.24H417.32M409.32 1414.01H417.32" stroke="#8a4ea6" stroke-width="1.4" fill="none"/>
<path d="M421.67 1403.55V1418.47M417.67 1403.55H425.67M417.67 1418.47H425.67" stroke="#8a4ea6" stroke-width="1.4" fill="none"/>
<path d="M430.02 1408.37V1422.43M426.02 1408.37H434.02M426.02 1422.43H434.02" stroke="#8a4ea6" stroke-width="1.4" fill="none"/>
<path d="M438.38 1403.75V1416.82M434.38 1403.75H442.38M434.38 1416.82H442.38" stroke="#8a4ea6" stroke-width="1.4" fill="none"/>
<path d="M446.73 1412.18V1420.44M442.73 1412.18H450.73M442.73 1420.44H450.73" stroke="#8a4ea6" stroke-width="1.4" fill="none"/>
<path d="M455.08 1401.38V1418.46M451.08 1401.38H459.08M451.08 1418.46H459.08" stroke="#8a4ea6" stroke-width="1.4" fill="none"/>
<path d="M463.43 1396.02V1412.27M459.43 1396.02H467.43M459.43 1412.27H467.43" stroke="#8a4ea6" stroke-width="1.4" fill="none"/>
<path d="M471.78 1399.25V1411.3M467.78 1399.25H475.78M467.78 1411.3H475.78" stroke="#8a4ea6" stroke-width="1.4" fill="none"/>
<path d="M480.14 1403.79V1410.3M476.14 1403.79H484.14M476.14 1410.3H484.14" stroke="#8a4ea6" stroke-width="1.4" fill="none"/>
<path d="M488.49 1404.61V1419.54M484.49 1404.61H492.49M484.49 1419.54H492.49" stroke="#8a4ea6" stroke-width="1.4" fill="none"/>
<path d="M496.84 1407.31V1413.72M492.84 1407.31H500.84M492.84 1413.72H500.84" stroke="#8a4ea6" stroke-width="1.4" fill="none"/>
<path d="M505.19 1409.07V1416.28M501.19 1409.07H509.19M501.19 1416.28H509.19" stroke="#8a4ea6" stroke-width="1.4" fill="none"/>
<path d="M513.54 1396.24V1413.8M509.54 1396.24H517.54M509.54 1413.8H517.54" stroke="#8a4ea6" stroke-width="1.4" fill="none"/>
<path d="M521.9 1403.78V1411.55M517.9 1403.78H525.9M517.9 1411.55H525.9" stroke="#8a4ea6" stroke-width="1.4" fill="none"/>
<path d="M530.25 1400.58V1408.19M526.25 1400.58H534.25M526.25 1408.19H534.25" stroke="#8a4ea6" stroke-width="1.4" fill="none"/>
<path d="M538.6 1401.13V1418.06M534.6 1401.13H542.6M534.6 1418.06H542.6" stroke="#8a4ea6" stroke-width="1.4" fill="none"/>
<path d="M546.95 1403.01V1418.23M542.95 1403.01H550.95M542.95 1418.23H550.95" stroke="#8a4ea6" stroke-width="1.4" fill="none"/>
<path d="M555.3 1396.66V1409.67M551.3 1396.66H559.3M551.3 1409.67H559.3" stroke="#8a4ea6" stroke-width="1.4" fill="none"/>
<path d="M563.66 1393.76V1407.78M559.66 1393.76H567.66M559.66 1407.78H567.66" stroke="#8a4ea6" stroke-width="1.4" fill="none"/>
<path d="M572.01 1396.97V1407.25M568.01 1396.97H576.01M568.01 1407.25H576.01" stroke="#8a4ea6" stroke-width="1.4" fill="none"/>
<path d="M580.36 1399.05V1405.76M576.36 1399.05H584.36M576.36 1405.76H584.36" stroke="#8a4ea6" stroke-width="1.4" fill="none"/>
<path d="M588.71 1398.76V1405.2M584.71 1398.76H592.71M584.71 1405.2H592.71" stroke="#8a4ea6" stroke-width="1.4" fill="none"/>
<path d="M597.06 1396.25V1409.07M593.06 1396.25H601.06M593.06 1409.07H601.06" stroke="#8a4ea6" stroke-width="1.4" fill="none"/>
<path d="M605.42 1400.84V1416.47M601.42 1400.84H609.42M601.42 1416.47H609.42" stroke="#8a4ea6" stroke-width="1.4" fill="none"/>
<polygon points="117.2,1420.68 124.8,1420.68 121,1412.08" fill="#fff" stroke="#8a4ea6" stroke-width="3.6" stroke-linejoin="round"/>
<polygon points="125.55,1421.34 133.15,1421.34 129.35,1412.74" fill="#fff" stroke="#8a4ea6" stroke-width="3.6" stroke-linejoin="round"/>
<polygon points="133.9,1426.01 141.5,1426.01 137.7,1417.41" fill="#fff" stroke="#8a4ea6" stroke-width="3.6" stroke-linejoin="round"/>
<polygon points="142.26,1425.66 149.86,1425.66 146.06,1417.06" fill="#fff" stroke="#8a4ea6" stroke-width="3.6" stroke-linejoin="round"/>
<polygon points="150.61,1428.99 158.21,1428.99 154.41,1420.39" fill="#fff" stroke="#8a4ea6" stroke-width="3.6" stroke-linejoin="round"/>
<polygon points="158.96,1422.24 166.56,1422.24 162.76,1413.64" fill="#fff" stroke="#8a4ea6" stroke-width="3.6" stroke-linejoin="round"/>
<polygon points="167.31,1428.94 174.91,1428.94 171.11,1420.34" fill="#fff" stroke="#8a4ea6" stroke-width="3.6" stroke-linejoin="round"/>
<polygon points="175.66,1428.61 183.26,1428.61 179.46,1420.01" fill="#fff" stroke="#8a4ea6" stroke-width="3.6" stroke-linejoin="round"/>
<polygon points="184.02,1426.61 191.62,1426.61 187.82,1418.01" fill="#fff" stroke="#8a4ea6" stroke-width="3.6" stroke-linejoin="round"/>
<polygon points="192.37,1426.9 199.97,1426.9 196.17,1418.3" fill="#fff" stroke="#8a4ea6" stroke-width="3.6" stroke-linejoin="round"/>
<polygon points="200.72,1424.45 208.32,1424.45 204.52,1415.85" fill="#fff" stroke="#8a4ea6" stroke-width="3.6" stroke-linejoin="round"/>
<polygon points="209.07,1427.69 216.67,1427.69 212.87,1419.09" fill="#fff" stroke="#8a4ea6" stroke-width="3.6" stroke-linejoin="round"/>
<polygon points="217.42,1428.05 225.02,1428.05 221.22,1419.45" fill="#fff" stroke="#8a4ea6" stroke-width="3.6" stroke-linejoin="round"/>
<polygon points="225.78,1425.93 233.38,1425.93 229.58,1417.33" fill="#fff" stroke="#8a4ea6" stroke-width="3.6" stroke-linejoin="round"/>
<polygon points="234.13,1426.27 241.73,1426.27 237.93,1417.67" fill="#fff" stroke="#8a4ea6" stroke-width="3.6" stroke-linejoin="round"/>
<polygon points="242.48,1422.79 250.08,1422.79 246.28,1414.19" fill="#fff" stroke="#8a4ea6" stroke-width="3.6" stroke-linejoin="round"/>
<polygon points="250.83,1426.65 258.43,1426.65 254.63,1418.05" fill="#fff" stroke="#8a4ea6" stroke-width="3.6" stroke-linejoin="round"/>
<polygon points="259.18,1416.01 266.78,1416.01 262.98,1407.41" fill="#fff" stroke="#8a4ea6" stroke-width="3.6" stroke-linejoin="round"/>
<polygon points="267.54,1418.91 275.14,1418.91 271.34,1410.31" fill="#fff" stroke="#8a4ea6" stroke-width="3.6" stroke-linejoin="round"/>
<polygon points="275.89,1424.32 283.49,1424.32 279.69,1415.72" fill="#fff" stroke="#8a4ea6" stroke-width="3.6" stroke-linejoin="round"/>
<polygon points="284.24,1422.78 291.84,1422.78 288.04,1414.18" fill="#fff" stroke="#8a4ea6" stroke-width="3.6" stroke-linejoin="round"/>
<polygon points="292.59,1421.34 300.19,1421.34 296.39,1412.74" fill="#fff" stroke="#8a4ea6" stroke-width="3.6" stroke-linejoin="round"/>
<polygon points="300.94,1420.86 308.54,1420.86 304.74,1412.26" fill="#fff" stroke="#8a4ea6" stroke-width="3.6" stroke-linejoin="round"/>
<polygon points="309.3,1423.53 316.9,1423.53 313.1,1414.93" fill="#fff" stroke="#8a4ea6" stroke-width="3.6" stroke-linejoin="round"/>
<polygon points="317.65,1414.4 325.25,1414.4 321.45,1405.8" fill="#fff" stroke="#8a4ea6" stroke-width="3.6" stroke-linejoin="round"/>
<polygon points="326,1412.36 333.6,1412.36 329.8,1403.76" fill="#fff" stroke="#8a4ea6" stroke-width="3.6" stroke-linejoin="round"/>
<polygon points="334.35,1418.52 341.95,1418.52 338.15,1409.92" fill="#fff" stroke="#8a4ea6" stroke-width="3.6" stroke-linejoin="round"/>
<polygon points="342.7,1418.03 350.3,1418.03 346.5,1409.43" fill="#fff" stroke="#8a4ea6" stroke-width="3.6" stroke-linejoin="round"/>
<polygon points="351.06,1422.61 358.66,1422.61 354.86,1414.01" fill="#fff" stroke="#8a4ea6" stroke-width="3.6" stroke-linejoin="round"/>
<polygon points="359.41,1422.14 367.01,1422.14 363.21,1413.54" fill="#fff" stroke="#8a4ea6" stroke-width="3.6" stroke-linejoin="round"/>
<polygon points="367.76,1418.93 375.36,1418.93 371.56,1410.33" fill="#fff" stroke="#8a4ea6" stroke-width="3.6" stroke-linejoin="round"/>
<polygon points="376.11,1419.6 383.71,1419.6 379.91,1411" fill="#fff" stroke="#8a4ea6" stroke-width="3.6" stroke-linejoin="round"/>
<polygon points="384.46,1412.44 392.06,1412.44 388.26,1403.84" fill="#fff" stroke="#8a4ea6" stroke-width="3.6" stroke-linejoin="round"/>
<polygon points="392.82,1420.32 400.42,1420.32 396.62,1411.72" fill="#fff" stroke="#8a4ea6" stroke-width="3.6" stroke-linejoin="round"/>
<polygon points="401.17,1421.73 408.77,1421.73 404.97,1413.13" fill="#fff" stroke="#8a4ea6" stroke-width="3.6" stroke-linejoin="round"/>
<polygon points="409.52,1410.13 417.12,1410.13 413.32,1401.53" fill="#fff" stroke="#8a4ea6" stroke-width="3.6" stroke-linejoin="round"/>
<polygon points="417.87,1415.01 425.47,1415.01 421.67,1406.41" fill="#fff" stroke="#8a4ea6" stroke-width="3.6" stroke-linejoin="round"/>
<polygon points="426.22,1419.4 433.82,1419.4 430.02,1410.8" fill="#fff" stroke="#8a4ea6" stroke-width="3.6" stroke-linejoin="round"/>
<polygon points="434.58,1414.28 442.18,1414.28 438.38,1405.68" fill="#fff" stroke="#8a4ea6" stroke-width="3.6" stroke-linejoin="round"/>
<polygon points="442.93,1420.31 450.53,1420.31 446.73,1411.71" fill="#fff" stroke="#8a4ea6" stroke-width="3.6" stroke-linejoin="round"/>
<polygon points="451.28,1413.92 458.88,1413.92 455.08,1405.32" fill="#fff" stroke="#8a4ea6" stroke-width="3.6" stroke-linejoin="round"/>
<polygon points="459.63,1408.14 467.23,1408.14 463.43,1399.54" fill="#fff" stroke="#8a4ea6" stroke-width="3.6" stroke-linejoin="round"/>
<polygon points="467.98,1409.28 475.58,1409.28 471.78,1400.68" fill="#fff" stroke="#8a4ea6" stroke-width="3.6" stroke-linejoin="round"/>
<polygon points="476.34,1411.04 483.94,1411.04 480.14,1402.44" fill="#fff" stroke="#8a4ea6" stroke-width="3.6" stroke-linejoin="round"/>
<polygon points="484.69,1416.08 492.29,1416.08 488.49,1407.48" fill="#fff" stroke="#8a4ea6" stroke-width="3.6" stroke-linejoin="round"/>
<polygon points="493.04,1414.51 500.64,1414.51 496.84,1405.91" fill="#fff" stroke="#8a4ea6" stroke-width="3.6" stroke-linejoin="round"/>
<polygon points="501.39,1416.68 508.99,1416.68 505.19,1408.08" fill="#fff" stroke="#8a4ea6" stroke-width="3.6" stroke-linejoin="round"/>
<polygon points="509.74,1409.02 517.34,1409.02 513.54,1400.42" fill="#fff" stroke="#8a4ea6" stroke-width="3.6" stroke-linejoin="round"/>
<polygon points="518.1,1411.67 525.7,1411.67 521.9,1403.07" fill="#fff" stroke="#8a4ea6" stroke-width="3.6" stroke-linejoin="round"/>
<polygon points="526.45,1408.38 534.05,1408.38 530.25,1399.78" fill="#fff" stroke="#8a4ea6" stroke-width="3.6" stroke-linejoin="round"/>
<polygon points="534.8,1413.59 542.4,1413.59 538.6,1404.99" fill="#fff" stroke="#8a4ea6" stroke-width="3.6" stroke-linejoin="round"/>
<polygon points="543.15,1414.62 550.75,1414.62 546.95,1406.02" fill="#fff" stroke="#8a4ea6" stroke-width="3.6" stroke-linejoin="round"/>
<polygon points="551.5,1407.16 559.1,1407.16 555.3,1398.56" fill="#fff" stroke="#8a4ea6" stroke-width="3.6" stroke-linejoin="round"/>
<polygon points="559.86,1404.77 567.46,1404.77 563.66,1396.17" fill="#fff" stroke="#8a4ea6" stroke-width="3.6" stroke-linejoin="round"/>
<polygon points="568.21,1406.11 575.81,1406.11 572.01,1397.51" fill="#fff" stroke="#8a4ea6" stroke-width="3.6" stroke-linejoin="round"/>
<polygon points="576.56,1406.4 584.16,1406.4 580.36,1397.8" fill="#fff" stroke="#8a4ea6" stroke-width="3.6" stroke-linejoin="round"/>
<polygon points="584.91,1405.98 592.51,1405.98 588.71,1397.38" fill="#fff" stroke="#8a4ea6" stroke-width="3.6" stroke-linejoin="round"/>
<polygon points="593.26,1406.66 600.86,1406.66 597.06,1398.06" fill="#fff" stroke="#8a4ea6" stroke-width="3.6" stroke-linejoin="round"/>
<polygon points="601.62,1412.65 609.22,1412.65 605.42,1404.05" fill="#fff" stroke="#8a4ea6" stroke-width="3.6" stroke-linejoin="round"/>
<polyline fill="none" stroke="#5765b4" stroke-width="1.5" points="121,1414.25 129.35,1409.92 137.7,1416.14 146.06,1410.84 154.41,1411.43 162.76,1410.96 171.11,1411.83 179.46,1406.51 187.82,1404.59 196.17,1409.69 204.52,1406.73 212.87,1413.46 221.22,1404.99 229.58,1405.02 237.93,1400.15 246.28,1401.6 254.63,1407.52 262.98,1405.64 271.34,1401.55 279.69,1408.8 288.04,1402.79 296.39,1405.74 304.74,1405.72 313.1,1405.79 321.45,1396.49 329.8,1403.65 338.15,1401.56 346.5,1399.17 354.86,1392.66 363.21,1401.68 371.56,1396.54 379.91,1394.67 388.26,1389.95 396.62,1390.1 404.97,1388.91 413.32,1395.42 421.67,1393.1 430.02,1393.15 438.38,1386.1 446.73,1384.56 455.08,1393.77 463.43,1392.82 471.78,1391.5 480.14,1390.84 488.49,1387.13 496.84,1385.21 505.19,1388.56 513.54,1391.07 521.9,1385.37 530.25,1385.34 538.6,1382.29 546.95,1376.93 555.3,1379.49 563.66,1380.99 572.01,1379.1 580.36,1377.74 588.71,1384.7 597.06,1373.73 605.42,1374.55"/>
<path d="M121 1408.84V1419.67M117 1408.84H125M117 1419.67H125" stroke="#5765b4" stroke-width="1.4" fill="none"/>
<path d="M129.35 1402.9V1416.94M125.35 1402.9H133.35M125.35 1416.94H133.35" stroke="#5765b4" stroke-width="1.4" fill="none"/>
<path d="M137.7 1406V1426.28M133.7 1406H141.7M133.7 1426.28H141.7" stroke="#5765b4" stroke-width="1.4" fill="none"/>
<path d="M146.06 1401.26V1420.41M142.06 1401.26H150.06M142.06 1420.41H150.06" stroke="#5765b4" stroke-width="1.4" fill="none"/>
<path d="M154.41 1403.4V1419.45M150.41 1403.4H158.41M150.41 1419.45H158.41" stroke="#5765b4" stroke-width="1.4" fill="none"/>
<path d="M162.76 1400.88V1421.05M158.76 1400.88H166.76M158.76 1421.05H166.76" stroke="#5765b4" stroke-width="1.4" fill="none"/>
<path d="M171.11 1404.72V1418.95M167.11 1404.72H175.11M167.11 1418.95H175.11" stroke="#5765b4" stroke-width="1.4" fill="none"/>
<path d="M179.46 1399.84V1413.18M175.46 1399.84H183.46M175.46 1413.18H183.46" stroke="#5765b4" stroke-width="1.4" fill="none"/>
<path d="M187.82 1396.93V1412.24M183.82 1396.93H191.82M183.82 1412.24H191.82" stroke="#5765b4" stroke-width="1.4" fill="none"/>
<path d="M196.17 1401.43V1417.96M192.17 1401.43H200.17M192.17 1417.96H200.17" stroke="#5765b4" stroke-width="1.4" fill="none"/>
<path d="M204.52 1397.51V1415.96M200.52 1397.51H208.52M200.52 1415.96H208.52" stroke="#5765b4" stroke-width="1.4" fill="none"/>
<path d="M212.87 1406.06V1420.85M208.87 1406.06H216.87M208.87 1420.85H216.87" stroke="#5765b4" stroke-width="1.4" fill="none"/>
<path d="M221.22 1395.5V1414.49M217.22 1395.5H225.22M217.22 1414.49H225.22" stroke="#5765b4" stroke-width="1.4" fill="none"/>
<path d="M229.58 1395.6V1414.43M225.58 1395.6H233.58M225.58 1414.43H233.58" stroke="#5765b4" stroke-width="1.4" fill="none"/>
<path d="M237.93 1394.83V1405.47M233.93 1394.83H241.93M233.93 1405.47H241.93" stroke="#5765b4" stroke-width="1.4" fill="none"/>
<path d="M246.28 1393.47V1409.73M242.28 1393.47H250.28M242.28 1409.73H250.28" stroke="#5765b4" stroke-width="1.4" fill="none"/>
<path d="M254.63 1402.9V1412.14M250.63 1402.9H258.63M250.63 1412.14H258.63" stroke="#5765b4" stroke-width="1.4" fill="none"/>
<path d="M262.98 1401.09V1410.19M258.98 1401.09H266.98M258.98 1410.19H266.98" stroke="#5765b4" stroke-width="1.4" fill="none"/>
<path d="M271.34 1393.84V1409.26M267.34 1393.84H275.34M267.34 1409.26H275.34" stroke="#5765b4" stroke-width="1.4" fill="none"/>
<path d="M279.69 1402.46V1415.13M275.69 1402.46H283.69M275.69 1415.13H283.69" stroke="#5765b4" stroke-width="1.4" fill="none"/>
<path d="M288.04 1392.36V1413.23M284.04 1392.36H292.04M284.04 1413.23H292.04" stroke="#5765b4" stroke-width="1.4" fill="none"/>
<path d="M296.39 1398.11V1413.37M292.39 1398.11H300.39M292.39 1413.37H300.39" stroke="#5765b4" stroke-width="1.4" fill="none"/>
<path d="M304.74 1394.75V1416.68M300.74 1394.75H308.74M300.74 1416.68H308.74" stroke="#5765b4" stroke-width="1.4" fill="none"/>
<path d="M313.1 1400.63V1410.94M309.1 1400.63H317.1M309.1 1410.94H317.1" stroke="#5765b4" stroke-width="1.4" fill="none"/>
<path d="M321.45 1392.65V1400.33M317.45 1392.65H325.45M317.45 1400.33H325.45" stroke="#5765b4" stroke-width="1.4" fill="none"/>
<path d="M329.8 1398.75V1408.54M325.8 1398.75H333.8M325.8 1408.54H333.8" stroke="#5765b4" stroke-width="1.4" fill="none"/>
<path d="M338.15 1397.61V1405.51M334.15 1397.61H342.15M334.15 1405.51H342.15" stroke="#5765b4" stroke-width="1.4" fill="none"/>
<path d="M346.5 1390.1V1408.24M342.5 1390.1H350.5M342.5 1408.24H350.5" stroke="#5765b4" stroke-width="1.4" fill="none"/>
<path d="M354.86 1385.67V1399.66M350.86 1385.67H358.86M350.86 1399.66H358.86" stroke="#5765b4" stroke-width="1.4" fill="none"/>
<path d="M363.21 1391.88V1411.48M359.21 1391.88H367.21M359.21 1411.48H367.21" stroke="#5765b4" stroke-width="1.4" fill="none"/>
<path d="M371.56 1387.77V1405.3M367.56 1387.77H375.56M367.56 1405.3H375.56" stroke="#5765b4" stroke-width="1.4" fill="none"/>
<path d="M379.91 1384.07V1405.27M375.91 1384.07H383.91M375.91 1405.27H383.91" stroke="#5765b4" stroke-width="1.4" fill="none"/>
<path d="M388.26 1380.39V1399.52M384.26 1380.39H392.26M384.26 1399.52H392.26" stroke="#5765b4" stroke-width="1.4" fill="none"/>
<path d="M396.62 1380.87V1399.32M392.62 1380.87H400.62M392.62 1399.32H400.62" stroke="#5765b4" stroke-width="1.4" fill="none"/>
<path d="M404.97 1384.39V1393.42M400.97 1384.39H408.97M400.97 1393.42H408.97" stroke="#5765b4" stroke-width="1.4" fill="none"/>
<path d="M413.32 1390.79V1400.05M409.32 1390.79H417.32M409.32 1400.05H417.32" stroke="#5765b4" stroke-width="1.4" fill="none"/>
<path d="M421.67 1385.01V1401.2M417.67 1385.01H425.67M417.67 1401.2H425.67" stroke="#5765b4" stroke-width="1.4" fill="none"/>
<path d="M430.02 1382.46V1403.85M426.02 1382.46H434.02M426.02 1403.85H434.02" stroke="#5765b4" stroke-width="1.4" fill="none"/>
<path d="M438.38 1379.47V1392.73M434.38 1379.47H442.38M434.38 1392.73H442.38" stroke="#5765b4" stroke-width="1.4" fill="none"/>
<path d="M446.73 1377.56V1391.56M442.73 1377.56H450.73M442.73 1391.56H450.73" stroke="#5765b4" stroke-width="1.4" fill="none"/>
<path d="M455.08 1389.95V1397.58M451.08 1389.95H459.08M451.08 1397.58H459.08" stroke="#5765b4" stroke-width="1.4" fill="none"/>
<path d="M463.43 1388.88V1396.75M459.43 1388.88H467.43M459.43 1396.75H467.43" stroke="#5765b4" stroke-width="1.4" fill="none"/>
<path d="M471.78 1383.13V1399.86M467.78 1383.13H475.78M467.78 1399.86H475.78" stroke="#5765b4" stroke-width="1.4" fill="none"/>
<path d="M480.14 1381.16V1400.52M476.14 1381.16H484.14M476.14 1400.52H484.14" stroke="#5765b4" stroke-width="1.4" fill="none"/>
<path d="M488.49 1382.41V1391.84M484.49 1382.41H492.49M484.49 1391.84H492.49" stroke="#5765b4" stroke-width="1.4" fill="none"/>
<path d="M496.84 1380.54V1389.89M492.84 1380.54H500.84M492.84 1389.89H500.84" stroke="#5765b4" stroke-width="1.4" fill="none"/>
<path d="M505.19 1377.85V1399.27M501.19 1377.85H509.19M501.19 1399.27H509.19" stroke="#5765b4" stroke-width="1.4" fill="none"/>
<path d="M513.54 1386.88V1395.26M509.54 1386.88H517.54M509.54 1395.26H517.54" stroke="#5765b4" stroke-width="1.4" fill="none"/>
<path d="M521.9 1378.41V1392.33M517.9 1378.41H525.9M517.9 1392.33H525.9" stroke="#5765b4" stroke-width="1.4" fill="none"/>
<path d="M530.25 1375.22V1395.45M526.25 1375.22H534.25M526.25 1395.45H534.25" stroke="#5765b4" stroke-width="1.4" fill="none"/>
<path d="M538.6 1377.28V1387.3M534.6 1377.28H542.6M534.6 1387.3H542.6" stroke="#5765b4" stroke-width="1.4" fill="none"/>
<path d="M546.95 1367.76V1386.09M542.95 1367.76H550.95M542.95 1386.09H550.95" stroke="#5765b4" stroke-width="1.4" fill="none"/>
<path d="M555.3 1373.91V1385.07M551.3 1373.91H559.3M551.3 1385.07H559.3" stroke="#5765b4" stroke-width="1.4" fill="none"/>
<path d="M563.66 1370.29V1391.69M559.66 1370.29H567.66M559.66 1391.69H567.66" stroke="#5765b4" stroke-width="1.4" fill="none"/>
<path d="M572.01 1373.35V1384.85M568.01 1373.35H576.01M568.01 1384.85H576.01" stroke="#5765b4" stroke-width="1.4" fill="none"/>
<path d="M580.36 1372.78V1382.71M576.36 1372.78H584.36M576.36 1382.71H584.36" stroke="#5765b4" stroke-width="1.4" fill="none"/>
<path d="M588.71 1380.01V1389.39M584.71 1380.01H592.71M584.71 1389.39H592.71" stroke="#5765b4" stroke-width="1.4" fill="none"/>
<path d="M597.06 1363.12V1384.34M593.06 1363.12H601.06M593.06 1384.34H601.06" stroke="#5765b4" stroke-width="1.4" fill="none"/>
<path d="M605.42 1370.06V1379.05M601.42 1370.06H609.42M601.42 1379.05H609.42" stroke="#5765b4" stroke-width="1.4" fill="none"/>
<polygon points="117.2,1418.25 124.8,1418.25 121,1409.65" fill="#fff" stroke="#5765b4" stroke-width="3.6" stroke-linejoin="round"/>
<polygon points="125.55,1413.92 133.15,1413.92 129.35,1405.32" fill="#fff" stroke="#5765b4" stroke-width="3.6" stroke-linejoin="round"/>
<polygon points="133.9,1420.14 141.5,1420.14 137.7,1411.54" fill="#fff" stroke="#5765b4" stroke-width="3.6" stroke-linejoin="round"/>
<polygon points="142.26,1414.84 149.86,1414.84 146.06,1406.24" fill="#fff" stroke="#5765b4" stroke-width="3.6" stroke-linejoin="round"/>
<polygon points="150.61,1415.43 158.21,1415.43 154.41,1406.83" fill="#fff" stroke="#5765b4" stroke-width="3.6" stroke-linejoin="round"/>
<polygon points="158.96,1414.96 166.56,1414.96 162.76,1406.36" fill="#fff" stroke="#5765b4" stroke-width="3.6" stroke-linejoin="round"/>
<polygon points="167.31,1415.83 174.91,1415.83 171.11,1407.23" fill="#fff" stroke="#5765b4" stroke-width="3.6" stroke-linejoin="round"/>
<polygon points="175.66,1410.51 183.26,1410.51 179.46,1401.91" fill="#fff" stroke="#5765b4" stroke-width="3.6" stroke-linejoin="round"/>
<polygon points="184.02,1408.59 191.62,1408.59 187.82,1399.99" fill="#fff" stroke="#5765b4" stroke-width="3.6" stroke-linejoin="round"/>
<polygon points="192.37,1413.69 199.97,1413.69 196.17,1405.09" fill="#fff" stroke="#5765b4" stroke-width="3.6" stroke-linejoin="round"/>
<polygon points="200.72,1410.73 208.32,1410.73 204.52,1402.13" fill="#fff" stroke="#5765b4" stroke-width="3.6" stroke-linejoin="round"/>
<polygon points="209.07,1417.46 216.67,1417.46 212.87,1408.86" fill="#fff" stroke="#5765b4" stroke-width="3.6" stroke-linejoin="round"/>
<polygon points="217.42,1408.99 225.02,1408.99 221.22,1400.39" fill="#fff" stroke="#5765b4" stroke-width="3.6" stroke-linejoin="round"/>
<polygon points="225.78,1409.02 233.38,1409.02 229.58,1400.42" fill="#fff" stroke="#5765b4" stroke-width="3.6" stroke-linejoin="round"/>
<polygon points="234.13,1404.15 241.73,1404.15 237.93,1395.55" fill="#fff" stroke="#5765b4" stroke-width="3.6" stroke-linejoin="round"/>
<polygon points="242.48,1405.6 250.08,1405.6 246.28,1397" fill="#fff" stroke="#5765b4" stroke-width="3.6" stroke-linejoin="round"/>
<polygon points="250.83,1411.52 258.43,1411.52 254.63,1402.92" fill="#fff" stroke="#5765b4" stroke-width="3.6" stroke-linejoin="round"/>
<polygon points="259.18,1409.64 266.78,1409.64 262.98,1401.04" fill="#fff" stroke="#5765b4" stroke-width="3.6" stroke-linejoin="round"/>
<polygon points="267.54,1405.55 275.14,1405.55 271.34,1396.95" fill="#fff" stroke="#5765b4" stroke-width="3.6" stroke-linejoin="round"/>
<polygon points="275.89,1412.8 283.49,1412.8 279.69,1404.2" fill="#fff" stroke="#5765b4" stroke-width="3.6" stroke-linejoin="round"/>
<polygon points="284.24,1406.79 291.84,1406.79 288.04,1398.19" fill="#fff" stroke="#5765b4" stroke-width="3.6" stroke-linejoin="round"/>
<polygon points="292.59,1409.74 300.19,1409.74 296.39,1401.14" fill="#fff" stroke="#5765b4" stroke-width="3.6" stroke-linejoin="round"/>
<polygon points="300.94,1409.72 308.54,1409.72 304.74,1401.12" fill="#fff" stroke="#5765b4" stroke-width="3.6" stroke-linejoin="round"/>
<polygon points="309.3,1409.79 316.9,1409.79 313.1,1401.19" fill="#fff" stroke="#5765b4" stroke-width="3.6" stroke-linejoin="round"/>
<polygon points="317.65,1400.49 325.25,1400.49 321.45,1391.89" fill="#fff" stroke="#5765b4" stroke-width="3.6" stroke-linejoin="round"/>
<polygon points="326,1407.65 333.6,1407.65 329.8,1399.05" fill="#fff" stroke="#5765b4" stroke-width="3.6" stroke-linejoin="round"/>
<polygon points="334.35,1405.56 341.95,1405.56 338.15,1396.96" fill="#fff" stroke="#5765b4" stroke-width="3.6" stroke-linejoin="round"/>
<polygon points="342.7,1403.17 350.3,1403.17 346.5,1394.57" fill="#fff" stroke="#5765b4" stroke-width="3.6" stroke-linejoin="round"/>
<polygon points="351.06,1396.66 358.66,1396.66 354.86,1388.06" fill="#fff" stroke="#5765b4" stroke-width="3.6" stroke-linejoin="round"/>
<polygon points="359.41,1405.68 367.01,1405.68 363.21,1397.08" fill="#fff" stroke="#5765b4" stroke-width="3.6" stroke-linejoin="round"/>
<polygon points="367.76,1400.54 375.36,1400.54 371.56,1391.94" fill="#fff" stroke="#5765b4" stroke-width="3.6" stroke-linejoin="round"/>
<polygon points="376.11,1398.67 383.71,1398.67 379.91,1390.07" fill="#fff" stroke="#5765b4" stroke-width="3.6" stroke-linejoin="round"/>
<polygon points="384.46,1393.95 392.06,1393.95 388.26,1385.35" fill="#fff" stroke="#5765b4" stroke-width="3.6" stroke-linejoin="round"/>
<polygon points="392.82,1394.1 400.42,1394.1 396.62,1385.5" fill="#fff" stroke="#5765b4" stroke-width="3.6" stroke-linejoin="round"/>
<polygon points="401.17,1392.91 408.77,1392.91 404.97,1384.31" fill="#fff" stroke="#5765b4" stroke-width="3.6" stroke-linejoin="round"/>
<polygon points="409.52,1399.42 417.12,1399.42 413.32,1390.82" fill="#fff" stroke="#5765b4" stroke-width="3.6" stroke-linejoin="round"/>
<polygon points="417.87,1397.1 425.47,1397.1 421.67,1388.5" fill="#fff" stroke="#5765b4" stroke-width="3.6" stroke-linejoin="round"/>
<polygon points="426.22,1397.15 433.82,1397.15 430.02,1388.55" fill="#fff" stroke="#5765b4" stroke-width="3.6" stroke-linejoin="round"/>
<polygon points="434.58,1390.1 442.18,1390.1 438.38,1381.5" fill="#fff" stroke="#5765b4" stroke-width="3.6" stroke-linejoin="round"/>
<polygon points="442.93,1388.56 450.53,1388.56 446.73,1379.96" fill="#fff" stroke="#5765b4" stroke-width="3.6" stroke-linejoin="round"/>
<polygon points="451.28,1397.77 458.88,1397.77 455.08,1389.17" fill="#fff" stroke="#5765b4" stroke-width="3.6" stroke-linejoin="round"/>
<polygon points="459.63,1396.82 467.23,1396.82 463.43,1388.22" fill="#fff" stroke="#5765b4" stroke-width="3.6" stroke-linejoin="round"/>
<polygon points="467.98,1395.5 475.58,1395.5 471.78,1386.9" fill="#fff" stroke="#5765b4" stroke-width="3.6" stroke-linejoin="round"/>
<polygon points="476.34,1394.84 483.94,1394.84 480.14,1386.24" fill="#fff" stroke="#5765b4" stroke-width="3.6" stroke-linejoin="round"/>
<polygon points="484.69,1391.13 492.29,1391.13 488.49,1382.53" fill="#fff" stroke="#5765b4" stroke-width="3.6" stroke-linejoin="round"/>
<polygon points="493.04,1389.21 500.64,1389.21 496.84,1380.61" fill="#fff" stroke="#5765b4" stroke-width="3.6" stroke-linejoin="round"/>
<polygon points="501.39,1392.56 508.99,1392.56 505.19,1383.96" fill="#fff" stroke="#5765b4" stroke-width="3.6" stroke-linejoin="round"/>
<polygon points="509.74,1395.07 517.34,1395.07 513.54,1386.47" fill="#fff" stroke="#5765b4" stroke-width="3.6" stroke-linejoin="round"/>
<polygon points="518.1,1389.37 525.7,1389.37 521.9,1380.77" fill="#fff" stroke="#5765b4" stroke-width="3.6" stroke-linejoin="round"/>
<polygon points="526.45,1389.34 534.05,1389.34 530.25,1380.74" fill="#fff" stroke="#5765b4" stroke-width="3.6" stroke-linejoin="round"/>
<polygon points="534.8,1386.29 542.4,1386.29 538.6,1377.69" fill="#fff" stroke="#5765b4" stroke-width="3.6" stroke-linejoin="round"/>
<polygon points="543.15,1380.93 550.75,1380.93 546.95,1372.33" fill="#fff" stroke="#5765b4" stroke-width="3.6" stroke-linejoin="round"/>
<polygon points="551.5,1383.49 559.1,1383.49 555.3,1374.89" fill="#fff" stroke="#5765b4" stroke-width="3.6" stroke-linejoin="round"/>
<polygon points="559.86,1384.99 567.46,1384.99 563.66,1376.39" fill="#fff" stroke="#5765b4" stroke-width="3.6" stroke-linejoin="round"/>
<polygon points="568.21,1383.1 575.81,1383.1 572.01,1374.5" fill="#fff" stroke="#5765b4" stroke-width="3.6" stroke-linejoin="round"/>
<polygon points="576.56,1381.74 584.16,1381.74 580.36,1373.14" fill="#fff" stroke="#5765b4" stroke-width="3.6" stroke-linejoin="round"/>
<polygon points="584.91,1388.7 592.51,1388.7 588.71,1380.1" fill="#fff" stroke="#5765b4" stroke-width="3.6" stroke-linejoin="round"/>
<polygon points="593.26,1377.73 600.86,1377.73 597.06,1369.13" fill="#fff" stroke="#5765b4" stroke-width="3.6" stroke-linejoin="round"/>
<polygon points="601.62,1378.55 609.22,1378.55 605.42,1369.95" fill="#fff" stroke="#5765b4" stroke-width="3.6" stroke-linejoin="round"/>
<polyline fill="none" stroke="#3551a8" stroke-width="1.5" points="121,1418.2 129.35,1421.25 137.7,1415.14 146.06,1424.3 154.41,1404.22 162.76,1404.99 171.11,1407.85 179.46,1399.16 187.82,1404.5 196.17,1396.62 204.52,1400.34 212.87,1398.19 221.22,1391.27 229.58,1383.3 237.93,1392.2 246.28,1388.85 254.63,1380.85 262.98,1374.13 271.34,1377.95 279.69,1378.88 288.04,1368.2 296.39,1380.56 304.74,1366.34 313.1,1373.18 321.45,1373.57 329.8,1372.14 338.15,1367.4 346.5,1357.83 354.86,1365.69 363.21,1357.74 371.56,1355.04 379.91,1357.27 388.26,1352.77 396.62,1358.33 404.97,1356.55 413.32,1352.49 421.67,1343.42 430.02,1345.44 438.38,1345.34 446.73,1339.37 455.08,1339.56 463.43,1340.07 471.78,1330.69 480.14,1330.31 488.49,1335.42 496.84,1328.55 505.19,1327.47 513.54,1320.3 521.9,1320.69 530.25,1325.6 538.6,1313.2 546.95,1324.53 555.3,1318.12 563.66,1311.11 572.01,1318.52 580.36,1311.54 588.71,1316.58 597.06,1305.15 605.42,1301.85"/>
<path d="M121 1399.38V1437.01M117 1399.38H125M117 1437.01H125" stroke="#3551a8" stroke-width="1.4" fill="none"/>
<path d="M129.35 1402.22V1440.28M125.35 1402.22H133.35M125.35 1440.28H133.35" stroke="#3551a8" stroke-width="1.4" fill="none"/>
<path d="M137.7 1404.83V1425.46M133.7 1404.83H141.7M133.7 1425.46H141.7" stroke="#3551a8" stroke-width="1.4" fill="none"/>
<path d="M146.06 1411.4V1437.2M142.06 1411.4H150.06M142.06 1437.2H150.06" stroke="#3551a8" stroke-width="1.4" fill="none"/>
<path d="M154.41 1380.47V1427.97M150.41 1380.47H158.41M150.41 1427.97H158.41" stroke="#3551a8" stroke-width="1.4" fill="none"/>
<path d="M162.76 1385.44V1424.53M158.76 1385.44H166.76M158.76 1424.53H166.76" stroke="#3551a8" stroke-width="1.4" fill="none"/>
<path d="M171.11 1393.09V1422.61M167.11 1393.09H175.11M167.11 1422.61H175.11" stroke="#3551a8" stroke-width="1.4" fill="none"/>
<path d="M179.46 1385.45V1412.87M175.46 1385.45H183.46M175.46 1412.87H183.46" stroke="#3551a8" stroke-width="1.4" fill="none"/>
<path d="M187.82 1396.36V1412.64M183.82 1396.36H191.82M183.82 1412.64H191.82" stroke="#3551a8" stroke-width="1.4" fill="none"/>
<path d="M196.17 1383.04V1410.2M192.17 1383.04H200.17M192.17 1410.2H200.17" stroke="#3551a8" stroke-width="1.4" fill="none"/>
<path d="M204.52 1386.91V1413.78M200.52 1386.91H208.52M200.52 1413.78H208.52" stroke="#3551a8" stroke-width="1.4" fill="none"/>
<path d="M212.87 1374.43V1421.96M208.87 1374.43H216.87M208.87 1421.96H216.87" stroke="#3551a8" stroke-width="1.4" fill="none"/>
<path d="M221.22 1382.28V1400.26M217.22 1382.28H225.22M217.22 1400.26H225.22" stroke="#3551a8" stroke-width="1.4" fill="none"/>
<path d="M229.58 1370.11V1396.49M225.58 1370.11H233.58M225.58 1396.49H233.58" stroke="#3551a8" stroke-width="1.4" fill="none"/>
<path d="M237.93 1369.28V1415.12M233.93 1369.28H241.93M233.93 1415.12H241.93" stroke="#3551a8" stroke-width="1.4" fill="none"/>
<path d="M246.28 1379.89V1397.8M242.28 1379.89H250.28M242.28 1397.8H250.28" stroke="#3551a8" stroke-width="1.4" fill="none"/>
<path d="M254.63 1366.12V1395.58M250.63 1366.12H258.63M250.63 1395.58H258.63" stroke="#3551a8" stroke-width="1.4" fill="none"/>
<path d="M262.98 1356.31V1391.95M258.98 1356.31H266.98M258.98 1391.95H266.98" stroke="#3551a8" stroke-width="1.4" fill="none"/>
<path d="M271.34 1363.26V1392.65M267.34 1363.26H275.34M267.34 1392.65H275.34" stroke="#3551a8" stroke-width="1.4" fill="none"/>
<path d="M279.69 1362.65V1395.1M275.69 1362.65H283.69M275.69 1395.1H283.69" stroke="#3551a8" stroke-width="1.4" fill="none"/>
<path d="M288.04 1350.78V1385.62M284.04 1350.78H292.04M284.04 1385.62H292.04" stroke="#3551a8" stroke-width="1.4" fill="none"/>
<path d="M296.39 1368.89V1392.22M292.39 1368.89H300.39M292.39 1392.22H300.39" stroke="#3551a8" stroke-width="1.4" fill="none"/>
<path d="M304.74 1347.19V1385.48M300.74 1347.19H308.74M300.74 1385.48H308.74" stroke="#3551a8" stroke-width="1.4" fill="none"/>
<path d="M313.1 1350.9V1395.47M309.1 1350.9H317.1M309.1 1395.47H317.1" stroke="#3551a8" stroke-width="1.4" fill="none"/>
<path d="M321.45 1353.37V1393.77M317.45 1353.37H325.45M317.45 1393.77H325.45" stroke="#3551a8" stroke-width="1.4" fill="none"/>
<path d="M329.8 1363.55V1380.74M325.8 1363.55H333.8M325.8 1380.74H333.8" stroke="#3551a8" stroke-width="1.4" fill="none"/>
<path d="M338.15 1348.37V1386.44M334.15 1348.37H342.15M334.15 1386.44H342.15" stroke="#3551a8" stroke-width="1.4" fill="none"/>
<path d="M346.5 1338.83V1376.82M342.5 1338.83H350.5M342.5 1376.82H350.5" stroke="#3551a8" stroke-width="1.4" fill="none"/>
<path d="M354.86 1344.79V1386.59M350.86 1344.79H358.86M350.86 1386.59H358.86" stroke="#3551a8" stroke-width="1.4" fill="none"/>
<path d="M363.21 1344.21V1371.27M359.21 1344.21H367.21M359.21 1371.27H367.21" stroke="#3551a8" stroke-width="1.4" fill="none"/>
<path d="M371.56 1336.81V1373.26M367.56 1336.81H375.56M367.56 1373.26H375.56" stroke="#3551a8" stroke-width="1.4" fill="none"/>
<path d="M379.91 1349.23V1365.32M375.91 1349.23H383.91M375.91 1365.32H383.91" stroke="#3551a8" stroke-width="1.4" fill="none"/>
<path d="M388.26 1337.62V1367.91M384.26 1337.62H392.26M384.26 1367.91H392.26" stroke="#3551a8" stroke-width="1.4" fill="none"/>
<path d="M396.62 1342.58V1374.08M392.62 1342.58H400.62M392.62 1374.08H400.62" stroke="#3551a8" stroke-width="1.4" fill="none"/>
<path d="M404.97 1338.58V1374.52M400.97 1338.58H408.97M400.97 1374.52H408.97" stroke="#3551a8" stroke-width="1.4" fill="none"/>
<path d="M413.32 1343.16V1361.81M409.32 1343.16H417.32M409.32 1361.81H417.32" stroke="#3551a8" stroke-width="1.4" fill="none"/>
<path d="M421.67 1333.87V1352.96M417.67 1333.87H425.67M417.67 1352.96H425.67" stroke="#3551a8" stroke-width="1.4" fill="none"/>
<path d="M430.02 1326.84V1364.05M426.02 1326.84H434.02M426.02 1364.05H434.02" stroke="#3551a8" stroke-width="1.4" fill="none"/>
<path d="M438.38 1330.18V1360.51M434.38 1330.18H442.38M434.38 1360.51H442.38" stroke="#3551a8" stroke-width="1.4" fill="none"/>
<path d="M446.73 1329.79V1348.95M442.73 1329.79H450.73M442.73 1348.95H450.73" stroke="#3551a8" stroke-width="1.4" fill="none"/>
<path d="M455.08 1318.66V1360.45M451.08 1318.66H459.08M451.08 1360.45H459.08" stroke="#3551a8" stroke-width="1.4" fill="none"/>
<path d="M463.43 1325.82V1354.31M459.43 1325.82H467.43M459.43 1354.31H467.43" stroke="#3551a8" stroke-width="1.4" fill="none"/>
<path d="M471.78 1310.88V1350.5M467.78 1310.88H475.78M467.78 1350.5H475.78" stroke="#3551a8" stroke-width="1.4" fill="none"/>
<path d="M480.14 1307.37V1353.26M476.14 1307.37H484.14M476.14 1353.26H484.14" stroke="#3551a8" stroke-width="1.4" fill="none"/>
<path d="M488.49 1320.73V1350.11M484.49 1320.73H492.49M484.49 1350.11H492.49" stroke="#3551a8" stroke-width="1.4" fill="none"/>
<path d="M496.84 1307.25V1349.85M492.84 1307.25H500.84M492.84 1349.85H500.84" stroke="#3551a8" stroke-width="1.4" fill="none"/>
<path d="M505.19 1305.15V1349.79M501.19 1305.15H509.19M501.19 1349.79H509.19" stroke="#3551a8" stroke-width="1.4" fill="none"/>
<path d="M513.54 1299.51V1341.1M509.54 1299.51H517.54M509.54 1341.1H517.54" stroke="#3551a8" stroke-width="1.4" fill="none"/>
<path d="M521.9 1303.58V1337.81M517.9 1303.58H525.9M517.9 1337.81H525.9" stroke="#3551a8" stroke-width="1.4" fill="none"/>
<path d="M530.25 1306.06V1345.13M526.25 1306.06H534.25M526.25 1345.13H534.25" stroke="#3551a8" stroke-width="1.4" fill="none"/>
<path d="M538.6 1297.94V1328.47M534.6 1297.94H542.6M534.6 1328.47H542.6" stroke="#3551a8" stroke-width="1.4" fill="none"/>
<path d="M546.95 1314.79V1334.27M542.95 1314.79H550.95M542.95 1334.27H550.95" stroke="#3551a8" stroke-width="1.4" fill="none"/>
<path d="M555.3 1299V1337.24M551.3 1299H559.3M551.3 1337.24H559.3" stroke="#3551a8" stroke-width="1.4" fill="none"/>
<path d="M563.66 1291.72V1330.51M559.66 1291.72H567.66M559.66 1330.51H567.66" stroke="#3551a8" stroke-width="1.4" fill="none"/>
<path d="M572.01 1302.61V1334.42M568.01 1302.61H576.01M568.01 1334.42H576.01" stroke="#3551a8" stroke-width="1.4" fill="none"/>
<path d="M580.36 1290.44V1332.65M576.36 1290.44H584.36M576.36 1332.65H584.36" stroke="#3551a8" stroke-width="1.4" fill="none"/>
<path d="M588.71 1294.06V1339.09M584.71 1294.06H592.71M584.71 1339.09H592.71" stroke="#3551a8" stroke-width="1.4" fill="none"/>
<path d="M597.06 1289.15V1321.14M593.06 1289.15H601.06M593.06 1321.14H601.06" stroke="#3551a8" stroke-width="1.4" fill="none"/>
<path d="M605.42 1286.26V1317.43M601.42 1286.26H609.42M601.42 1317.43H609.42" stroke="#3551a8" stroke-width="1.4" fill="none"/>
<polygon points="117.2,1422.2 124.8,1422.2 121,1413.6" fill="#fff" stroke="#3551a8" stroke-width="3.6" stroke-linejoin="round"/>
<polygon points="125.55,1425.25 133.15,1425.25 129.35,1416.65" fill="#fff" stroke="#3551a8" stroke-width="3.6" stroke-linejoin="round"/>
<polygon points="133.9,1419.14 141.5,1419.14 137.7,1410.54" fill="#fff" stroke="#3551a8" stroke-width="3.6" stroke-linejoin="round"/>
<polygon points="142.26,1428.3 149.86,1428.3 146.06,1419.7" fill="#fff" stroke="#3551a8" stroke-width="3.6" stroke-linejoin="round"/>
<polygon points="150.61,1408.22 158.21,1408.22 154.41,1399.62" fill="#fff" stroke="#3551a8" stroke-width="3.6" stroke-linejoin="round"/>
<polygon points="158.96,1408.99 166.56,1408.99 162.76,1400.39" fill="#fff" stroke="#3551a8" stroke-width="3.6" stroke-linejoin="round"/>
<polygon points="167.31,1411.85 174.91,1411.85 171.11,1403.25" fill="#fff" stroke="#3551a8" stroke-width="3.6" stroke-linejoin="round"/>
<polygon points="175.66,1403.16 183.26,1403.16 179.46,1394.56" fill="#fff" stroke="#3551a8" stroke-width="3.6" stroke-linejoin="round"/>
<polygon points="184.02,1408.5 191.62,1408.5 187.82,1399.9" fill="#fff" stroke="#3551a8" stroke-width="3.6" stroke-linejoin="round"/>
<polygon points="192.37,1400.62 199.97,1400.62 196.17,1392.02" fill="#fff" stroke="#3551a8" stroke-width="3.6" stroke-linejoin="round"/>
<polygon points="200.72,1404.34 208.32,1404.34 204.52,1395.74" fill="#fff" stroke="#3551a8" stroke-width="3.6" stroke-linejoin="round"/>
<polygon points="209.07,1402.19 216.67,1402.19 212.87,1393.59" fill="#fff" stroke="#3551a8" stroke-width="3.6" stroke-linejoin="round"/>
<polygon points="217.42,1395.27 225.02,1395.27 221.22,1386.67" fill="#fff" stroke="#3551a8" stroke-width="3.6" stroke-linejoin="round"/>
<polygon points="225.78,1387.3 233.38,1387.3 229.58,1378.7" fill="#fff" stroke="#3551a8" stroke-width="3.6" stroke-linejoin="round"/>
<polygon points="234.13,1396.2 241.73,1396.2 237.93,1387.6" fill="#fff" stroke="#3551a8" stroke-width="3.6" stroke-linejoin="round"/>
<polygon points="242.48,1392.85 250.08,1392.85 246.28,1384.25" fill="#fff" stroke="#3551a8" stroke-width="3.6" stroke-linejoin="round"/>
<polygon points="250.83,1384.85 258.43,1384.85 254.63,1376.25" fill="#fff" stroke="#3551a8" stroke-width="3.6" stroke-linejoin="round"/>
<polygon points="259.18,1378.13 266.78,1378.13 262.98,1369.53" fill="#fff" stroke="#3551a8" stroke-width="3.6" stroke-linejoin="round"/>
<polygon points="267.54,1381.95 275.14,1381.95 271.34,1373.35" fill="#fff" stroke="#3551a8" stroke-width="3.6" stroke-linejoin="round"/>
<polygon points="275.89,1382.88 283.49,1382.88 279.69,1374.28" fill="#fff" stroke="#3551a8" stroke-width="3.6" stroke-linejoin="round"/>
<polygon points="284.24,1372.2 291.84,1372.2 288.04,1363.6" fill="#fff" stroke="#3551a8" stroke-width="3.6" stroke-linejoin="round"/>
<polygon points="292.59,1384.56 300.19,1384.56 296.39,1375.96" fill="#fff" stroke="#3551a8" stroke-width="3.6" stroke-linejoin="round"/>
<polygon points="300.94,1370.34 308.54,1370.34 304.74,1361.74" fill="#fff" stroke="#3551a8" stroke-width="3.6" stroke-linejoin="round"/>
<polygon points="309.3,1377.18 316.9,1377.18 313.1,1368.58" fill="#fff" stroke="#3551a8" stroke-width="3.6" stroke-linejoin="round"/>
<polygon points="317.65,1377.57 325.25,1377.57 321.45,1368.97" fill="#fff" stroke="#3551a8" stroke-width="3.6" stroke-linejoin="round"/>
<polygon points="326,1376.14 333.6,1376.14 329.8,1367.54" fill="#fff" stroke="#3551a8" stroke-width="3.6" stroke-linejoin="round"/>
<polygon points="334.35,1371.4 341.95,1371.4 338.15,1362.8" fill="#fff" stroke="#3551a8" stroke-width="3.6" stroke-linejoin="round"/>
<polygon points="342.7,1361.83 350.3,1361.83 346.5,1353.23" fill="#fff" stroke="#3551a8" stroke-width="3.6" stroke-linejoin="round"/>
<polygon points="351.06,1369.69 358.66,1369.69 354.86,1361.09" fill="#fff" stroke="#3551a8" stroke-width="3.6" stroke-linejoin="round"/>
<polygon points="359.41,1361.74 367.01,1361.74 363.21,1353.14" fill="#fff" stroke="#3551a8" stroke-width="3.6" stroke-linejoin="round"/>
<polygon points="367.76,1359.04 375.36,1359.04 371.56,1350.44" fill="#fff" stroke="#3551a8" stroke-width="3.6" stroke-linejoin="round"/>
<polygon points="376.11,1361.27 383.71,1361.27 379.91,1352.67" fill="#fff" stroke="#3551a8" stroke-width="3.6" stroke-linejoin="round"/>
<polygon points="384.46,1356.77 392.06,1356.77 388.26,1348.17" fill="#fff" stroke="#3551a8" stroke-width="3.6" stroke-linejoin="round"/>
<polygon points="392.82,1362.33 400.42,1362.33 396.62,1353.73" fill="#fff" stroke="#3551a8" stroke-width="3.6" stroke-linejoin="round"/>
<polygon points="401.17,1360.55 408.77,1360.55 404.97,1351.95" fill="#fff" stroke="#3551a8" stroke-width="3.6" stroke-linejoin="round"/>
<polygon points="409.52,1356.49 417.12,1356.49 413.32,1347.89" fill="#fff" stroke="#3551a8" stroke-width="3.6" stroke-linejoin="round"/>
<polygon points="417.87,1347.42 425.47,1347.42 421.67,1338.82" fill="#fff" stroke="#3551a8" stroke-width="3.6" stroke-linejoin="round"/>
<polygon points="426.22,1349.44 433.82,1349.44 430.02,1340.84" fill="#fff" stroke="#3551a8" stroke-width="3.6" stroke-linejoin="round"/>
<polygon points="434.58,1349.34 442.18,1349.34 438.38,1340.74" fill="#fff" stroke="#3551a8" stroke-width="3.6" stroke-linejoin="round"/>
<polygon points="442.93,1343.37 450.53,1343.37 446.73,1334.77" fill="#fff" stroke="#3551a8" stroke-width="3.6" stroke-linejoin="round"/>
<polygon points="451.28,1343.56 458.88,1343.56 455.08,1334.96" fill="#fff" stroke="#3551a8" stroke-width="3.6" stroke-linejoin="round"/>
<polygon points="459.63,1344.07 467.23,1344.07 463.43,1335.47" fill="#fff" stroke="#3551a8" stroke-width="3.6" stroke-linejoin="round"/>
<polygon points="467.98,1334.69 475.58,1334.69 471.78,1326.09" fill="#fff" stroke="#3551a8" stroke-width="3.6" stroke-linejoin="round"/>
<polygon points="476.34,1334.31 483.94,1334.31 480.14,1325.71" fill="#fff" stroke="#3551a8" stroke-width="3.6" stroke-linejoin="round"/>
<polygon points="484.69,1339.42 492.29,1339.42 488.49,1330.82" fill="#fff" stroke="#3551a8" stroke-width="3.6" stroke-linejoin="round"/>
<polygon points="493.04,1332.55 500.64,1332.55 496.84,1323.95" fill="#fff" stroke="#3551a8" stroke-width="3.6" stroke-linejoin="round"/>
<polygon points="501.39,1331.47 508.99,1331.47 505.19,1322.87" fill="#fff" stroke="#3551a8" stroke-width="3.6" stroke-linejoin="round"/>
<polygon points="509.74,1324.3 517.34,1324.3 513.54,1315.7" fill="#fff" stroke="#3551a8" stroke-width="3.6" stroke-linejoin="round"/>
<polygon points="518.1,1324.69 525.7,1324.69 521.9,1316.09" fill="#fff" stroke="#3551a8" stroke-width="3.6" stroke-linejoin="round"/>
<polygon points="526.45,1329.6 534.05,1329.6 530.25,1321" fill="#fff" stroke="#3551a8" stroke-width="3.6" stroke-linejoin="round"/>
<polygon points="534.8,1317.2 542.4,1317.2 538.6,1308.6" fill="#fff" stroke="#3551a8" stroke-width="3.6" stroke-linejoin="round"/>
<polygon points="543.15,1328.53 550.75,1328.53 546.95,1319.93" fill="#fff" stroke="#3551a8" stroke-width="3.6" stroke-linejoin="round"/>
<polygon points="551.5,1322.12 559.1,1322.12 555.3,1313.52" fill="#fff" stroke="#3551a8" stroke-width="3.6" stroke-linejoin="round"/>
<polygon points="559.86,1315.11 567.46,1315.11 563.66,1306.51" fill="#fff" stroke="#3551a8" stroke-width="3.6" stroke-linejoin="round"/>
<polygon points="568.21,1322.52 575.81,1322.52 572.01,1313.92" fill="#fff" stroke="#3551a8" stroke-width="3.6" stroke-linejoin="round"/>
<polygon points="576.56,1315.54 584.16,1315.54 580.36,1306.94" fill="#fff" stroke="#3551a8" stroke-width="3.6" stroke-linejoin="round"/>
<polygon points="584.91,1320.58 592.51,1320.58 588.71,1311.98" fill="#fff" stroke="#3551a8" stroke-width="3.6" stroke-linejoin="round"/>
<polygon points="593.26,1309.15 600.86,1309.15 597.06,1300.55" fill="#fff" stroke="#3551a8" stroke-width="3.6" stroke-linejoin="round"/>
<polygon points="601.62,1305.85 609.22,1305.85 605.42,1297.25" fill="#fff" stroke="#3551a8" stroke-width="3.6" stroke-linejoin="round"/>
<polyline fill="none" stroke="#2b3d98" stroke-width="1.5" points="121,1424.3 129.35,1421.25 137.7,1418.2 146.06,1427.35 154.41,1395.31 162.76,1396.83 171.11,1402.94 179.46,1399.88 187.82,1387.68 196.17,1381.57 204.52,1378.52 212.87,1372.42 221.22,1363.26 229.58,1354.1 237.93,1344.95 246.28,1348 254.63,1351.05 262.98,1323.58 271.34,1317.48 279.69,1308.32 288.04,1305.27 296.39,1308.32 304.74,1311.38 313.1,1293.06 321.45,1286.96 329.8,1296.12 338.15,1277.8 346.5,1274.75 354.86,1280.86 363.21,1259.49 371.56,1265.6 379.91,1256.44 388.26,1253.39 396.62,1244.23 404.97,1262.54 413.32,1235.08 421.67,1225.92 430.02,1235.08 438.38,1225.92 446.73,1225.92 455.08,1219.82 463.43,1210.66 471.78,1210.66 480.14,1198.45 488.49,1198.45 496.84,1192.35 505.19,1186.24 513.54,1177.09 521.9,1183.19 530.25,1183.19 538.6,1174.04 546.95,1164.88 555.3,1155.72 563.66,1155.72 572.01,1155.72 580.36,1167.93 588.71,1149.62 597.06,1134.36 605.42,1125.2"/>
<path d="M121 1414.98V1433.62M117 1414.98H125M117 1433.62H125" stroke="#2b3d98" stroke-width="1.4" fill="none"/>
<path d="M129.35 1411.08V1431.42M125.35 1411.08H133.35M125.35 1431.42H133.35" stroke="#2b3d98" stroke-width="1.4" fill="none"/>
<path d="M137.7 1410.4V1426M133.7 1410.4H141.7M133.7 1426H141.7" stroke="#2b3d98" stroke-width="1.4" fill="none"/>
<path d="M146.06 1421.05V1433.65M142.06 1421.05H150.06M142.06 1433.65H150.06" stroke="#2b3d98" stroke-width="1.4" fill="none"/>
<path d="M154.41 1390.96V1399.65M150.41 1390.96H158.41M150.41 1399.65H158.41" stroke="#2b3d98" stroke-width="1.4" fill="none"/>
<path d="M162.76 1392.51V1401.16M158.76 1392.51H166.76M158.76 1401.16H166.76" stroke="#2b3d98" stroke-width="1.4" fill="none"/>
<path d="M171.11 1390.43V1415.44M167.11 1390.43H175.11M167.11 1415.44H175.11" stroke="#2b3d98" stroke-width="1.4" fill="none"/>
<path d="M179.46 1395.43V1404.34M175.46 1395.43H183.46M175.46 1404.34H183.46" stroke="#2b3d98" stroke-width="1.4" fill="none"/>
<path d="M187.82 1381.18V1394.17M183.82 1381.18H191.82M183.82 1394.17H191.82" stroke="#2b3d98" stroke-width="1.4" fill="none"/>
<path d="M196.17 1372.93V1390.21M192.17 1372.93H200.17M192.17 1390.21H200.17" stroke="#2b3d98" stroke-width="1.4" fill="none"/>
<path d="M204.52 1372.39V1384.65M200.52 1372.39H208.52M200.52 1384.65H208.52" stroke="#2b3d98" stroke-width="1.4" fill="none"/>
<path d="M212.87 1361.86V1382.97M208.87 1361.86H216.87M208.87 1382.97H216.87" stroke="#2b3d98" stroke-width="1.4" fill="none"/>
<path d="M221.22 1352.58V1373.94M217.22 1352.58H225.22M217.22 1373.94H225.22" stroke="#2b3d98" stroke-width="1.4" fill="none"/>
<path d="M229.58 1346.57V1361.64M225.58 1346.57H233.58M225.58 1361.64H233.58" stroke="#2b3d98" stroke-width="1.4" fill="none"/>
<path d="M237.93 1333.05V1356.84M233.93 1333.05H241.93M233.93 1356.84H241.93" stroke="#2b3d98" stroke-width="1.4" fill="none"/>
<path d="M246.28 1341.51V1354.49M242.28 1341.51H250.28M242.28 1354.49H250.28" stroke="#2b3d98" stroke-width="1.4" fill="none"/>
<path d="M254.63 1344.79V1357.32M250.63 1344.79H258.63M250.63 1357.32H258.63" stroke="#2b3d98" stroke-width="1.4" fill="none"/>
<path d="M262.98 1313.57V1333.59M258.98 1313.57H266.98M258.98 1333.59H266.98" stroke="#2b3d98" stroke-width="1.4" fill="none"/>
<path d="M271.34 1305.35V1329.61M267.34 1305.35H275.34M267.34 1329.61H275.34" stroke="#2b3d98" stroke-width="1.4" fill="none"/>
<path d="M279.69 1300.8V1315.85M275.69 1300.8H283.69M275.69 1315.85H283.69" stroke="#2b3d98" stroke-width="1.4" fill="none"/>
<path d="M288.04 1299.11V1311.43M284.04 1299.11H292.04M284.04 1311.43H292.04" stroke="#2b3d98" stroke-width="1.4" fill="none"/>
<path d="M296.39 1301.46V1315.18M292.39 1301.46H300.39M292.39 1315.18H300.39" stroke="#2b3d98" stroke-width="1.4" fill="none"/>
<path d="M304.74 1300.85V1321.9M300.74 1300.85H308.74M300.74 1321.9H308.74" stroke="#2b3d98" stroke-width="1.4" fill="none"/>
<path d="M313.1 1288.53V1297.6M309.1 1288.53H317.1M309.1 1297.6H317.1" stroke="#2b3d98" stroke-width="1.4" fill="none"/>
<path d="M321.45 1282.16V1291.76M317.45 1282.16H325.45M317.45 1291.76H325.45" stroke="#2b3d98" stroke-width="1.4" fill="none"/>
<path d="M329.8 1287.77V1304.46M325.8 1287.77H333.8M325.8 1304.46H333.8" stroke="#2b3d98" stroke-width="1.4" fill="none"/>
<path d="M338.15 1265.59V1290.02M334.15 1265.59H342.15M334.15 1290.02H342.15" stroke="#2b3d98" stroke-width="1.4" fill="none"/>
<path d="M346.5 1266.58V1282.93M342.5 1266.58H350.5M342.5 1282.93H350.5" stroke="#2b3d98" stroke-width="1.4" fill="none"/>
<path d="M354.86 1272.09V1289.62M350.86 1272.09H358.86M350.86 1289.62H358.86" stroke="#2b3d98" stroke-width="1.4" fill="none"/>
<path d="M363.21 1249.82V1269.16M359.21 1249.82H367.21M359.21 1269.16H367.21" stroke="#2b3d98" stroke-width="1.4" fill="none"/>
<path d="M371.56 1253.57V1277.62M367.56 1253.57H375.56M367.56 1277.62H375.56" stroke="#2b3d98" stroke-width="1.4" fill="none"/>
<path d="M379.91 1251.04V1261.84M375.91 1251.04H383.91M375.91 1261.84H383.91" stroke="#2b3d98" stroke-width="1.4" fill="none"/>
<path d="M388.26 1243.86V1262.92M384.26 1243.86H392.26M384.26 1262.92H392.26" stroke="#2b3d98" stroke-width="1.4" fill="none"/>
<path d="M396.62 1231.43V1257.04M392.62 1231.43H400.62M392.62 1257.04H400.62" stroke="#2b3d98" stroke-width="1.4" fill="none"/>
<path d="M404.97 1251.41V1273.68M400.97 1251.41H408.97M400.97 1273.68H408.97" stroke="#2b3d98" stroke-width="1.4" fill="none"/>
<path d="M413.32 1223.95V1246.2M409.32 1223.95H417.32M409.32 1246.2H417.32" stroke="#2b3d98" stroke-width="1.4" fill="none"/>
<path d="M421.67 1215.94V1235.9M417.67 1215.94H425.67M417.67 1235.9H425.67" stroke="#2b3d98" stroke-width="1.4" fill="none"/>
<path d="M430.02 1229.83V1240.32M426.02 1229.83H434.02M426.02 1240.32H434.02" stroke="#2b3d98" stroke-width="1.4" fill="none"/>
<path d="M438.38 1214.73V1237.11M434.38 1214.73H442.38M434.38 1237.11H442.38" stroke="#2b3d98" stroke-width="1.4" fill="none"/>
<path d="M446.73 1217.7V1234.14M442.73 1217.7H450.73M442.73 1234.14H450.73" stroke="#2b3d98" stroke-width="1.4" fill="none"/>
<path d="M455.08 1212.03V1227.6M451.08 1212.03H459.08M451.08 1227.6H459.08" stroke="#2b3d98" stroke-width="1.4" fill="none"/>
<path d="M463.43 1199.84V1221.48M459.43 1199.84H467.43M459.43 1221.48H467.43" stroke="#2b3d98" stroke-width="1.4" fill="none"/>
<path d="M471.78 1198.21V1223.11M467.78 1198.21H475.78M467.78 1223.11H475.78" stroke="#2b3d98" stroke-width="1.4" fill="none"/>
<path d="M480.14 1187.93V1208.97M476.14 1187.93H484.14M476.14 1208.97H484.14" stroke="#2b3d98" stroke-width="1.4" fill="none"/>
<path d="M488.49 1185.79V1211.12M484.49 1185.79H492.49M484.49 1211.12H492.49" stroke="#2b3d98" stroke-width="1.4" fill="none"/>
<path d="M496.84 1182.86V1201.84M492.84 1182.86H500.84M492.84 1201.84H500.84" stroke="#2b3d98" stroke-width="1.4" fill="none"/>
<path d="M505.19 1178.48V1194M501.19 1178.48H509.19M501.19 1194H509.19" stroke="#2b3d98" stroke-width="1.4" fill="none"/>
<path d="M513.54 1165.9V1188.28M509.54 1165.9H517.54M509.54 1188.28H517.54" stroke="#2b3d98" stroke-width="1.4" fill="none"/>
<path d="M521.9 1171.66V1194.72M517.9 1171.66H525.9M517.9 1194.72H525.9" stroke="#2b3d98" stroke-width="1.4" fill="none"/>
<path d="M530.25 1176.31V1190.08M526.25 1176.31H534.25M526.25 1190.08H534.25" stroke="#2b3d98" stroke-width="1.4" fill="none"/>
<path d="M538.6 1164.2V1183.88M534.6 1164.2H542.6M534.6 1183.88H542.6" stroke="#2b3d98" stroke-width="1.4" fill="none"/>
<path d="M546.95 1152.29V1177.47M542.95 1152.29H550.95M542.95 1177.47H550.95" stroke="#2b3d98" stroke-width="1.4" fill="none"/>
<path d="M555.3 1146.39V1165.06M551.3 1146.39H559.3M551.3 1165.06H559.3" stroke="#2b3d98" stroke-width="1.4" fill="none"/>
<path d="M563.66 1144.89V1166.56M559.66 1144.89H567.66M559.66 1166.56H567.66" stroke="#2b3d98" stroke-width="1.4" fill="none"/>
<path d="M572.01 1145.74V1165.71M568.01 1145.74H576.01M568.01 1165.71H576.01" stroke="#2b3d98" stroke-width="1.4" fill="none"/>
<path d="M580.36 1158.79V1177.07M576.36 1158.79H584.36M576.36 1177.07H584.36" stroke="#2b3d98" stroke-width="1.4" fill="none"/>
<path d="M588.71 1139.53V1159.71M584.71 1139.53H592.71M584.71 1159.71H592.71" stroke="#2b3d98" stroke-width="1.4" fill="none"/>
<path d="M597.06 1124.68V1144.04M593.06 1124.68H601.06M593.06 1144.04H601.06" stroke="#2b3d98" stroke-width="1.4" fill="none"/>
<path d="M605.42 1113.82V1136.59M601.42 1113.82H609.42M601.42 1136.59H609.42" stroke="#2b3d98" stroke-width="1.4" fill="none"/>
<polygon points="117.2,1428.3 124.8,1428.3 121,1419.7" fill="#fff" stroke="#2b3d98" stroke-width="3.6" stroke-linejoin="round"/>
<polygon points="125.55,1425.25 133.15,1425.25 129.35,1416.65" fill="#fff" stroke="#2b3d98" stroke-width="3.6" stroke-linejoin="round"/>
<polygon points="133.9,1422.2 141.5,1422.2 137.7,1413.6" fill="#fff" stroke="#2b3d98" stroke-width="3.6" stroke-linejoin="round"/>
<polygon points="142.26,1431.35 149.86,1431.35 146.06,1422.75" fill="#fff" stroke="#2b3d98" stroke-width="3.6" stroke-linejoin="round"/>
<polygon points="150.61,1399.31 158.21,1399.31 154.41,1390.71" fill="#fff" stroke="#2b3d98" stroke-width="3.6" stroke-linejoin="round"/>
<polygon points="158.96,1400.83 166.56,1400.83 162.76,1392.23" fill="#fff" stroke="#2b3d98" stroke-width="3.6" stroke-linejoin="round"/>
<polygon points="167.31,1406.94 174.91,1406.94 171.11,1398.34" fill="#fff" stroke="#2b3d98" stroke-width="3.6" stroke-linejoin="round"/>
<polygon points="175.66,1403.88 183.26,1403.88 179.46,1395.28" fill="#fff" stroke="#2b3d98" stroke-width="3.6" stroke-linejoin="round"/>
<polygon points="184.02,1391.68 191.62,1391.68 187.82,1383.08" fill="#fff" stroke="#2b3d98" stroke-width="3.6" stroke-linejoin="round"/>
<polygon points="192.37,1385.57 199.97,1385.57 196.17,1376.97" fill="#fff" stroke="#2b3d98" stroke-width="3.6" stroke-linejoin="round"/>
<polygon points="200.72,1382.52 208.32,1382.52 204.52,1373.92" fill="#fff" stroke="#2b3d98" stroke-width="3.6" stroke-linejoin="round"/>
<polygon points="209.07,1376.42 216.67,1376.42 212.87,1367.82" fill="#fff" stroke="#2b3d98" stroke-width="3.6" stroke-linejoin="round"/>
<polygon points="217.42,1367.26 225.02,1367.26 221.22,1358.66" fill="#fff" stroke="#2b3d98" stroke-width="3.6" stroke-linejoin="round"/>
<polygon points="225.78,1358.1 233.38,1358.1 229.58,1349.5" fill="#fff" stroke="#2b3d98" stroke-width="3.6" stroke-linejoin="round"/>
<polygon points="234.13,1348.95 241.73,1348.95 237.93,1340.35" fill="#fff" stroke="#2b3d98" stroke-width="3.6" stroke-linejoin="round"/>
<polygon points="242.48,1352 250.08,1352 246.28,1343.4" fill="#fff" stroke="#2b3d98" stroke-width="3.6" stroke-linejoin="round"/>
<polygon points="250.83,1355.05 258.43,1355.05 254.63,1346.45" fill="#fff" stroke="#2b3d98" stroke-width="3.6" stroke-linejoin="round"/>
<polygon points="259.18,1327.58 266.78,1327.58 262.98,1318.98" fill="#fff" stroke="#2b3d98" stroke-width="3.6" stroke-linejoin="round"/>
<polygon points="267.54,1321.48 275.14,1321.48 271.34,1312.88" fill="#fff" stroke="#2b3d98" stroke-width="3.6" stroke-linejoin="round"/>
<polygon points="275.89,1312.32 283.49,1312.32 279.69,1303.72" fill="#fff" stroke="#2b3d98" stroke-width="3.6" stroke-linejoin="round"/>
<polygon points="284.24,1309.27 291.84,1309.27 288.04,1300.67" fill="#fff" stroke="#2b3d98" stroke-width="3.6" stroke-linejoin="round"/>
<polygon points="292.59,1312.32 300.19,1312.32 296.39,1303.72" fill="#fff" stroke="#2b3d98" stroke-width="3.6" stroke-linejoin="round"/>
<polygon points="300.94,1315.38 308.54,1315.38 304.74,1306.78" fill="#fff" stroke="#2b3d98" stroke-width="3.6" stroke-linejoin="round"/>
<polygon points="309.3,1297.06 316.9,1297.06 313.1,1288.46" fill="#fff" stroke="#2b3d98" stroke-width="3.6" stroke-linejoin="round"/>
<polygon points="317.65,1290.96 325.25,1290.96 321.45,1282.36" fill="#fff" stroke="#2b3d98" stroke-width="3.6" stroke-linejoin="round"/>
<polygon points="326,1300.12 333.6,1300.12 329.8,1291.52" fill="#fff" stroke="#2b3d98" stroke-width="3.6" stroke-linejoin="round"/>
<polygon points="334.35,1281.8 341.95,1281.8 338.15,1273.2" fill="#fff" stroke="#2b3d98" stroke-width="3.6" stroke-linejoin="round"/>
<polygon points="342.7,1278.75 350.3,1278.75 346.5,1270.15" fill="#fff" stroke="#2b3d98" stroke-width="3.6" stroke-linejoin="round"/>
<polygon points="351.06,1284.86 358.66,1284.86 354.86,1276.26" fill="#fff" stroke="#2b3d98" stroke-width="3.6" stroke-linejoin="round"/>
<polygon points="359.41,1263.49 367.01,1263.49 363.21,1254.89" fill="#fff" stroke="#2b3d98" stroke-width="3.6" stroke-linejoin="round"/>
<polygon points="367.76,1269.6 375.36,1269.6 371.56,1261" fill="#fff" stroke="#2b3d98" stroke-width="3.6" stroke-linejoin="round"/>
<polygon points="376.11,1260.44 383.71,1260.44 379.91,1251.84" fill="#fff" stroke="#2b3d98" stroke-width="3.6" stroke-linejoin="round"/>
<polygon points="384.46,1257.39 392.06,1257.39 388.26,1248.79" fill="#fff" stroke="#2b3d98" stroke-width="3.6" stroke-linejoin="round"/>
<polygon points="392.82,1248.23 400.42,1248.23 396.62,1239.63" fill="#fff" stroke="#2b3d98" stroke-width="3.6" stroke-linejoin="round"/>
<polygon points="401.17,1266.54 408.77,1266.54 404.97,1257.94" fill="#fff" stroke="#2b3d98" stroke-width="3.6" stroke-linejoin="round"/>
<polygon points="409.52,1239.08 417.12,1239.08 413.32,1230.48" fill="#fff" stroke="#2b3d98" stroke-width="3.6" stroke-linejoin="round"/>
<polygon points="417.87,1229.92 425.47,1229.92 421.67,1221.32" fill="#fff" stroke="#2b3d98" stroke-width="3.6" stroke-linejoin="round"/>
<polygon points="426.22,1239.08 433.82,1239.08 430.02,1230.48" fill="#fff" stroke="#2b3d98" stroke-width="3.6" stroke-linejoin="round"/>
<polygon points="434.58,1229.92 442.18,1229.92 438.38,1221.32" fill="#fff" stroke="#2b3d98" stroke-width="3.6" stroke-linejoin="round"/>
<polygon points="442.93,1229.92 450.53,1229.92 446.73,1221.32" fill="#fff" stroke="#2b3d98" stroke-width="3.6" stroke-linejoin="round"/>
<polygon points="451.28,1223.82 458.88,1223.82 455.08,1215.22" fill="#fff" stroke="#2b3d98" stroke-width="3.6" stroke-linejoin="round"/>
<polygon points="459.63,1214.66 467.23,1214.66 463.43,1206.06" fill="#fff" stroke="#2b3d98" stroke-width="3.6" stroke-linejoin="round"/>
<polygon points="467.98,1214.66 475.58,1214.66 471.78,1206.06" fill="#fff" stroke="#2b3d98" stroke-width="3.6" stroke-linejoin="round"/>
<polygon points="476.34,1202.45 483.94,1202.45 480.14,1193.85" fill="#fff" stroke="#2b3d98" stroke-width="3.6" stroke-linejoin="round"/>
<polygon points="484.69,1202.45 492.29,1202.45 488.49,1193.85" fill="#fff" stroke="#2b3d98" stroke-width="3.6" stroke-linejoin="round"/>
<polygon points="493.04,1196.35 500.64,1196.35 496.84,1187.75" fill="#fff" stroke="#2b3d98" stroke-width="3.6" stroke-linejoin="round"/>
<polygon points="501.39,1190.24 508.99,1190.24 505.19,1181.64" fill="#fff" stroke="#2b3d98" stroke-width="3.6" stroke-linejoin="round"/>
<polygon points="509.74,1181.09 517.34,1181.09 513.54,1172.49" fill="#fff" stroke="#2b3d98" stroke-width="3.6" stroke-linejoin="round"/>
<polygon points="518.1,1187.19 525.7,1187.19 521.9,1178.59" fill="#fff" stroke="#2b3d98" stroke-width="3.6" stroke-linejoin="round"/>
<polygon points="526.45,1187.19 534.05,1187.19 530.25,1178.59" fill="#fff" stroke="#2b3d98" stroke-width="3.6" stroke-linejoin="round"/>
<polygon points="534.8,1178.04 542.4,1178.04 538.6,1169.44" fill="#fff" stroke="#2b3d98" stroke-width="3.6" stroke-linejoin="round"/>
<polygon points="543.15,1168.88 550.75,1168.88 546.95,1160.28" fill="#fff" stroke="#2b3d98" stroke-width="3.6" stroke-linejoin="round"/>
<polygon points="551.5,1159.72 559.1,1159.72 555.3,1151.12" fill="#fff" stroke="#2b3d98" stroke-width="3.6" stroke-linejoin="round"/>
<polygon points="559.86,1159.72 567.46,1159.72 563.66,1151.12" fill="#fff" stroke="#2b3d98" stroke-width="3.6" stroke-linejoin="round"/>
<polygon points="568.21,1159.72 575.81,1159.72 572.01,1151.12" fill="#fff" stroke="#2b3d98" stroke-width="3.6" stroke-linejoin="round"/>
<polygon points="576.56,1171.93 584.16,1171.93 580.36,1163.33" fill="#fff" stroke="#2b3d98" stroke-width="3.6" stroke-linejoin="round"/>
<polygon points="584.91,1153.62 592.51,1153.62 588.71,1145.02" fill="#fff" stroke="#2b3d98" stroke-width="3.6" stroke-linejoin="round"/>
<polygon points="593.26,1138.36 600.86,1138.36 597.06,1129.76" fill="#fff" stroke="#2b3d98" stroke-width="3.6" stroke-linejoin="round"/>
<polygon points="601.62,1129.2 609.22,1129.2 605.42,1120.6" fill="#fff" stroke="#2b3d98" stroke-width="3.6" stroke-linejoin="round"/>
<text x="108" y="1127.6" font-size="24" text-anchor="end" fill="#231f20">1,000</text>
<text x="108" y="1280.2" font-size="24" text-anchor="end" fill="#231f20">500</text>
<text x="108" y="1432.8" font-size="24" text-anchor="end" fill="#231f20">0</text>
<text x="122" y="1469.7" font-size="24.3" text-anchor="middle" fill="#231f20">0</text>
<text x="263.2" y="1469.7" font-size="24.3" text-anchor="middle" fill="#231f20">1,000</text>
<text x="400.4" y="1469.7" font-size="24.3" text-anchor="middle" fill="#231f20">2,000</text>
<text x="539.6" y="1469.7" font-size="24.3" text-anchor="middle" fill="#231f20">3,000</text>
<text x="368" y="1502" font-size="29" text-anchor="middle" fill="#231f20">Time (s)</text>
<text x="34" y="1270" font-size="29.3" text-anchor="middle" fill="#231f20" transform="rotate(-90 34 1270)">Fluorescence (RFU)</text>
<text x="654" y="1095" font-size="25" fill="#231f20">Target (pM)</text>
<line x1="645.7" y1="1107.8" x2="782.7" y2="1107.8" stroke="#111" stroke-width="2.4"/>
<line x1="675" y1="1139" x2="691.7" y2="1139" stroke="#2b3d98" stroke-width="1.6"/>
<polygon points="680,1142.5 686.8,1142.5 683.4,1134.9" fill="#fff" stroke="#2b3d98" stroke-width="3" stroke-linejoin="round"/>
<text x="701.5" y="1150.8" font-size="26" fill="#231f20">10<tspan font-size="20" dy="-10.5">4</tspan></text>
<line x1="675" y1="1180.2" x2="691.7" y2="1180.2" stroke="#3551a8" stroke-width="1.6"/>
<polygon points="680,1183.7 686.8,1183.7 683.4,1176.1" fill="#fff" stroke="#3551a8" stroke-width="3" stroke-linejoin="round"/>
<text x="701.5" y="1192" font-size="26" fill="#231f20">10<tspan font-size="20" dy="-10.5">3.7</tspan></text>
<line x1="675" y1="1221.4" x2="691.7" y2="1221.4" stroke="#5765b4" stroke-width="1.6"/>
<polygon points="680,1224.9 686.8,1224.9 683.4,1217.3" fill="#fff" stroke="#5765b4" stroke-width="3" stroke-linejoin="round"/>
<text x="701.5" y="1233.2" font-size="26" fill="#231f20">10<tspan font-size="20" dy="-10.5">3.4</tspan></text>
<line x1="675" y1="1262.6" x2="691.7" y2="1262.6" stroke="#8a4ea6" stroke-width="1.6"/>
<polygon points="680,1266.1 686.8,1266.1 683.4,1258.5" fill="#fff" stroke="#8a4ea6" stroke-width="3" stroke-linejoin="round"/>
<text x="701.5" y="1274.4" font-size="26" fill="#231f20">10<tspan font-size="20" dy="-10.5">3.1</tspan></text>
<line x1="675" y1="1303.8" x2="691.7" y2="1303.8" stroke="#a573bd" stroke-width="1.6"/>
<polygon points="680,1307.3 686.8,1307.3 683.4,1299.7" fill="#fff" stroke="#a573bd" stroke-width="3" stroke-linejoin="round"/>
<text x="701.5" y="1315.6" font-size="26" fill="#231f20">10<tspan font-size="20" dy="-10.5">2.8</tspan></text>
<line x1="675" y1="1345" x2="691.7" y2="1345" stroke="#a23d98" stroke-width="1.6"/>
<polygon points="680,1348.5 686.8,1348.5 683.4,1340.9" fill="#fff" stroke="#a23d98" stroke-width="3" stroke-linejoin="round"/>
<text x="701.5" y="1356.8" font-size="26" fill="#231f20">10<tspan font-size="20" dy="-10.5">2.5</tspan></text>
<line x1="675" y1="1386.2" x2="691.7" y2="1386.2" stroke="#cf64a8" stroke-width="1.6"/>
<polygon points="680,1389.7 686.8,1389.7 683.4,1382.1" fill="#fff" stroke="#cf64a8" stroke-width="3" stroke-linejoin="round"/>
<text x="701.5" y="1398" font-size="26" fill="#231f20">10<tspan font-size="20" dy="-10.5">2.2</tspan></text>
<line x1="675" y1="1427.4" x2="691.7" y2="1427.4" stroke="#f2b8d4" stroke-width="1.6"/>
<polygon points="680,1430.9 686.8,1430.9 683.4,1423.3" fill="#fff" stroke="#f2b8d4" stroke-width="3" stroke-linejoin="round"/>
<text x="701.5" y="1439.2" font-size="26" fill="#231f20">0</text>
<defs>
<linearGradient id="g1" gradientUnits="userSpaceOnUse" x1="854" y1="0" x2="1128" y2="0"><stop offset="0" stop-color="#222222" stop-opacity="0"/><stop offset="2.19%" stop-color="#222222" stop-opacity="1"/><stop offset="97.81%" stop-color="#222222" stop-opacity="1"/><stop offset="1" stop-color="#222222" stop-opacity="0"/></linearGradient>
<linearGradient id="g2" gradientUnits="userSpaceOnUse" x1="1319" y1="0" x2="1591" y2="0"><stop offset="0" stop-color="#222222" stop-opacity="0"/><stop offset="2.21%" stop-color="#222222" stop-opacity="1"/><stop offset="97.79%" stop-color="#222222" stop-opacity="1"/><stop offset="1" stop-color="#222222" stop-opacity="0"/></linearGradient>
<linearGradient id="g3" gradientUnits="userSpaceOnUse" x1="1746" y1="0" x2="2021" y2="0"><stop offset="0" stop-color="#222222" stop-opacity="0"/><stop offset="2.18%" stop-color="#222222" stop-opacity="1"/><stop offset="97.82%" stop-color="#222222" stop-opacity="1"/><stop offset="1" stop-color="#222222" stop-opacity="0"/></linearGradient>
<filter id="blur1" x="-20%" y="-50%" width="140%" height="200%"><feGaussianBlur stdDeviation="2.2"/></filter>
<filter id="blur2" x="-20%" y="-80%" width="140%" height="260%"><feGaussianBlur stdDeviation="8"/></filter>
<filter id="blur3" x="-10%" y="-10%" width="120%" height="120%"><feGaussianBlur stdDeviation="11"/></filter>
<filter id="blurR" x="-20%" y="-20%" width="140%" height="140%"><feGaussianBlur stdDeviation="1.0"/></filter>
<clipPath id="gelclip"><rect x="917.8" y="1003.8" width="502.2" height="340"/></clipPath>
</defs>
<text x="845.7" y="24.8" font-size="32.5" font-weight="bold" fill="#111">d</text>
<text x="1271.5" y="79" font-size="24.9" fill="#231f20">Activated ca33Cas12a2 RNP</text>
<rect x="1100.6" y="138.1" width="241" height="129.3" rx="50" ry="45" fill="none" stroke="#222222" stroke-width="8.6"/>
<text x="1123.5" y="313" font-size="24.9" fill="#231f20">plasmid substrate</text>
<rect x="1305.5" y="184.5" width="3" height="1.5" fill="#888"/>
<rect x="1530.6" y="138.1" width="241" height="129.3" rx="50" ry="45" fill="none" stroke="#222222" stroke-width="8.6"/>
<rect x="1707.2" y="131" width="4.6" height="14" fill="#fff" transform="rotate(0 1709.5 138)"/>
<rect x="1587.2" y="262" width="4.6" height="14" fill="#fff" transform="rotate(0 1589.5 269)"/>
<rect x="1766.5" y="163" width="4.5" height="14" fill="#fff" transform="rotate(62 1768.75 170)"/>
<rect x="1646" y="131.5" width="4" height="6.5" fill="#fff" transform="rotate(0 1648 134.75)"/>
<rect x="1715" y="266" width="4" height="6.5" fill="#fff" transform="rotate(0 1717 269.25)"/>
<rect x="1546.5" y="143.5" width="4" height="6.5" fill="#fff" transform="rotate(-52 1548.5 146.75)"/>
<rect x="1530" y="205.6" width="5.5" height="4" fill="#fff"/>
<rect x="1762" y="234" width="6" height="4" fill="#fff" transform="rotate(35 1765 236)"/>
<text x="1556" y="305.7" font-size="24.9" fill="#231f20">nicking, cleavage</text>
<path d="M1390.8 202.2H1466" stroke="#222222" stroke-width="4"/>
<path d="M1482 202.2L1460 192.5L1465.5 202.2L1460 211.9Z" fill="#222222"/>
<g>
<path d="M1382 140 C1382 118 1402 104 1428 104 C1452 104 1474 110 1477 121 C1470 126 1462 128 1452 130 L1452 148 C1462 150 1472 152 1475 156 C1470 168 1450 175 1428 175 C1400 175 1382 160 1382 140Z" fill="#d9bd9c"/>
<path d="M1386.8 132.6 V119 C1383 116 1384 108.6 1391.7 108.6 C1399 108.6 1400 116 1397 119 V133 H1407" fill="none" stroke="#3a3a3a" stroke-width="1.6"/>
<path d="M1362 160.6 C1370 166 1385 164 1390 161 C1395 158 1398 154 1402 150" fill="none" stroke="#3a3a3a" stroke-width="1.6"/>
<path d="M1458 145 L1477.8 159.2 C1484 150 1490 141 1500 141 C1504 141 1507 141.5 1510 142.5" fill="none" stroke="#3a3a3a" stroke-width="1.6"/>
<line x1="1410.5" y1="133" x2="1455.5" y2="133" stroke="#1f78c8" stroke-width="7.2" stroke-linecap="round"/>
<line x1="1415" y1="145" x2="1455.5" y2="145" stroke="#1f78c8" stroke-width="7.2" stroke-linecap="round"/>
<circle cx="1408.1" cy="146.8" r="5.6" fill="#f6f0b4" stroke="#111" stroke-width="2.2"/>
</g>
<rect x="854.8" y="518.5" width="128.1" height="8" fill="url(#g1)"/>
<rect x="991.8" y="518.5" width="135.2" height="8" fill="url(#g1)"/>
<rect x="854.8" y="531.8" width="272.2" height="8" fill="url(#g1)"/>
<text x="922.8" y="598.5" font-size="24.9" fill="#231f20">nicked DNA</text>
<text x="1212" y="432.8" font-size="24.9" text-anchor="middle" fill="#231f20">Addition of</text>
<text x="1214.7" y="463.3" font-size="24.9" text-anchor="middle" fill="#231f20">DNA polymerase I,</text>
<text x="1092.4" y="493.5" font-size="24.9" fill="#231f20">dNTPs, <tspan fill="#009448">Atto425-dUTP</tspan></text>
<path d="M1175.2 529H1252.5" stroke="#222222" stroke-width="4"/>
<path d="M1266.5 529L1244.5 519.3L1250 529L1244.5 538.7Z" fill="#222222"/>
<circle cx="1391.8" cy="451.6" r="12.2" fill="#009448"/>
<circle cx="1462.3" cy="411" r="12.2" fill="#009448"/>
<circle cx="1517.9" cy="463.8" r="12.2" fill="#009448"/>
<text x="1384.4" y="387.7" font-size="24.9" fill="#009448">Atto425-dUTP</text>
<rect x="1319.7" y="519.7" width="124.6" height="8" fill="url(#g2)"/>
<rect x="1524.3" y="519.7" width="66.2" height="8" fill="url(#g2)"/>
<rect x="1319.7" y="533" width="270.8" height="8" fill="url(#g2)"/>
<path d="M1443.3 519.7 H1481.5 L1485.5 512.2 L1498.5 518.7 C1503.5 521.2 1503.5 527.7 1499.5 527.7 C1499.5 527.7 1499.5 527.7 1499.5 527.7 H1443.3 Z" fill="#009448"/>
<path d="M1457.5 491.6 C1490 497 1508 502 1527 525.5" fill="none" stroke="#222222" stroke-width="8"/>
<text x="1447" y="586.2" font-size="24.9" text-anchor="middle" fill="#231f20">3′ extension,</text>
<text x="1450.8" y="615.6" font-size="24.9" text-anchor="middle" fill="#231f20">Atto425 incorporation</text>
<text x="1668" y="433.3" font-size="24.9" text-anchor="middle" fill="#231f20">Removal of</text>
<text x="1668" y="463" font-size="24.9" text-anchor="middle" fill="#231f20">unincorporated</text>
<text x="1668" y="492.9" font-size="24.9" text-anchor="middle" fill="#009448">Atto425-dUTP</text>
<path d="M1623 531.3H1699" stroke="#222222" stroke-width="4"/>
<path d="M1713 531.3L1691 521.6L1696.5 531.3L1691 541Z" fill="#222222"/>
<rect x="1747" y="519.7" width="126.5" height="8" fill="url(#g3)"/>
<rect x="1952.3" y="519.7" width="67.7" height="8" fill="url(#g3)"/>
<rect x="1747" y="533" width="273" height="8" fill="url(#g3)"/>
<path d="M1872.5 519.7 H1909.7 L1913.7 512.2 L1926.7 518.7 C1931.7 521.2 1931.7 527.7 1927.7 527.7 C1927.7 527.7 1927.7 527.7 1927.7 527.7 H1872.5 Z" fill="#009448"/>
<path d="M1885.8 491.6 C1918.3 497 1936.3 502 1955 525.5" fill="none" stroke="#222222" stroke-width="8"/>
<text x="1868" y="586.2" font-size="24.9" text-anchor="middle" fill="#231f20">fluorescence</text>
<text x="1868" y="615.6" font-size="24.9" text-anchor="middle" fill="#231f20">measurement</text>
<text x="845" y="772.2" font-size="32.5" font-weight="bold" fill="#111">e</text>
<text x="954.3" y="948.5" font-size="24.4" fill="#231f20" transform="rotate(-36 954.3 948.5)">Plasmid only</text>
<text x="1025.3" y="949.5" font-size="24.4" fill="#231f20" transform="rotate(-36 1025.3 949.5)">Non-target RNA1</text>
<text x="1103.4" y="949.5" font-size="24.4" fill="#231f20" transform="rotate(-36 1103.4 949.5)">Non-target RNA2</text>
<text x="1172.6" y="949.5" font-size="24.4" fill="#231f20" transform="rotate(-36 1172.6 949.5)">No target RNA</text>
<text x="1312.8" y="946.5" font-size="24.4" fill="#231f20" transform="rotate(-36 1312.8 946.5)">Target RNA</text>
<line x1="1214.5" y1="955.5" x2="1410.8" y2="955.5" stroke="#111" stroke-width="2.2"/>
<text x="881.9" y="992" font-size="24.9" fill="#231f20">kb</text>
<text x="952.9" y="992" font-size="24.9" text-anchor="middle" fill="#231f20">30</text>
<text x="1024.6" y="990.3" font-size="24.9" text-anchor="middle" fill="#231f20">30</text>
<text x="1102" y="992" font-size="24.9" text-anchor="middle" fill="#231f20">30</text>
<text x="1173.7" y="992" font-size="24.9" text-anchor="middle" fill="#231f20">30</text>
<text x="1241.9" y="992" font-size="24.9" text-anchor="middle" fill="#231f20">1</text>
<text x="1312.2" y="992" font-size="24.9" text-anchor="middle" fill="#231f20">10</text>
<text x="1378.9" y="992" font-size="24.9" text-anchor="middle" fill="#231f20">30</text>
<text x="1425" y="992" font-size="24.9" fill="#231f20">time (min)</text>
<g clip-path="url(#gelclip)">
<rect x="917.8" y="1003.8" width="502.2" height="340" fill="rgb(150,180,180)"/>
<g filter="url(#blur3)">
<rect x="880" y="970" width="110.5" height="75.5" fill="rgb(122,142,150)"/>
<rect x="990" y="970" width="70.5" height="75.5" fill="rgb(125,146,153)"/>
<rect x="1060" y="970" width="75.5" height="75.5" fill="rgb(130,152,157)"/>
<rect x="1135" y="970" width="75.5" height="75.5" fill="rgb(133,158,161)"/>
<rect x="1210" y="970" width="70.5" height="75.5" fill="rgb(145,165,175)"/>
<rect x="1280" y="970" width="70.5" height="75.5" fill="rgb(150,170,182)"/>
<rect x="1350" y="970" width="110.5" height="75.5" fill="rgb(154,173,187)"/>
<rect x="880" y="1045" width="110.5" height="45.5" fill="rgb(128,150,156)"/>
<rect x="990" y="1045" width="70.5" height="45.5" fill="rgb(130,155,159)"/>
<rect x="1060" y="1045" width="75.5" height="45.5" fill="rgb(133,162,165)"/>
<rect x="1135" y="1045" width="75.5" height="45.5" fill="rgb(138,167,169)"/>
<rect x="1210" y="1045" width="70.5" height="45.5" fill="rgb(148,170,178)"/>
<rect x="1280" y="1045" width="70.5" height="45.5" fill="rgb(153,174,184)"/>
<rect x="1350" y="1045" width="110.5" height="45.5" fill="rgb(158,178,190)"/>
<rect x="880" y="1090" width="110.5" height="30.5" fill="rgb(135,164,166)"/>
<rect x="990" y="1090" width="70.5" height="30.5" fill="rgb(135,167,168)"/>
<rect x="1060" y="1090" width="75.5" height="30.5" fill="rgb(135,167,168)"/>
<rect x="1135" y="1090" width="75.5" height="30.5" fill="rgb(138,172,172)"/>
<rect x="1210" y="1090" width="70.5" height="30.5" fill="rgb(150,178,183)"/>
<rect x="1280" y="1090" width="70.5" height="30.5" fill="rgb(160,183,190)"/>
<rect x="1350" y="1090" width="110.5" height="30.5" fill="rgb(168,188,196)"/>
<rect x="880" y="1120" width="110.5" height="80.5" fill="rgb(148,180,183)"/>
<rect x="990" y="1120" width="70.5" height="80.5" fill="rgb(140,176,176)"/>
<rect x="1060" y="1120" width="75.5" height="80.5" fill="rgb(138,174,174)"/>
<rect x="1135" y="1120" width="75.5" height="80.5" fill="rgb(144,180,179)"/>
<rect x="1210" y="1120" width="70.5" height="80.5" fill="rgb(155,188,188)"/>
<rect x="1280" y="1120" width="70.5" height="80.5" fill="rgb(175,200,200)"/>
<rect x="1350" y="1120" width="110.5" height="80.5" fill="rgb(185,206,208)"/>
<rect x="880" y="1200" width="110.5" height="70.5" fill="rgb(152,184,186)"/>
<rect x="990" y="1200" width="70.5" height="70.5" fill="rgb(146,182,181)"/>
<rect x="1060" y="1200" width="75.5" height="70.5" fill="rgb(148,184,182)"/>
<rect x="1135" y="1200" width="75.5" height="70.5" fill="rgb(155,189,188)"/>
<rect x="1210" y="1200" width="70.5" height="70.5" fill="rgb(165,195,195)"/>
<rect x="1280" y="1200" width="70.5" height="70.5" fill="rgb(182,204,206)"/>
<rect x="1350" y="1200" width="110.5" height="70.5" fill="rgb(192,211,214)"/>
<rect x="880" y="1270" width="110.5" height="110.5" fill="rgb(160,190,192)"/>
<rect x="990" y="1270" width="70.5" height="110.5" fill="rgb(156,190,188)"/>
<rect x="1060" y="1270" width="75.5" height="110.5" fill="rgb(158,192,190)"/>
<rect x="1135" y="1270" width="75.5" height="110.5" fill="rgb(160,194,192)"/>
<rect x="1210" y="1270" width="70.5" height="110.5" fill="rgb(170,199,199)"/>
<rect x="1280" y="1270" width="70.5" height="110.5" fill="rgb(188,209,211)"/>
<rect x="1350" y="1270" width="110.5" height="110.5" fill="rgb(195,213,216)"/>
</g>
<g filter="url(#blur1)">
<rect x="923.8" y="1096" width="57.1" height="12" rx="3" fill="rgb(88,108,112)"/>
<rect x="996" y="1096" width="58.6" height="12" rx="3" fill="rgb(88,108,112)"/>
<rect x="1069" y="1096" width="59.3" height="12" rx="3" fill="rgb(86,106,110)"/>
<rect x="1142.6" y="1096" width="56.6" height="12" rx="3" fill="rgb(82,102,106)"/>
<rect x="1214.3" y="1096" width="57.3" height="12" rx="3" fill="rgb(88,108,114)"/>
<rect x="1286" y="1096" width="56.6" height="12" rx="3" fill="rgb(92,112,119)"/>
<rect x="1356.4" y="1096" width="53.6" height="12" rx="3" fill="rgb(122,142,149)"/>
<rect x="1214.3" y="1048.5" width="57.3" height="7.5" rx="3" fill="rgb(122,146,152)"/>
<rect x="1214.3" y="1066" width="57.3" height="8" rx="3" fill="rgb(112,136,144)"/>
<rect x="1286" y="1048.5" width="56.6" height="7.5" rx="3" fill="rgb(118,140,150)"/>
<rect x="1286" y="1066" width="56.6" height="8" rx="3" fill="rgb(110,132,142)"/>
<rect x="1356.4" y="1048.5" width="53.6" height="7.5" rx="3" fill="rgb(125,145,156)"/>
<rect x="1356.4" y="1066" width="53.6" height="8" rx="3" fill="rgb(112,132,144)"/>
<rect x="1002" y="1048" width="46.6" height="5" rx="2" fill="rgb(118,140,146)" opacity="0.45"/>
<rect x="1075" y="1048" width="47.3" height="5" rx="2" fill="rgb(118,140,146)" opacity="0.45"/>
<rect x="1148.6" y="1048" width="44.6" height="5" rx="2" fill="rgb(118,140,146)" opacity="0.45"/>
</g>
<g filter="url(#blur2)">
<ellipse cx="1024" cy="1292.4" rx="32" ry="11" fill="rgb(106,136,137)"/>
<ellipse cx="1097.3" cy="1292.4" rx="29.3" ry="11" fill="rgb(106,136,137)"/>
<ellipse cx="1244.3" cy="1290" rx="30.3" ry="11" fill="rgb(98,126,128)"/>
<ellipse cx="1314.3" cy="1282.6" rx="29.3" ry="11" fill="rgb(116,142,146)"/>
<ellipse cx="1385.8" cy="1276.4" rx="26.8" ry="11" fill="rgb(132,154,159)"/>
</g>
<circle cx="1129" cy="1202.5" r="1.6" fill="#2e3a3a" opacity="0.75"/>
<circle cx="1180" cy="1250" r="1.3" fill="#2e3a3a" opacity="0.75"/>
<circle cx="1003" cy="1066" r="1.0" fill="#2e3a3a" opacity="0.75"/>
<circle cx="1167" cy="1094" r="1.3" fill="#2e3a3a" opacity="0.75"/>
<circle cx="947" cy="1037" r="0.8" fill="#2e3a3a" opacity="0.75"/>
<circle cx="1266" cy="1304" r="0.8" fill="#2e3a3a" opacity="0.75"/>
</g>
<rect x="917.8" y="1003.8" width="502.2" height="340" fill="none" stroke="#111" stroke-width="2.4"/>
<line x1="908.8" y1="1038.3" x2="917.8" y2="1038.3" stroke="#111" stroke-width="2.2"/>
<text x="901.5" y="1047.8" font-size="24.9" text-anchor="end" fill="#231f20">5</text>
<line x1="908.8" y1="1076.3" x2="917.8" y2="1076.3" stroke="#111" stroke-width="2.2"/>
<text x="901.5" y="1085.8" font-size="24.9" text-anchor="end" fill="#231f20">3</text>
<line x1="908.8" y1="1135" x2="917.8" y2="1135" stroke="#111" stroke-width="2.2"/>
<text x="901.5" y="1144.5" font-size="24.9" text-anchor="end" fill="#231f20">1.5</text>
<path d="M1433 1050.4 L1460 1042.6 L1460 1058.2 Z" fill="#111"/>
<path d="M1433 1069.4 L1460 1061.6 L1460 1077.2 Z" fill="#111"/>
<path d="M1433 1098.7 L1460 1090.9 L1460 1106.5 Z" fill="#111"/>
<path d="M1433 1280 L1460 1272.2 L1460 1287.8 Z" fill="#111"/>
<text x="1469.3" y="1056.3" font-size="24.9" fill="#231f20">Nicked</text>
<text x="1469.3" y="1077.7" font-size="24.9" fill="#231f20">Linear</text>
<text x="1468.5" y="1106.7" font-size="24.9" fill="#231f20">Super-</text>
<text x="1543.5" y="1131.5" font-size="24.9" text-anchor="end" fill="#231f20">coiled</text>
<text x="1469.3" y="1288.6" font-size="24.9" fill="#231f20">RNA</text>
<text x="1596.3" y="771.8" font-size="32.5" font-weight="bold" fill="#111">f</text>
<rect x="1826.7" y="999.46" width="26.7" height="216.88" fill="#be1e2d"/>
<rect x="1879.7" y="892.33" width="27.5" height="324.01" fill="#fdf6d8" stroke="#222" stroke-width="1.6"/>
<line x1="1700" y1="1216.34" x2="1931" y2="1216.34" stroke="#111" stroke-width="2" stroke-dasharray="4.5,4.5"/>
<line x1="1840.4" y1="973.33" x2="1840.4" y2="1017.75" stroke="#222" stroke-width="2"/>
<line x1="1893.4" y1="858.36" x2="1893.4" y2="918.46" stroke="#222" stroke-width="2"/>
<line x1="1789.6" y1="1211.11" x2="1789.6" y2="1222.61" stroke="#222" stroke-width="2"/>
<circle cx="1732" cy="1212.16" r="4.6" fill="#c8c8c8" fill-opacity="0.75" stroke="#333" stroke-width="1.3"/>
<circle cx="1739.5" cy="1213.2" r="4.6" fill="#c8c8c8" fill-opacity="0.75" stroke="#333" stroke-width="1.3"/>
<circle cx="1744" cy="1215.29" r="4.6" fill="#c8c8c8" fill-opacity="0.75" stroke="#333" stroke-width="1.3"/>
<circle cx="1789.6" cy="1211.11" r="4.6" fill="#c8c8c8" fill-opacity="0.75" stroke="#333" stroke-width="1.3"/>
<circle cx="1787" cy="1222.61" r="4.6" fill="#c8c8c8" fill-opacity="0.75" stroke="#333" stroke-width="1.3"/>
<circle cx="1792" cy="1221.57" r="4.6" fill="#c8c8c8" fill-opacity="0.75" stroke="#333" stroke-width="1.3"/>
<circle cx="1840.4" cy="973.33" r="4.6" fill="#c8c8c8" fill-opacity="0.75" stroke="#333" stroke-width="1.3"/>
<circle cx="1840.4" cy="1008.35" r="4.6" fill="#c8c8c8" fill-opacity="0.75" stroke="#333" stroke-width="1.3"/>
<circle cx="1840.4" cy="1015.66" r="4.6" fill="#c8c8c8" fill-opacity="0.75" stroke="#333" stroke-width="1.3"/>
<circle cx="1893.4" cy="858.36" r="4.6" fill="#c8c8c8" fill-opacity="0.75" stroke="#333" stroke-width="1.3"/>
<circle cx="1893.4" cy="902.78" r="4.6" fill="#c8c8c8" fill-opacity="0.75" stroke="#333" stroke-width="1.3"/>
<circle cx="1893.4" cy="915.84" r="4.6" fill="#c8c8c8" fill-opacity="0.75" stroke="#333" stroke-width="1.3"/>
<line x1="1837.4" y1="973.33" x2="1843.4" y2="973.33" stroke="#222" stroke-width="1.6"/>
<line x1="1890.4" y1="858.36" x2="1896.4" y2="858.36" stroke="#222" stroke-width="1.6"/>
<line x1="1786.6" y1="1211.11" x2="1792.6" y2="1211.11" stroke="#222" stroke-width="1.6"/>
<line x1="1699.8" y1="838.3" x2="1699.8" y2="1269.8" stroke="#111" stroke-width="2.4"/>
<line x1="1689.4" y1="1268.6" x2="1930.5" y2="1268.6" stroke="#111" stroke-width="2.4"/>
<line x1="1689.4" y1="1268.6" x2="1699.8" y2="1268.6" stroke="#111" stroke-width="2.2"/>
<text x="1683.5" y="1278.1" font-size="24.9" text-anchor="end" fill="#231f20">0</text>
<line x1="1689.4" y1="1216.34" x2="1699.8" y2="1216.34" stroke="#111" stroke-width="2.2"/>
<text x="1683.5" y="1225.84" font-size="24.9" text-anchor="end" fill="#231f20">1</text>
<line x1="1689.4" y1="1164.08" x2="1699.8" y2="1164.08" stroke="#111" stroke-width="2.2"/>
<text x="1683.5" y="1173.58" font-size="24.9" text-anchor="end" fill="#231f20">2</text>
<line x1="1689.4" y1="1111.82" x2="1699.8" y2="1111.82" stroke="#111" stroke-width="2.2"/>
<text x="1683.5" y="1121.32" font-size="24.9" text-anchor="end" fill="#231f20">3</text>
<line x1="1689.4" y1="1059.56" x2="1699.8" y2="1059.56" stroke="#111" stroke-width="2.2"/>
<text x="1683.5" y="1069.06" font-size="24.9" text-anchor="end" fill="#231f20">4</text>
<line x1="1689.4" y1="1007.3" x2="1699.8" y2="1007.3" stroke="#111" stroke-width="2.2"/>
<text x="1683.5" y="1016.8" font-size="24.9" text-anchor="end" fill="#231f20">5</text>
<line x1="1689.4" y1="955.04" x2="1699.8" y2="955.04" stroke="#111" stroke-width="2.2"/>
<text x="1683.5" y="964.54" font-size="24.9" text-anchor="end" fill="#231f20">6</text>
<line x1="1689.4" y1="902.78" x2="1699.8" y2="902.78" stroke="#111" stroke-width="2.2"/>
<text x="1683.5" y="912.28" font-size="24.9" text-anchor="end" fill="#231f20">7</text>
<line x1="1689.4" y1="850.52" x2="1699.8" y2="850.52" stroke="#111" stroke-width="2.2"/>
<text x="1683.5" y="860.02" font-size="24.9" text-anchor="end" fill="#231f20">8</text>
<line x1="1739.5" y1="1268.6" x2="1739.5" y2="1279.6" stroke="#111" stroke-width="2.2"/>
<line x1="1789.6" y1="1268.6" x2="1789.6" y2="1279.6" stroke="#111" stroke-width="2.2"/>
<line x1="1840.4" y1="1268.6" x2="1840.4" y2="1279.6" stroke="#111" stroke-width="2.2"/>
<line x1="1893.4" y1="1268.6" x2="1893.4" y2="1279.6" stroke="#111" stroke-width="2.2"/>
<text x="1739.5" y="837.2" font-size="22" text-anchor="middle" fill="#231f20">ns</text>
<text x="1789.6" y="837.2" font-size="22" text-anchor="middle" fill="#231f20">ns</text>
<text x="1840.4" y="843" font-size="26" text-anchor="middle" fill="#231f20">**</text>
<text x="1893.4" y="843" font-size="26" text-anchor="middle" fill="#231f20">**</text>
<text x="1941.6" y="1209.2" font-size="24.9" fill="#231f20">Plasmid</text>
<text x="1941.6" y="1235.2" font-size="24.9" fill="#231f20">only</text>
<text x="1645" y="1037.6" font-size="28.9" text-anchor="middle" fill="#231f20" transform="rotate(-90 1645 1037.6)">Relative fluorescence</text>
<text x="1750" y="1297.5" font-size="24.9" text-anchor="end" fill="#231f20" transform="rotate(-45 1750 1297.5)">No target RNA</text>
<text x="1792.6" y="1301.7" font-size="24.9" text-anchor="end" fill="#231f20" transform="rotate(-45 1792.6 1301.7)">non-target RNA1</text>
<text x="1843.2" y="1297.3" font-size="24.9" text-anchor="end" fill="#231f20" transform="rotate(-45 1843.2 1297.3)">target RNA</text>
<text x="1900" y="1298.2" font-size="24.9" text-anchor="end" fill="#231f20" transform="rotate(-45 1900 1298.2)">Positive control</text>
</svg></body></html>
